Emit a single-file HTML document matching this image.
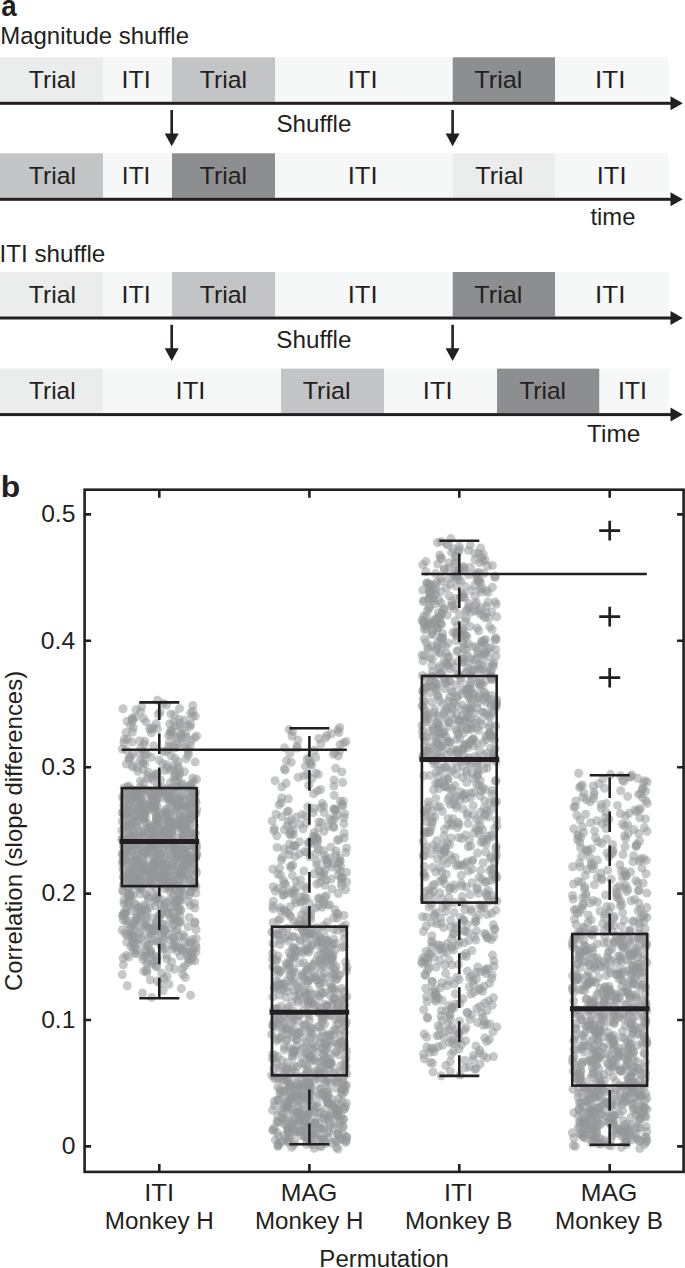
<!DOCTYPE html>
<html><head><meta charset="utf-8"><style>
html,body{margin:0;padding:0;background:#fff;width:685px;height:1268px;overflow:hidden}
svg{display:block}
text{font-family:"Liberation Sans",sans-serif;font-size:23.4px;fill:#231f20}
.d circle{fill:#949598;fill-opacity:0.52}
.b line,.b rect,.b path{stroke:#231f20;stroke-width:2.6;fill:none}
.b text{stroke:none}
</style></head><body>
<svg width="685" height="1268" viewBox="0 0 685 1268">
<rect width="685" height="1268" fill="#fff"/>
<rect x="0" y="57.3" width="103.0" height="44.6" fill="#ebecec"/>
<rect x="103" y="57.3" width="69.0" height="44.6" fill="#f6f7f7"/>
<rect x="172" y="57.3" width="103.0" height="44.6" fill="#c3c4c6"/>
<rect x="275" y="57.3" width="177.7" height="44.6" fill="#f6f7f7"/>
<rect x="452.7" y="57.3" width="102.3" height="44.6" fill="#8d8e90"/>
<rect x="555" y="57.3" width="113.5" height="44.6" fill="#f6f7f7"/>
<text transform="translate(28.77 87.75) scale(1.0588 1.0450)">Trial</text>
<text transform="translate(121.59 87.75) scale(1.0696 1.0450)">ITI</text>
<text transform="translate(199.67 87.75) scale(1.0588 1.0450)">Trial</text>
<text transform="translate(347.63 87.75) scale(1.0957 1.0450)">ITI</text>
<text transform="translate(474.36 87.75) scale(1.0776 1.0450)">Trial</text>
<text transform="translate(595.10 87.75) scale(1.1130 1.0450)">ITI</text>
<rect x="0" y="101.8" width="671" height="3" fill="#231f20"/>
<path d="M670.5 96.3L682.8 103.3L670.5 110.3Z" fill="#231f20"/>
<rect x="0" y="153.3" width="103.0" height="44.6" fill="#c3c4c6"/>
<rect x="103" y="153.3" width="69.0" height="44.6" fill="#f6f7f7"/>
<rect x="172" y="153.3" width="103.0" height="44.6" fill="#8d8e90"/>
<rect x="275" y="153.3" width="177.7" height="44.6" fill="#f6f7f7"/>
<rect x="452.7" y="153.3" width="102.3" height="44.6" fill="#ebecec"/>
<rect x="555" y="153.3" width="113.5" height="44.6" fill="#f6f7f7"/>
<text transform="translate(28.87 184.30) scale(1.0588 1.0450)">Trial</text>
<text transform="translate(121.84 184.30) scale(1.0478 1.0450)">ITI</text>
<text transform="translate(199.77 184.30) scale(1.0588 1.0450)">Trial</text>
<text transform="translate(347.63 184.30) scale(1.0957 1.0450)">ITI</text>
<text transform="translate(475.26 184.30) scale(1.0776 1.0450)">Trial</text>
<text transform="translate(596.74 184.30) scale(1.0913 1.0450)">ITI</text>
<rect x="0" y="197.8" width="671" height="3" fill="#231f20"/>
<path d="M670.5 192.3L682.8 199.3L670.5 206.3Z" fill="#231f20"/>
<rect x="0" y="272.0" width="103.0" height="44.6" fill="#ebecec"/>
<rect x="103" y="272.0" width="69.0" height="44.6" fill="#f6f7f7"/>
<rect x="172" y="272.0" width="103.0" height="44.6" fill="#c3c4c6"/>
<rect x="275" y="272.0" width="177.7" height="44.6" fill="#f6f7f7"/>
<rect x="452.7" y="272.0" width="102.3" height="44.6" fill="#8d8e90"/>
<rect x="555" y="272.0" width="113.5" height="44.6" fill="#f6f7f7"/>
<text transform="translate(28.77 302.70) scale(1.0588 1.0450)">Trial</text>
<text transform="translate(121.59 302.70) scale(1.0696 1.0450)">ITI</text>
<text transform="translate(199.67 302.70) scale(1.0588 1.0450)">Trial</text>
<text transform="translate(347.63 302.70) scale(1.0957 1.0450)">ITI</text>
<text transform="translate(474.36 302.70) scale(1.0776 1.0450)">Trial</text>
<text transform="translate(595.10 302.70) scale(1.1130 1.0450)">ITI</text>
<rect x="0" y="316.5" width="671" height="3" fill="#231f20"/>
<path d="M670.5 311.0L682.8 318.0L670.5 325.0Z" fill="#231f20"/>
<rect x="0" y="368.6" width="103.0" height="44.6" fill="#ebecec"/>
<rect x="103" y="368.6" width="178.0" height="44.6" fill="#f6f7f7"/>
<rect x="281" y="368.6" width="103.0" height="44.6" fill="#c3c4c6"/>
<rect x="384" y="368.6" width="113.0" height="44.6" fill="#f6f7f7"/>
<rect x="497" y="368.6" width="102.5" height="44.6" fill="#8d8e90"/>
<rect x="599.5" y="368.6" width="69.0" height="44.6" fill="#f6f7f7"/>
<text transform="translate(28.98 399.40) scale(1.0447 1.0450)">Trial</text>
<text transform="translate(175.53 399.40) scale(1.0957 1.0450)">ITI</text>
<text transform="translate(302.66 399.40) scale(1.0729 1.0450)">Trial</text>
<text transform="translate(422.85 399.40) scale(1.0870 1.0450)">ITI</text>
<text transform="translate(519.38 399.40) scale(1.0424 1.0450)">Trial</text>
<text transform="translate(617.90 399.40) scale(1.0652 1.0450)">ITI</text>
<rect x="0" y="413.1" width="671" height="3" fill="#231f20"/>
<path d="M670.5 407.6L682.8 414.6L670.5 421.6Z" fill="#231f20"/>
<rect x="170.4" y="110.0" width="2.6" height="25" fill="#231f20"/>
<path d="M164.7 133.5L178.7 133.5L171.7 146.2Z" fill="#231f20"/>
<rect x="451.3" y="110.0" width="2.6" height="25" fill="#231f20"/>
<path d="M445.6 133.5L459.6 133.5L452.6 146.2Z" fill="#231f20"/>
<rect x="170.4" y="324.8" width="2.6" height="25" fill="#231f20"/>
<path d="M164.7 348.3L178.7 348.3L171.7 361.0Z" fill="#231f20"/>
<rect x="451.3" y="324.8" width="2.6" height="25" fill="#231f20"/>
<path d="M445.6 348.3L459.6 348.3L452.6 361.0Z" fill="#231f20"/>
<text transform="translate(276.47 132.40) scale(1.0349 1.0400)">Shuffle</text>
<text transform="translate(276.36 347.60) scale(1.0377 1.0400)">Shuffle</text>
<text transform="translate(590.45 224.90) scale(1.0186 1.0400)">time</text>
<text transform="translate(587.08 442.00) scale(1.0424 1.0400)">Time</text>
<text transform="translate(0.25 43.50) scale(1.0246 1.0400)">Magnitude shuffle</text>
<text transform="translate(-0.58 262.40) scale(1.0348 1.0400)">ITI shuffle</text>
<text transform="translate(1.28 16.4) scale(0.955 1.02)" style="font-weight:bold;font-size:29px">a</text>
<text transform="translate(0.79 497.35) scale(1.097 1.03)" style="font-weight:bold;font-size:29px">b</text>
<g class="d"><circle cx="189.9" cy="942.5" r="4.5"/><circle cx="152.9" cy="847.7" r="4.5"/><circle cx="137.9" cy="855.5" r="4.5"/><circle cx="135.3" cy="717.2" r="4.5"/><circle cx="170.9" cy="823.0" r="4.5"/><circle cx="155.6" cy="823.2" r="4.5"/><circle cx="189.9" cy="726.8" r="4.5"/><circle cx="181.5" cy="804.5" r="4.5"/><circle cx="125.7" cy="814.6" r="4.5"/><circle cx="175.3" cy="726.2" r="4.5"/><circle cx="169.5" cy="884.9" r="4.5"/><circle cx="170.9" cy="907.8" r="4.5"/><circle cx="161.5" cy="863.5" r="4.5"/><circle cx="179.6" cy="908.5" r="4.5"/><circle cx="180.5" cy="948.4" r="4.5"/><circle cx="156.4" cy="941.2" r="4.5"/><circle cx="127.8" cy="887.6" r="4.5"/><circle cx="153.1" cy="727.6" r="4.5"/><circle cx="174.0" cy="826.4" r="4.5"/><circle cx="155.4" cy="774.1" r="4.5"/><circle cx="167.6" cy="835.2" r="4.5"/><circle cx="182.5" cy="885.5" r="4.5"/><circle cx="143.6" cy="783.3" r="4.5"/><circle cx="154.9" cy="883.7" r="4.5"/><circle cx="136.6" cy="826.8" r="4.5"/><circle cx="161.9" cy="881.7" r="4.5"/><circle cx="177.9" cy="899.7" r="4.5"/><circle cx="149.6" cy="793.1" r="4.5"/><circle cx="147.4" cy="789.9" r="4.5"/><circle cx="174.7" cy="969.3" r="4.5"/><circle cx="150.8" cy="828.9" r="4.5"/><circle cx="131.9" cy="936.4" r="4.5"/><circle cx="139.6" cy="740.8" r="4.5"/><circle cx="124.0" cy="903.7" r="4.5"/><circle cx="177.1" cy="805.0" r="4.5"/><circle cx="196.1" cy="848.9" r="4.5"/><circle cx="157.4" cy="805.9" r="4.5"/><circle cx="167.0" cy="911.2" r="4.5"/><circle cx="190.1" cy="845.0" r="4.5"/><circle cx="183.2" cy="837.6" r="4.5"/><circle cx="190.5" cy="905.4" r="4.5"/><circle cx="171.4" cy="822.6" r="4.5"/><circle cx="174.8" cy="842.3" r="4.5"/><circle cx="134.4" cy="882.2" r="4.5"/><circle cx="178.0" cy="788.6" r="4.5"/><circle cx="164.5" cy="888.8" r="4.5"/><circle cx="170.5" cy="782.6" r="4.5"/><circle cx="138.5" cy="799.0" r="4.5"/><circle cx="164.1" cy="831.1" r="4.5"/><circle cx="161.5" cy="909.7" r="4.5"/><circle cx="150.5" cy="827.3" r="4.5"/><circle cx="149.0" cy="944.6" r="4.5"/><circle cx="182.7" cy="826.7" r="4.5"/><circle cx="132.6" cy="719.3" r="4.5"/><circle cx="185.2" cy="977.5" r="4.5"/><circle cx="130.4" cy="819.4" r="4.5"/><circle cx="139.0" cy="860.4" r="4.5"/><circle cx="175.2" cy="883.5" r="4.5"/><circle cx="168.3" cy="797.0" r="4.5"/><circle cx="168.0" cy="879.9" r="4.5"/><circle cx="182.2" cy="836.5" r="4.5"/><circle cx="183.6" cy="850.5" r="4.5"/><circle cx="151.3" cy="839.8" r="4.5"/><circle cx="195.6" cy="792.0" r="4.5"/><circle cx="185.9" cy="879.8" r="4.5"/><circle cx="152.4" cy="851.7" r="4.5"/><circle cx="162.0" cy="841.4" r="4.5"/><circle cx="162.9" cy="863.6" r="4.5"/><circle cx="134.6" cy="848.2" r="4.5"/><circle cx="164.0" cy="876.0" r="4.5"/><circle cx="148.2" cy="832.6" r="4.5"/><circle cx="188.0" cy="858.6" r="4.5"/><circle cx="155.8" cy="861.5" r="4.5"/><circle cx="154.5" cy="857.4" r="4.5"/><circle cx="133.1" cy="832.0" r="4.5"/><circle cx="174.0" cy="937.8" r="4.5"/><circle cx="188.3" cy="862.5" r="4.5"/><circle cx="172.9" cy="899.4" r="4.5"/><circle cx="126.6" cy="909.1" r="4.5"/><circle cx="145.9" cy="905.7" r="4.5"/><circle cx="172.8" cy="845.4" r="4.5"/><circle cx="132.7" cy="791.8" r="4.5"/><circle cx="130.8" cy="837.0" r="4.5"/><circle cx="161.5" cy="874.4" r="4.5"/><circle cx="179.4" cy="885.7" r="4.5"/><circle cx="152.0" cy="797.3" r="4.5"/><circle cx="136.9" cy="859.6" r="4.5"/><circle cx="147.1" cy="754.6" r="4.5"/><circle cx="134.9" cy="817.2" r="4.5"/><circle cx="131.0" cy="822.0" r="4.5"/><circle cx="170.8" cy="801.1" r="4.5"/><circle cx="163.9" cy="830.4" r="4.5"/><circle cx="142.7" cy="850.9" r="4.5"/><circle cx="144.1" cy="870.8" r="4.5"/><circle cx="160.5" cy="780.0" r="4.5"/><circle cx="133.9" cy="925.4" r="4.5"/><circle cx="156.9" cy="819.9" r="4.5"/><circle cx="161.7" cy="882.6" r="4.5"/><circle cx="157.3" cy="957.5" r="4.5"/><circle cx="190.6" cy="848.5" r="4.5"/><circle cx="173.4" cy="722.3" r="4.5"/><circle cx="154.6" cy="932.6" r="4.5"/><circle cx="157.5" cy="700.2" r="4.5"/><circle cx="160.1" cy="712.3" r="4.5"/><circle cx="164.3" cy="866.9" r="4.5"/><circle cx="152.8" cy="863.0" r="4.5"/><circle cx="186.0" cy="758.9" r="4.5"/><circle cx="196.1" cy="947.8" r="4.5"/><circle cx="156.3" cy="723.6" r="4.5"/><circle cx="190.6" cy="713.2" r="4.5"/><circle cx="181.7" cy="827.7" r="4.5"/><circle cx="138.1" cy="943.6" r="4.5"/><circle cx="194.9" cy="908.1" r="4.5"/><circle cx="142.3" cy="865.0" r="4.5"/><circle cx="130.9" cy="896.5" r="4.5"/><circle cx="139.7" cy="753.1" r="4.5"/><circle cx="181.8" cy="743.5" r="4.5"/><circle cx="136.7" cy="877.6" r="4.5"/><circle cx="176.3" cy="810.7" r="4.5"/><circle cx="134.2" cy="815.2" r="4.5"/><circle cx="186.8" cy="820.6" r="4.5"/><circle cx="194.2" cy="876.4" r="4.5"/><circle cx="143.2" cy="852.3" r="4.5"/><circle cx="189.1" cy="818.0" r="4.5"/><circle cx="160.7" cy="877.4" r="4.5"/><circle cx="195.6" cy="944.9" r="4.5"/><circle cx="177.4" cy="776.5" r="4.5"/><circle cx="163.6" cy="832.2" r="4.5"/><circle cx="172.8" cy="937.5" r="4.5"/><circle cx="154.8" cy="801.9" r="4.5"/><circle cx="190.0" cy="952.7" r="4.5"/><circle cx="141.2" cy="912.2" r="4.5"/><circle cx="156.1" cy="966.0" r="4.5"/><circle cx="196.6" cy="809.8" r="4.5"/><circle cx="132.2" cy="718.0" r="4.5"/><circle cx="169.0" cy="839.2" r="4.5"/><circle cx="184.9" cy="965.9" r="4.5"/><circle cx="172.6" cy="945.7" r="4.5"/><circle cx="130.1" cy="906.2" r="4.5"/><circle cx="123.0" cy="862.2" r="4.5"/><circle cx="188.9" cy="856.1" r="4.5"/><circle cx="184.1" cy="821.6" r="4.5"/><circle cx="139.9" cy="787.6" r="4.5"/><circle cx="131.1" cy="862.0" r="4.5"/><circle cx="168.3" cy="934.5" r="4.5"/><circle cx="182.1" cy="729.8" r="4.5"/><circle cx="147.7" cy="879.4" r="4.5"/><circle cx="135.7" cy="926.3" r="4.5"/><circle cx="168.3" cy="819.9" r="4.5"/><circle cx="128.9" cy="902.0" r="4.5"/><circle cx="183.2" cy="865.9" r="4.5"/><circle cx="146.5" cy="945.5" r="4.5"/><circle cx="135.1" cy="808.3" r="4.5"/><circle cx="132.2" cy="944.0" r="4.5"/><circle cx="152.8" cy="837.4" r="4.5"/><circle cx="140.0" cy="843.3" r="4.5"/><circle cx="137.1" cy="882.6" r="4.5"/><circle cx="164.8" cy="948.1" r="4.5"/><circle cx="133.1" cy="941.6" r="4.5"/><circle cx="170.2" cy="870.2" r="4.5"/><circle cx="177.4" cy="786.2" r="4.5"/><circle cx="156.0" cy="853.4" r="4.5"/><circle cx="183.3" cy="836.8" r="4.5"/><circle cx="172.8" cy="731.0" r="4.5"/><circle cx="150.2" cy="792.8" r="4.5"/><circle cx="168.5" cy="858.7" r="4.5"/><circle cx="132.5" cy="798.0" r="4.5"/><circle cx="184.7" cy="858.4" r="4.5"/><circle cx="135.1" cy="904.6" r="4.5"/><circle cx="190.0" cy="814.4" r="4.5"/><circle cx="140.4" cy="877.1" r="4.5"/><circle cx="130.5" cy="812.0" r="4.5"/><circle cx="127.3" cy="985.7" r="4.5"/><circle cx="130.3" cy="880.3" r="4.5"/><circle cx="173.4" cy="766.3" r="4.5"/><circle cx="182.0" cy="873.9" r="4.5"/><circle cx="144.3" cy="837.1" r="4.5"/><circle cx="127.2" cy="721.2" r="4.5"/><circle cx="171.1" cy="755.8" r="4.5"/><circle cx="190.9" cy="813.5" r="4.5"/><circle cx="160.1" cy="835.5" r="4.5"/><circle cx="125.5" cy="913.2" r="4.5"/><circle cx="192.1" cy="788.1" r="4.5"/><circle cx="127.8" cy="846.9" r="4.5"/><circle cx="126.3" cy="920.5" r="4.5"/><circle cx="196.8" cy="854.1" r="4.5"/><circle cx="145.6" cy="817.7" r="4.5"/><circle cx="122.7" cy="863.2" r="4.5"/><circle cx="180.9" cy="875.8" r="4.5"/><circle cx="145.0" cy="763.9" r="4.5"/><circle cx="178.8" cy="873.2" r="4.5"/><circle cx="174.8" cy="758.3" r="4.5"/><circle cx="152.8" cy="940.4" r="4.5"/><circle cx="168.2" cy="868.9" r="4.5"/><circle cx="148.3" cy="938.8" r="4.5"/><circle cx="173.1" cy="885.9" r="4.5"/><circle cx="170.8" cy="816.4" r="4.5"/><circle cx="175.0" cy="816.1" r="4.5"/><circle cx="164.8" cy="904.3" r="4.5"/><circle cx="132.7" cy="935.6" r="4.5"/><circle cx="154.8" cy="807.0" r="4.5"/><circle cx="184.2" cy="865.4" r="4.5"/><circle cx="155.8" cy="865.0" r="4.5"/><circle cx="179.9" cy="915.9" r="4.5"/><circle cx="129.1" cy="897.8" r="4.5"/><circle cx="162.2" cy="814.3" r="4.5"/><circle cx="156.5" cy="817.4" r="4.5"/><circle cx="154.4" cy="863.3" r="4.5"/><circle cx="195.2" cy="762.1" r="4.5"/><circle cx="122.9" cy="869.5" r="4.5"/><circle cx="161.6" cy="913.8" r="4.5"/><circle cx="162.2" cy="791.7" r="4.5"/><circle cx="136.6" cy="793.7" r="4.5"/><circle cx="141.6" cy="867.3" r="4.5"/><circle cx="180.1" cy="726.4" r="4.5"/><circle cx="192.9" cy="791.6" r="4.5"/><circle cx="139.9" cy="931.5" r="4.5"/><circle cx="166.0" cy="751.8" r="4.5"/><circle cx="181.4" cy="829.1" r="4.5"/><circle cx="147.1" cy="805.8" r="4.5"/><circle cx="156.4" cy="821.0" r="4.5"/><circle cx="130.3" cy="875.3" r="4.5"/><circle cx="182.8" cy="738.5" r="4.5"/><circle cx="188.4" cy="857.2" r="4.5"/><circle cx="169.4" cy="742.2" r="4.5"/><circle cx="130.6" cy="725.3" r="4.5"/><circle cx="187.9" cy="724.9" r="4.5"/><circle cx="138.1" cy="771.4" r="4.5"/><circle cx="124.9" cy="933.1" r="4.5"/><circle cx="139.7" cy="798.7" r="4.5"/><circle cx="169.3" cy="849.7" r="4.5"/><circle cx="140.9" cy="803.2" r="4.5"/><circle cx="177.4" cy="902.1" r="4.5"/><circle cx="134.2" cy="795.6" r="4.5"/><circle cx="148.0" cy="962.9" r="4.5"/><circle cx="134.8" cy="817.5" r="4.5"/><circle cx="145.6" cy="853.2" r="4.5"/><circle cx="169.2" cy="939.9" r="4.5"/><circle cx="143.4" cy="871.0" r="4.5"/><circle cx="129.7" cy="825.5" r="4.5"/><circle cx="174.0" cy="825.8" r="4.5"/><circle cx="183.6" cy="833.5" r="4.5"/><circle cx="125.9" cy="819.6" r="4.5"/><circle cx="168.5" cy="820.9" r="4.5"/><circle cx="196.0" cy="886.2" r="4.5"/><circle cx="183.5" cy="839.7" r="4.5"/><circle cx="174.4" cy="944.2" r="4.5"/><circle cx="141.1" cy="810.0" r="4.5"/><circle cx="193.3" cy="862.9" r="4.5"/><circle cx="160.4" cy="983.5" r="4.5"/><circle cx="188.4" cy="846.5" r="4.5"/><circle cx="129.7" cy="896.7" r="4.5"/><circle cx="182.5" cy="949.2" r="4.5"/><circle cx="147.9" cy="852.6" r="4.5"/><circle cx="155.7" cy="835.3" r="4.5"/><circle cx="190.1" cy="886.6" r="4.5"/><circle cx="179.4" cy="820.0" r="4.5"/><circle cx="123.2" cy="837.9" r="4.5"/><circle cx="129.4" cy="920.9" r="4.5"/><circle cx="147.5" cy="828.5" r="4.5"/><circle cx="162.4" cy="790.7" r="4.5"/><circle cx="128.7" cy="934.3" r="4.5"/><circle cx="151.4" cy="732.8" r="4.5"/><circle cx="156.8" cy="966.9" r="4.5"/><circle cx="179.2" cy="719.4" r="4.5"/><circle cx="179.5" cy="708.6" r="4.5"/><circle cx="155.8" cy="897.6" r="4.5"/><circle cx="188.3" cy="752.6" r="4.5"/><circle cx="190.6" cy="818.8" r="4.5"/><circle cx="161.7" cy="933.8" r="4.5"/><circle cx="127.0" cy="849.7" r="4.5"/><circle cx="162.5" cy="787.4" r="4.5"/><circle cx="168.5" cy="735.2" r="4.5"/><circle cx="141.7" cy="706.8" r="4.5"/><circle cx="123.9" cy="800.0" r="4.5"/><circle cx="146.7" cy="851.8" r="4.5"/><circle cx="191.1" cy="740.5" r="4.5"/><circle cx="190.0" cy="862.4" r="4.5"/><circle cx="163.7" cy="874.6" r="4.5"/><circle cx="138.9" cy="811.4" r="4.5"/><circle cx="194.4" cy="796.6" r="4.5"/><circle cx="137.7" cy="889.1" r="4.5"/><circle cx="156.8" cy="861.1" r="4.5"/><circle cx="168.6" cy="749.8" r="4.5"/><circle cx="130.8" cy="789.0" r="4.5"/><circle cx="141.0" cy="851.1" r="4.5"/><circle cx="164.9" cy="878.7" r="4.5"/><circle cx="133.4" cy="727.8" r="4.5"/><circle cx="177.4" cy="907.1" r="4.5"/><circle cx="134.3" cy="936.7" r="4.5"/><circle cx="181.4" cy="841.7" r="4.5"/><circle cx="141.0" cy="910.4" r="4.5"/><circle cx="172.4" cy="836.0" r="4.5"/><circle cx="143.7" cy="956.6" r="4.5"/><circle cx="141.4" cy="800.5" r="4.5"/><circle cx="159.2" cy="918.2" r="4.5"/><circle cx="135.6" cy="868.3" r="4.5"/><circle cx="157.3" cy="981.0" r="4.5"/><circle cx="147.3" cy="775.2" r="4.5"/><circle cx="138.2" cy="838.1" r="4.5"/><circle cx="190.8" cy="807.9" r="4.5"/><circle cx="168.9" cy="913.7" r="4.5"/><circle cx="147.3" cy="925.7" r="4.5"/><circle cx="172.2" cy="788.7" r="4.5"/><circle cx="136.2" cy="844.1" r="4.5"/><circle cx="186.1" cy="824.3" r="4.5"/><circle cx="177.4" cy="738.1" r="4.5"/><circle cx="135.5" cy="885.1" r="4.5"/><circle cx="196.2" cy="938.4" r="4.5"/><circle cx="188.5" cy="962.4" r="4.5"/><circle cx="172.4" cy="948.9" r="4.5"/><circle cx="179.1" cy="936.0" r="4.5"/><circle cx="173.7" cy="894.0" r="4.5"/><circle cx="192.3" cy="818.6" r="4.5"/><circle cx="135.0" cy="860.7" r="4.5"/><circle cx="179.4" cy="849.5" r="4.5"/><circle cx="158.1" cy="811.6" r="4.5"/><circle cx="159.0" cy="820.7" r="4.5"/><circle cx="169.5" cy="835.1" r="4.5"/><circle cx="136.2" cy="953.8" r="4.5"/><circle cx="160.4" cy="914.8" r="4.5"/><circle cx="156.4" cy="889.6" r="4.5"/><circle cx="144.7" cy="805.1" r="4.5"/><circle cx="127.5" cy="840.2" r="4.5"/><circle cx="123.3" cy="964.7" r="4.5"/><circle cx="185.8" cy="828.3" r="4.5"/><circle cx="183.0" cy="859.8" r="4.5"/><circle cx="167.2" cy="976.4" r="4.5"/><circle cx="178.2" cy="893.7" r="4.5"/><circle cx="150.5" cy="952.0" r="4.5"/><circle cx="138.4" cy="850.3" r="4.5"/><circle cx="157.6" cy="895.6" r="4.5"/><circle cx="190.0" cy="797.4" r="4.5"/><circle cx="150.5" cy="868.1" r="4.5"/><circle cx="161.1" cy="943.0" r="4.5"/><circle cx="173.6" cy="745.4" r="4.5"/><circle cx="183.6" cy="829.5" r="4.5"/><circle cx="194.6" cy="887.4" r="4.5"/><circle cx="127.2" cy="878.0" r="4.5"/><circle cx="157.4" cy="773.5" r="4.5"/><circle cx="196.5" cy="872.5" r="4.5"/><circle cx="174.4" cy="780.9" r="4.5"/><circle cx="140.0" cy="878.2" r="4.5"/><circle cx="158.1" cy="898.6" r="4.5"/><circle cx="158.6" cy="915.2" r="4.5"/><circle cx="126.2" cy="955.5" r="4.5"/><circle cx="153.2" cy="805.7" r="4.5"/><circle cx="172.6" cy="880.4" r="4.5"/><circle cx="150.4" cy="979.9" r="4.5"/><circle cx="189.9" cy="799.3" r="4.5"/><circle cx="162.7" cy="834.8" r="4.5"/><circle cx="132.3" cy="720.7" r="4.5"/><circle cx="140.7" cy="880.1" r="4.5"/><circle cx="196.0" cy="843.8" r="4.5"/><circle cx="189.3" cy="959.5" r="4.5"/><circle cx="124.2" cy="787.8" r="4.5"/><circle cx="143.4" cy="830.2" r="4.5"/><circle cx="194.6" cy="842.5" r="4.5"/><circle cx="182.7" cy="974.2" r="4.5"/><circle cx="143.0" cy="832.8" r="4.5"/><circle cx="150.9" cy="802.7" r="4.5"/><circle cx="145.0" cy="950.2" r="4.5"/><circle cx="157.3" cy="818.2" r="4.5"/><circle cx="192.1" cy="886.9" r="4.5"/><circle cx="195.7" cy="857.0" r="4.5"/><circle cx="144.3" cy="821.3" r="4.5"/><circle cx="168.9" cy="984.2" r="4.5"/><circle cx="122.6" cy="890.2" r="4.5"/><circle cx="169.4" cy="802.8" r="4.5"/><circle cx="179.6" cy="772.8" r="4.5"/><circle cx="159.9" cy="844.8" r="4.5"/><circle cx="187.3" cy="808.2" r="4.5"/><circle cx="175.2" cy="808.5" r="4.5"/><circle cx="130.5" cy="867.0" r="4.5"/><circle cx="161.0" cy="864.2" r="4.5"/><circle cx="143.3" cy="871.4" r="4.5"/><circle cx="141.1" cy="875.0" r="4.5"/><circle cx="173.4" cy="848.5" r="4.5"/><circle cx="143.4" cy="856.7" r="4.5"/><circle cx="146.8" cy="970.4" r="4.5"/><circle cx="140.8" cy="938.5" r="4.5"/><circle cx="163.5" cy="798.0" r="4.5"/><circle cx="140.5" cy="781.0" r="4.5"/><circle cx="157.8" cy="870.4" r="4.5"/><circle cx="131.0" cy="910.8" r="4.5"/><circle cx="159.8" cy="853.8" r="4.5"/><circle cx="134.6" cy="870.9" r="4.5"/><circle cx="168.0" cy="830.8" r="4.5"/><circle cx="170.4" cy="770.3" r="4.5"/><circle cx="145.8" cy="851.5" r="4.5"/><circle cx="138.4" cy="919.4" r="4.5"/><circle cx="184.4" cy="937.2" r="4.5"/><circle cx="148.5" cy="897.0" r="4.5"/><circle cx="145.7" cy="956.4" r="4.5"/><circle cx="190.3" cy="785.5" r="4.5"/><circle cx="135.7" cy="920.5" r="4.5"/><circle cx="168.7" cy="746.4" r="4.5"/><circle cx="180.6" cy="900.8" r="4.5"/><circle cx="148.2" cy="842.0" r="4.5"/><circle cx="127.6" cy="739.1" r="4.5"/><circle cx="156.7" cy="834.1" r="4.5"/><circle cx="142.2" cy="815.0" r="4.5"/><circle cx="131.1" cy="927.3" r="4.5"/><circle cx="150.5" cy="891.3" r="4.5"/><circle cx="192.9" cy="800.4" r="4.5"/><circle cx="145.9" cy="838.3" r="4.5"/><circle cx="172.7" cy="876.1" r="4.5"/><circle cx="134.5" cy="947.1" r="4.5"/><circle cx="126.4" cy="764.1" r="4.5"/><circle cx="146.5" cy="852.9" r="4.5"/><circle cx="155.9" cy="881.4" r="4.5"/><circle cx="184.7" cy="866.8" r="4.5"/><circle cx="139.2" cy="907.3" r="4.5"/><circle cx="125.1" cy="794.0" r="4.5"/><circle cx="168.7" cy="822.4" r="4.5"/><circle cx="156.5" cy="960.8" r="4.5"/><circle cx="142.5" cy="836.3" r="4.5"/><circle cx="142.8" cy="959.3" r="4.5"/><circle cx="163.2" cy="990.6" r="4.5"/><circle cx="168.1" cy="813.7" r="4.5"/><circle cx="144.0" cy="864.6" r="4.5"/><circle cx="194.9" cy="737.6" r="4.5"/><circle cx="169.7" cy="799.8" r="4.5"/><circle cx="192.0" cy="861.9" r="4.5"/><circle cx="126.5" cy="750.3" r="4.5"/><circle cx="180.0" cy="798.3" r="4.5"/><circle cx="184.3" cy="788.2" r="4.5"/><circle cx="152.2" cy="840.9" r="4.5"/><circle cx="152.7" cy="874.0" r="4.5"/><circle cx="126.9" cy="794.3" r="4.5"/><circle cx="172.1" cy="885.3" r="4.5"/><circle cx="161.3" cy="841.3" r="4.5"/><circle cx="135.7" cy="790.2" r="4.5"/><circle cx="184.3" cy="800.6" r="4.5"/><circle cx="130.2" cy="803.2" r="4.5"/><circle cx="178.5" cy="856.5" r="4.5"/><circle cx="189.3" cy="855.8" r="4.5"/><circle cx="192.8" cy="705.5" r="4.5"/><circle cx="123.9" cy="912.5" r="4.5"/><circle cx="129.5" cy="833.1" r="4.5"/><circle cx="148.4" cy="928.0" r="4.5"/><circle cx="163.3" cy="791.2" r="4.5"/><circle cx="165.8" cy="812.7" r="4.5"/><circle cx="153.5" cy="796.4" r="4.5"/><circle cx="134.4" cy="792.1" r="4.5"/><circle cx="127.3" cy="807.0" r="4.5"/><circle cx="183.4" cy="816.0" r="4.5"/><circle cx="196.6" cy="735.9" r="4.5"/><circle cx="136.6" cy="916.9" r="4.5"/><circle cx="130.6" cy="894.7" r="4.5"/><circle cx="146.5" cy="823.4" r="4.5"/><circle cx="184.4" cy="794.2" r="4.5"/><circle cx="166.6" cy="955.0" r="4.5"/><circle cx="181.7" cy="858.2" r="4.5"/><circle cx="155.0" cy="835.8" r="4.5"/><circle cx="172.2" cy="854.7" r="4.5"/><circle cx="123.0" cy="708.7" r="4.5"/><circle cx="142.8" cy="803.4" r="4.5"/><circle cx="165.2" cy="842.8" r="4.5"/><circle cx="171.0" cy="828.1" r="4.5"/><circle cx="181.9" cy="827.1" r="4.5"/><circle cx="146.7" cy="934.9" r="4.5"/><circle cx="171.6" cy="834.6" r="4.5"/><circle cx="159.8" cy="852.8" r="4.5"/><circle cx="123.1" cy="958.0" r="4.5"/><circle cx="154.0" cy="868.1" r="4.5"/><circle cx="156.4" cy="924.0" r="4.5"/><circle cx="154.3" cy="845.0" r="4.5"/><circle cx="170.9" cy="831.4" r="4.5"/><circle cx="152.7" cy="874.8" r="4.5"/><circle cx="193.1" cy="950.9" r="4.5"/><circle cx="128.7" cy="759.5" r="4.5"/><circle cx="123.3" cy="885.0" r="4.5"/><circle cx="144.4" cy="789.7" r="4.5"/><circle cx="190.4" cy="804.7" r="4.5"/><circle cx="167.6" cy="809.0" r="4.5"/><circle cx="153.0" cy="868.6" r="4.5"/><circle cx="144.4" cy="924.9" r="4.5"/><circle cx="170.2" cy="854.5" r="4.5"/><circle cx="175.9" cy="852.5" r="4.5"/><circle cx="140.1" cy="760.2" r="4.5"/><circle cx="192.7" cy="871.2" r="4.5"/><circle cx="163.9" cy="978.3" r="4.5"/><circle cx="124.0" cy="900.1" r="4.5"/><circle cx="134.0" cy="943.3" r="4.5"/><circle cx="161.3" cy="946.3" r="4.5"/><circle cx="174.4" cy="902.9" r="4.5"/><circle cx="144.0" cy="884.1" r="4.5"/><circle cx="166.1" cy="831.7" r="4.5"/><circle cx="143.5" cy="816.5" r="4.5"/><circle cx="166.5" cy="767.5" r="4.5"/><circle cx="179.2" cy="837.7" r="4.5"/><circle cx="181.5" cy="872.9" r="4.5"/><circle cx="187.7" cy="946.2" r="4.5"/><circle cx="194.5" cy="882.3" r="4.5"/><circle cx="144.7" cy="741.2" r="4.5"/><circle cx="132.4" cy="732.1" r="4.5"/><circle cx="155.3" cy="811.8" r="4.5"/><circle cx="196.3" cy="854.9" r="4.5"/><circle cx="146.9" cy="864.8" r="4.5"/><circle cx="137.4" cy="859.4" r="4.5"/><circle cx="164.6" cy="872.5" r="4.5"/><circle cx="167.0" cy="764.8" r="4.5"/><circle cx="183.7" cy="951.3" r="4.5"/><circle cx="164.8" cy="833.6" r="4.5"/><circle cx="174.2" cy="777.1" r="4.5"/><circle cx="122.9" cy="915.4" r="4.5"/><circle cx="130.5" cy="799.7" r="4.5"/><circle cx="175.3" cy="875.1" r="4.5"/><circle cx="137.4" cy="767.9" r="4.5"/><circle cx="177.5" cy="807.2" r="4.5"/><circle cx="189.5" cy="804.4" r="4.5"/><circle cx="146.4" cy="909.2" r="4.5"/><circle cx="181.2" cy="784.9" r="4.5"/><circle cx="158.9" cy="827.0" r="4.5"/><circle cx="192.1" cy="868.7" r="4.5"/><circle cx="150.1" cy="828.1" r="4.5"/><circle cx="192.8" cy="777.9" r="4.5"/><circle cx="132.3" cy="938.0" r="4.5"/><circle cx="184.6" cy="894.5" r="4.5"/><circle cx="143.3" cy="819.3" r="4.5"/><circle cx="154.8" cy="801.4" r="4.5"/><circle cx="126.8" cy="843.2" r="4.5"/><circle cx="166.5" cy="902.6" r="4.5"/><circle cx="189.0" cy="895.4" r="4.5"/><circle cx="127.2" cy="840.0" r="4.5"/><circle cx="151.3" cy="790.6" r="4.5"/><circle cx="133.2" cy="950.1" r="4.5"/><circle cx="164.3" cy="932.5" r="4.5"/><circle cx="189.8" cy="824.2" r="4.5"/><circle cx="175.3" cy="736.8" r="4.5"/><circle cx="190.5" cy="995.2" r="4.5"/><circle cx="196.1" cy="802.5" r="4.5"/><circle cx="149.5" cy="728.8" r="4.5"/><circle cx="153.0" cy="793.4" r="4.5"/><circle cx="192.4" cy="833.8" r="4.5"/><circle cx="183.3" cy="867.8" r="4.5"/><circle cx="137.6" cy="877.3" r="4.5"/><circle cx="175.5" cy="947.2" r="4.5"/><circle cx="142.8" cy="817.9" r="4.5"/><circle cx="163.5" cy="703.5" r="4.5"/><circle cx="181.6" cy="825.3" r="4.5"/><circle cx="183.1" cy="853.9" r="4.5"/><circle cx="125.3" cy="851.2" r="4.5"/><circle cx="183.6" cy="942.0" r="4.5"/><circle cx="131.9" cy="742.0" r="4.5"/><circle cx="127.4" cy="880.7" r="4.5"/><circle cx="175.6" cy="821.9" r="4.5"/><circle cx="155.5" cy="845.8" r="4.5"/><circle cx="134.2" cy="874.3" r="4.5"/><circle cx="171.9" cy="824.6" r="4.5"/><circle cx="160.4" cy="928.2" r="4.5"/><circle cx="123.3" cy="920.0" r="4.5"/><circle cx="195.9" cy="893.0" r="4.5"/><circle cx="173.4" cy="793.7" r="4.5"/><circle cx="156.6" cy="921.6" r="4.5"/><circle cx="166.5" cy="822.8" r="4.5"/><circle cx="148.4" cy="772.2" r="4.5"/><circle cx="127.5" cy="826.1" r="4.5"/><circle cx="149.3" cy="846.6" r="4.5"/><circle cx="184.4" cy="771.8" r="4.5"/><circle cx="137.8" cy="883.0" r="4.5"/><circle cx="160.6" cy="841.8" r="4.5"/><circle cx="134.2" cy="856.4" r="4.5"/><circle cx="182.3" cy="806.5" r="4.5"/><circle cx="151.3" cy="729.2" r="4.5"/><circle cx="188.7" cy="951.9" r="4.5"/><circle cx="181.1" cy="910.1" r="4.5"/><circle cx="132.7" cy="801.6" r="4.5"/><circle cx="158.6" cy="869.3" r="4.5"/><circle cx="189.2" cy="917.5" r="4.5"/><circle cx="149.6" cy="844.2" r="4.5"/><circle cx="145.7" cy="812.8" r="4.5"/><circle cx="124.4" cy="739.5" r="4.5"/><circle cx="129.3" cy="835.8" r="4.5"/><circle cx="169.1" cy="830.9" r="4.5"/><circle cx="186.3" cy="869.2" r="4.5"/><circle cx="130.3" cy="928.8" r="4.5"/><circle cx="186.8" cy="828.5" r="4.5"/><circle cx="164.2" cy="812.2" r="4.5"/><circle cx="133.4" cy="765.3" r="4.5"/><circle cx="138.5" cy="836.1" r="4.5"/><circle cx="150.1" cy="879.6" r="4.5"/><circle cx="186.9" cy="859.1" r="4.5"/><circle cx="192.7" cy="711.2" r="4.5"/><circle cx="190.9" cy="818.3" r="4.5"/><circle cx="165.1" cy="930.2" r="4.5"/><circle cx="146.8" cy="912.0" r="4.5"/><circle cx="174.9" cy="830.1" r="4.5"/><circle cx="154.5" cy="793.5" r="4.5"/><circle cx="143.3" cy="905.0" r="4.5"/><circle cx="179.5" cy="922.8" r="4.5"/><circle cx="134.6" cy="795.3" r="4.5"/><circle cx="127.5" cy="923.7" r="4.5"/><circle cx="126.2" cy="849.8" r="4.5"/><circle cx="177.9" cy="822.5" r="4.5"/><circle cx="175.6" cy="848.2" r="4.5"/><circle cx="151.7" cy="878.9" r="4.5"/><circle cx="132.5" cy="753.9" r="4.5"/><circle cx="169.6" cy="887.9" r="4.5"/><circle cx="162.5" cy="924.1" r="4.5"/><circle cx="164.6" cy="924.9" r="4.5"/><circle cx="174.4" cy="906.7" r="4.5"/><circle cx="158.4" cy="714.4" r="4.5"/><circle cx="184.4" cy="720.2" r="4.5"/><circle cx="188.2" cy="833.1" r="4.5"/><circle cx="134.0" cy="842.5" r="4.5"/><circle cx="152.4" cy="778.0" r="4.5"/><circle cx="122.1" cy="930.1" r="4.5"/><circle cx="188.5" cy="795.1" r="4.5"/><circle cx="190.2" cy="745.2" r="4.5"/><circle cx="177.5" cy="851.4" r="4.5"/><circle cx="167.9" cy="872.0" r="4.5"/><circle cx="157.0" cy="849.2" r="4.5"/><circle cx="150.1" cy="953.2" r="4.5"/><circle cx="191.5" cy="834.6" r="4.5"/><circle cx="152.4" cy="918.1" r="4.5"/><circle cx="195.0" cy="794.8" r="4.5"/><circle cx="170.9" cy="714.0" r="4.5"/><circle cx="167.1" cy="819.5" r="4.5"/><circle cx="181.6" cy="849.1" r="4.5"/><circle cx="137.1" cy="911.7" r="4.5"/><circle cx="157.5" cy="786.8" r="4.5"/><circle cx="144.2" cy="926.5" r="4.5"/><circle cx="173.0" cy="912.7" r="4.5"/><circle cx="160.5" cy="904.2" r="4.5"/><circle cx="176.8" cy="864.3" r="4.5"/><circle cx="181.2" cy="734.6" r="4.5"/><circle cx="164.8" cy="883.2" r="4.5"/><circle cx="154.4" cy="930.8" r="4.5"/><circle cx="189.5" cy="812.4" r="4.5"/><circle cx="157.9" cy="792.9" r="4.5"/><circle cx="178.4" cy="782.4" r="4.5"/><circle cx="171.7" cy="961.7" r="4.5"/><circle cx="163.3" cy="871.4" r="4.5"/><circle cx="138.9" cy="803.7" r="4.5"/><circle cx="151.4" cy="933.6" r="4.5"/><circle cx="136.8" cy="799.2" r="4.5"/><circle cx="129.3" cy="824.8" r="4.5"/><circle cx="131.6" cy="840.1" r="4.5"/><circle cx="146.5" cy="833.9" r="4.5"/><circle cx="133.4" cy="861.0" r="4.5"/><circle cx="195.4" cy="857.8" r="4.5"/><circle cx="183.2" cy="934.8" r="4.5"/><circle cx="172.5" cy="876.3" r="4.5"/><circle cx="194.5" cy="815.3" r="4.5"/><circle cx="159.1" cy="878.3" r="4.5"/><circle cx="192.2" cy="954.3" r="4.5"/><circle cx="145.7" cy="850.5" r="4.5"/><circle cx="147.4" cy="945.3" r="4.5"/><circle cx="147.9" cy="867.9" r="4.5"/><circle cx="186.0" cy="747.1" r="4.5"/><circle cx="143.4" cy="789.2" r="4.5"/><circle cx="149.5" cy="907.6" r="4.5"/><circle cx="180.4" cy="956.0" r="4.5"/><circle cx="181.8" cy="848.7" r="4.5"/><circle cx="153.4" cy="859.1" r="4.5"/><circle cx="161.1" cy="854.4" r="4.5"/><circle cx="181.0" cy="874.7" r="4.5"/><circle cx="133.1" cy="807.6" r="4.5"/><circle cx="179.1" cy="775.5" r="4.5"/><circle cx="192.6" cy="939.5" r="4.5"/><circle cx="122.8" cy="853.6" r="4.5"/><circle cx="135.6" cy="952.9" r="4.5"/><circle cx="124.9" cy="882.8" r="4.5"/><circle cx="126.8" cy="871.8" r="4.5"/><circle cx="157.0" cy="926.0" r="4.5"/><circle cx="173.7" cy="890.4" r="4.5"/><circle cx="180.0" cy="815.5" r="4.5"/><circle cx="155.4" cy="898.8" r="4.5"/><circle cx="151.6" cy="830.7" r="4.5"/><circle cx="188.4" cy="901.5" r="4.5"/><circle cx="163.0" cy="949.0" r="4.5"/><circle cx="133.9" cy="845.9" r="4.5"/><circle cx="155.4" cy="866.5" r="4.5"/><circle cx="156.5" cy="788.9" r="4.5"/><circle cx="151.2" cy="928.6" r="4.5"/><circle cx="128.6" cy="785.9" r="4.5"/><circle cx="170.9" cy="795.5" r="4.5"/><circle cx="124.5" cy="914.4" r="4.5"/><circle cx="192.1" cy="803.9" r="4.5"/><circle cx="196.0" cy="813.2" r="4.5"/><circle cx="156.9" cy="940.9" r="4.5"/><circle cx="141.0" cy="888.4" r="4.5"/><circle cx="157.2" cy="798.5" r="4.5"/><circle cx="123.7" cy="805.4" r="4.5"/><circle cx="185.8" cy="807.8" r="4.5"/><circle cx="146.7" cy="963.8" r="4.5"/><circle cx="188.2" cy="926.8" r="4.5"/><circle cx="133.0" cy="882.0" r="4.5"/><circle cx="173.4" cy="924.5" r="4.5"/><circle cx="132.8" cy="823.1" r="4.5"/><circle cx="126.1" cy="732.4" r="4.5"/><circle cx="137.0" cy="949.6" r="4.5"/><circle cx="185.1" cy="825.2" r="4.5"/><circle cx="162.0" cy="834.9" r="4.5"/><circle cx="170.3" cy="839.1" r="4.5"/><circle cx="143.5" cy="808.1" r="4.5"/><circle cx="166.7" cy="865.2" r="4.5"/><circle cx="180.1" cy="873.5" r="4.5"/><circle cx="173.3" cy="881.0" r="4.5"/><circle cx="143.4" cy="718.5" r="4.5"/><circle cx="154.2" cy="844.4" r="4.5"/><circle cx="125.6" cy="797.8" r="4.5"/><circle cx="137.7" cy="869.7" r="4.5"/><circle cx="123.7" cy="810.6" r="4.5"/><circle cx="163.3" cy="884.0" r="4.5"/><circle cx="157.3" cy="728.7" r="4.5"/><circle cx="123.9" cy="742.7" r="4.5"/><circle cx="192.6" cy="957.7" r="4.5"/><circle cx="171.5" cy="829.3" r="4.5"/><circle cx="192.0" cy="838.7" r="4.5"/><circle cx="166.2" cy="882.1" r="4.5"/><circle cx="122.3" cy="821.4" r="4.5"/><circle cx="127.7" cy="787.1" r="4.5"/><circle cx="168.0" cy="826.6" r="4.5"/><circle cx="143.8" cy="752.0" r="4.5"/><circle cx="151.1" cy="880.9" r="4.5"/><circle cx="194.0" cy="805.3" r="4.5"/><circle cx="194.2" cy="846.9" r="4.5"/><circle cx="126.7" cy="935.4" r="4.5"/><circle cx="178.6" cy="879.3" r="4.5"/><circle cx="131.5" cy="795.2" r="4.5"/><circle cx="149.8" cy="824.7" r="4.5"/><circle cx="139.0" cy="933.2" r="4.5"/><circle cx="127.4" cy="814.2" r="4.5"/><circle cx="131.3" cy="789.8" r="4.5"/><circle cx="173.5" cy="845.2" r="4.5"/><circle cx="126.6" cy="851.9" r="4.5"/><circle cx="174.0" cy="823.9" r="4.5"/><circle cx="150.7" cy="950.5" r="4.5"/><circle cx="154.5" cy="811.7" r="4.5"/><circle cx="164.7" cy="876.7" r="4.5"/><circle cx="152.4" cy="963.9" r="4.5"/><circle cx="166.5" cy="705.0" r="4.5"/><circle cx="172.5" cy="796.0" r="4.5"/><circle cx="179.6" cy="804.6" r="4.5"/><circle cx="188.0" cy="873.4" r="4.5"/><circle cx="176.1" cy="860.3" r="4.5"/><circle cx="138.0" cy="861.6" r="4.5"/><circle cx="185.9" cy="864.1" r="4.5"/><circle cx="195.3" cy="716.1" r="4.5"/><circle cx="176.0" cy="931.1" r="4.5"/><circle cx="128.9" cy="855.6" r="4.5"/><circle cx="190.6" cy="942.7" r="4.5"/><circle cx="131.7" cy="932.0" r="4.5"/><circle cx="167.2" cy="881.8" r="4.5"/><circle cx="156.9" cy="844.7" r="4.5"/><circle cx="162.5" cy="763.5" r="4.5"/><circle cx="160.6" cy="823.7" r="4.5"/><circle cx="154.3" cy="955.8" r="4.5"/><circle cx="154.9" cy="802.0" r="4.5"/><circle cx="190.6" cy="832.5" r="4.5"/><circle cx="169.1" cy="883.8" r="4.5"/><circle cx="170.5" cy="919.2" r="4.5"/><circle cx="181.1" cy="796.3" r="4.5"/><circle cx="196.6" cy="846.2" r="4.5"/><circle cx="138.3" cy="790.4" r="4.5"/><circle cx="153.8" cy="867.1" r="4.5"/><circle cx="129.4" cy="757.7" r="4.5"/><circle cx="180.8" cy="819.0" r="4.5"/><circle cx="143.7" cy="816.2" r="4.5"/><circle cx="142.0" cy="889.8" r="4.5"/><circle cx="170.5" cy="734.3" r="4.5"/><circle cx="158.9" cy="791.1" r="4.5"/><circle cx="160.4" cy="860.6" r="4.5"/><circle cx="136.4" cy="836.7" r="4.5"/><circle cx="151.1" cy="954.6" r="4.5"/><circle cx="185.2" cy="852.1" r="4.5"/><circle cx="123.5" cy="846.1" r="4.5"/><circle cx="162.0" cy="899.9" r="4.5"/><circle cx="172.9" cy="919.8" r="4.5"/><circle cx="130.9" cy="946.5" r="4.5"/><circle cx="190.7" cy="724.4" r="4.5"/><circle cx="136.0" cy="709.7" r="4.5"/><circle cx="122.6" cy="796.7" r="4.5"/><circle cx="147.6" cy="843.6" r="4.5"/><circle cx="156.9" cy="875.6" r="4.5"/><circle cx="129.4" cy="892.7" r="4.5"/><circle cx="186.4" cy="806.3" r="4.5"/><circle cx="131.8" cy="852.1" r="4.5"/><circle cx="196.5" cy="779.3" r="4.5"/><circle cx="153.9" cy="803.9" r="4.5"/><circle cx="169.2" cy="794.5" r="4.5"/><circle cx="128.4" cy="873.0" r="4.5"/><circle cx="177.7" cy="951.5" r="4.5"/><circle cx="177.2" cy="848.0" r="4.5"/><circle cx="192.5" cy="716.7" r="4.5"/><circle cx="142.1" cy="856.8" r="4.5"/><circle cx="189.7" cy="878.9" r="4.5"/><circle cx="194.9" cy="960.7" r="4.5"/><circle cx="143.9" cy="811.3" r="4.5"/><circle cx="124.0" cy="813.8" r="4.5"/><circle cx="141.7" cy="917.1" r="4.5"/><circle cx="170.7" cy="730.4" r="4.5"/><circle cx="139.6" cy="887.2" r="4.5"/><circle cx="152.8" cy="864.4" r="4.5"/><circle cx="184.8" cy="829.1" r="4.5"/><circle cx="161.7" cy="936.3" r="4.5"/><circle cx="182.5" cy="968.3" r="4.5"/><circle cx="179.3" cy="947.4" r="4.5"/><circle cx="124.9" cy="807.3" r="4.5"/><circle cx="149.4" cy="875.5" r="4.5"/><circle cx="175.6" cy="940.8" r="4.5"/><circle cx="151.3" cy="757.2" r="4.5"/><circle cx="150.1" cy="831.9" r="4.5"/><circle cx="135.0" cy="904.0" r="4.5"/><circle cx="150.5" cy="804.2" r="4.5"/><circle cx="153.6" cy="834.4" r="4.5"/><circle cx="128.7" cy="957.1" r="4.5"/><circle cx="142.5" cy="993.1" r="4.5"/><circle cx="180.6" cy="921.9" r="4.5"/><circle cx="140.6" cy="711.7" r="4.5"/><circle cx="127.4" cy="810.2" r="4.5"/><circle cx="180.8" cy="889.4" r="4.5"/><circle cx="175.2" cy="918.6" r="4.5"/><circle cx="178.3" cy="881.2" r="4.5"/><circle cx="139.6" cy="843.1" r="4.5"/><circle cx="131.9" cy="836.6" r="4.5"/><circle cx="173.2" cy="802.3" r="4.5"/><circle cx="137.0" cy="820.3" r="4.5"/><circle cx="156.6" cy="816.7" r="4.5"/><circle cx="151.5" cy="807.6" r="4.5"/><circle cx="177.1" cy="823.6" r="4.5"/><circle cx="130.7" cy="869.8" r="4.5"/><circle cx="129.1" cy="873.6" r="4.5"/><circle cx="179.2" cy="857.3" r="4.5"/><circle cx="142.2" cy="850.1" r="4.5"/><circle cx="145.0" cy="754.0" r="4.5"/><circle cx="153.5" cy="927.1" r="4.5"/><circle cx="143.5" cy="861.7" r="4.5"/><circle cx="128.0" cy="844.5" r="4.5"/><circle cx="164.6" cy="857.6" r="4.5"/><circle cx="151.7" cy="997.4" r="4.5"/><circle cx="152.1" cy="838.4" r="4.5"/><circle cx="178.8" cy="802.1" r="4.5"/><circle cx="194.8" cy="839.0" r="4.5"/><circle cx="136.5" cy="859.2" r="4.5"/><circle cx="155.3" cy="855.2" r="4.5"/><circle cx="148.2" cy="898.2" r="4.5"/><circle cx="125.6" cy="824.5" r="4.5"/><circle cx="193.7" cy="781.9" r="4.5"/><circle cx="143.2" cy="769.3" r="4.5"/><circle cx="185.7" cy="817.3" r="4.5"/><circle cx="129.9" cy="838.8" r="4.5"/><circle cx="176.7" cy="801.2" r="4.5"/><circle cx="127.6" cy="796.8" r="4.5"/><circle cx="131.4" cy="850.7" r="4.5"/><circle cx="173.6" cy="769.6" r="4.5"/><circle cx="128.2" cy="896.1" r="4.5"/><circle cx="164.6" cy="879.2" r="4.5"/><circle cx="128.4" cy="826.3" r="4.5"/><circle cx="123.9" cy="814.9" r="4.5"/><circle cx="133.2" cy="895.8" r="4.5"/><circle cx="127.8" cy="812.7" r="4.5"/><circle cx="192.3" cy="815.6" r="4.5"/><circle cx="143.4" cy="843.5" r="4.5"/><circle cx="164.7" cy="868.4" r="4.5"/><circle cx="176.6" cy="901.1" r="4.5"/><circle cx="175.3" cy="774.5" r="4.5"/><circle cx="123.5" cy="891.9" r="4.5"/><circle cx="154.6" cy="901.4" r="4.5"/><circle cx="179.6" cy="900.3" r="4.5"/><circle cx="164.5" cy="929.5" r="4.5"/><circle cx="175.7" cy="847.9" r="4.5"/><circle cx="144.1" cy="744.2" r="4.5"/><circle cx="191.7" cy="790.2" r="4.5"/><circle cx="143.1" cy="761.1" r="4.5"/><circle cx="176.6" cy="854.8" r="4.5"/><circle cx="186.8" cy="786.7" r="4.5"/><circle cx="163.1" cy="751.3" r="4.5"/><circle cx="145.6" cy="883.1" r="4.5"/><circle cx="142.7" cy="762.8" r="4.5"/><circle cx="132.4" cy="766.9" r="4.5"/><circle cx="124.2" cy="827.6" r="4.5"/><circle cx="146.1" cy="916.2" r="4.5"/><circle cx="132.7" cy="871.7" r="4.5"/><circle cx="179.1" cy="768.9" r="4.5"/><circle cx="125.2" cy="858.2" r="4.5"/><circle cx="169.9" cy="899.1" r="4.5"/><circle cx="161.7" cy="865.8" r="4.5"/><circle cx="144.0" cy="867.6" r="4.5"/><circle cx="151.8" cy="931.7" r="4.5"/><circle cx="134.9" cy="845.6" r="4.5"/><circle cx="195.8" cy="857.5" r="4.5"/><circle cx="145.9" cy="809.9" r="4.5"/><circle cx="170.3" cy="811.1" r="4.5"/><circle cx="136.0" cy="794.8" r="4.5"/><circle cx="132.1" cy="870.1" r="4.5"/><circle cx="152.9" cy="961.3" r="4.5"/><circle cx="185.6" cy="733.4" r="4.5"/><circle cx="180.3" cy="855.3" r="4.5"/><circle cx="152.9" cy="840.3" r="4.5"/><circle cx="164.0" cy="849.3" r="4.5"/><circle cx="187.1" cy="954.7" r="4.5"/><circle cx="188.2" cy="755.3" r="4.5"/><circle cx="130.3" cy="811.0" r="4.5"/><circle cx="144.9" cy="813.3" r="4.5"/><circle cx="122.4" cy="853.4" r="4.5"/><circle cx="147.9" cy="778.5" r="4.5"/><circle cx="172.4" cy="866.4" r="4.5"/><circle cx="122.9" cy="856.0" r="4.5"/><circle cx="171.7" cy="927.7" r="4.5"/><circle cx="182.3" cy="866.6" r="4.5"/><circle cx="186.5" cy="737.2" r="4.5"/><circle cx="141.7" cy="814.0" r="4.5"/><circle cx="177.9" cy="766.3" r="4.5"/><circle cx="169.3" cy="967.8" r="4.5"/><circle cx="148.1" cy="809.2" r="4.5"/><circle cx="178.9" cy="911.4" r="4.5"/><circle cx="166.3" cy="843.9" r="4.5"/><circle cx="164.4" cy="818.9" r="4.5"/><circle cx="190.5" cy="880.1" r="4.5"/><circle cx="178.0" cy="921.2" r="4.5"/><circle cx="140.6" cy="813.1" r="4.5"/><circle cx="164.6" cy="829.8" r="4.5"/><circle cx="165.0" cy="770.6" r="4.5"/><circle cx="147.6" cy="797.6" r="4.5"/><circle cx="131.1" cy="880.6" r="4.5"/><circle cx="169.4" cy="788.4" r="4.5"/><circle cx="160.0" cy="829.7" r="4.5"/><circle cx="139.2" cy="806.7" r="4.5"/><circle cx="155.5" cy="865.6" r="4.5"/><circle cx="126.8" cy="902.9" r="4.5"/><circle cx="139.3" cy="939.2" r="4.5"/><circle cx="179.2" cy="892.3" r="4.5"/><circle cx="125.6" cy="832.3" r="4.5"/><circle cx="141.0" cy="797.2" r="4.5"/><circle cx="156.5" cy="876.5" r="4.5"/><circle cx="140.7" cy="790.8" r="4.5"/><circle cx="182.2" cy="801.8" r="4.5"/><circle cx="161.7" cy="973.2" r="4.5"/><circle cx="175.6" cy="916.5" r="4.5"/><circle cx="182.3" cy="891.1" r="4.5"/><circle cx="166.9" cy="886.5" r="4.5"/><circle cx="169.8" cy="723.8" r="4.5"/><circle cx="190.2" cy="837.3" r="4.5"/><circle cx="195.4" cy="800.2" r="4.5"/><circle cx="137.1" cy="810.3" r="4.5"/><circle cx="169.1" cy="839.5" r="4.5"/><circle cx="124.9" cy="914.2" r="4.5"/><circle cx="151.7" cy="884.4" r="4.5"/><circle cx="196.1" cy="929.6" r="4.5"/><circle cx="128.8" cy="888.4" r="4.5"/><circle cx="143.9" cy="971.3" r="4.5"/><circle cx="165.5" cy="789.5" r="4.5"/><circle cx="171.5" cy="821.7" r="4.5"/><circle cx="146.8" cy="972.2" r="4.5"/><circle cx="134.8" cy="865.4" r="4.5"/><circle cx="172.4" cy="801.0" r="4.5"/><circle cx="167.5" cy="861.4" r="4.5"/><circle cx="122.3" cy="974.6" r="4.5"/><circle cx="155.9" cy="800.8" r="4.5"/><circle cx="136.9" cy="825.6" r="4.5"/><circle cx="194.8" cy="923.0" r="4.5"/><circle cx="163.8" cy="853.0" r="4.5"/><circle cx="152.4" cy="799.4" r="4.5"/><circle cx="145.8" cy="918.8" r="4.5"/><circle cx="175.1" cy="866.1" r="4.5"/><circle cx="147.6" cy="872.7" r="4.5"/><circle cx="164.4" cy="845.7" r="4.5"/><circle cx="174.5" cy="715.0" r="4.5"/><circle cx="125.2" cy="878.4" r="4.5"/><circle cx="165.8" cy="795.8" r="4.5"/><circle cx="138.2" cy="884.2" r="4.5"/><circle cx="190.8" cy="784.4" r="4.5"/><circle cx="194.5" cy="903.3" r="4.5"/><circle cx="187.9" cy="749.2" r="4.5"/><circle cx="155.2" cy="775.9" r="4.5"/><circle cx="190.8" cy="860.0" r="4.5"/><circle cx="183.1" cy="840.5" r="4.5"/><circle cx="178.6" cy="870.7" r="4.5"/><circle cx="136.1" cy="877.1" r="4.5"/><circle cx="141.1" cy="792.5" r="4.5"/><circle cx="178.7" cy="798.4" r="4.5"/><circle cx="184.7" cy="847.5" r="4.5"/><circle cx="165.3" cy="815.8" r="4.5"/><circle cx="157.7" cy="825.1" r="4.5"/><circle cx="128.0" cy="803.0" r="4.5"/><circle cx="155.2" cy="808.9" r="4.5"/><circle cx="195.2" cy="869.1" r="4.5"/><circle cx="147.3" cy="842.9" r="4.5"/><circle cx="122.5" cy="915.8" r="4.5"/><circle cx="138.3" cy="817.0" r="4.5"/><circle cx="140.3" cy="793.2" r="4.5"/><circle cx="185.2" cy="874.2" r="4.5"/><circle cx="181.4" cy="809.7" r="4.5"/><circle cx="140.8" cy="886.1" r="4.5"/><circle cx="188.5" cy="863.7" r="4.5"/><circle cx="158.0" cy="792.4" r="4.5"/><circle cx="163.0" cy="794.6" r="4.5"/><circle cx="155.2" cy="905.9" r="4.5"/><circle cx="122.3" cy="749.0" r="4.5"/><circle cx="152.1" cy="847.2" r="4.5"/><circle cx="155.3" cy="803.5" r="4.5"/><circle cx="131.8" cy="884.7" r="4.5"/><circle cx="131.1" cy="796.0" r="4.5"/><circle cx="177.2" cy="869.9" r="4.5"/><circle cx="140.6" cy="808.7" r="4.5"/><circle cx="142.2" cy="909.8" r="4.5"/><circle cx="175.8" cy="823.8" r="4.5"/><circle cx="168.6" cy="866.2" r="4.5"/><circle cx="180.1" cy="897.4" r="4.5"/><circle cx="146.0" cy="721.9" r="4.5"/><circle cx="140.1" cy="893.9" r="4.5"/><circle cx="128.5" cy="893.4" r="4.5"/><circle cx="180.7" cy="735.4" r="4.5"/><circle cx="170.8" cy="731.7" r="4.5"/><circle cx="128.5" cy="846.4" r="4.5"/><circle cx="190.3" cy="838.1" r="4.5"/><circle cx="133.9" cy="829.9" r="4.5"/><circle cx="173.6" cy="884.6" r="4.5"/><circle cx="171.4" cy="847.1" r="4.5"/><circle cx="140.7" cy="748.3" r="4.5"/><circle cx="151.6" cy="841.2" r="4.5"/><circle cx="144.9" cy="953.5" r="4.5"/><circle cx="159.3" cy="760.1" r="4.5"/><circle cx="151.7" cy="827.3" r="4.5"/><circle cx="165.4" cy="873.8" r="4.5"/><circle cx="130.9" cy="756.7" r="4.5"/><circle cx="153.6" cy="875.8" r="4.5"/><circle cx="194.5" cy="825.9" r="4.5"/><circle cx="175.2" cy="747.9" r="4.5"/><circle cx="182.6" cy="783.6" r="4.5"/><circle cx="183.6" cy="816.9" r="4.5"/><circle cx="136.1" cy="867.5" r="4.5"/><circle cx="194.2" cy="842.2" r="4.5"/><circle cx="156.1" cy="872.1" r="4.5"/><circle cx="171.6" cy="883.5" r="4.5"/><circle cx="190.5" cy="856.2" r="4.5"/><circle cx="185.5" cy="821.1" r="4.5"/><circle cx="189.2" cy="805.6" r="4.5"/><circle cx="134.6" cy="834.3" r="4.5"/><circle cx="127.2" cy="859.9" r="4.5"/><circle cx="146.8" cy="871.9" r="4.5"/><circle cx="177.6" cy="744.3" r="4.5"/><circle cx="151.8" cy="841.0" r="4.5"/><circle cx="136.6" cy="809.4" r="4.5"/><circle cx="164.5" cy="906.6" r="4.5"/><circle cx="164.6" cy="877.7" r="4.5"/><circle cx="163.3" cy="940.0" r="4.5"/><circle cx="177.8" cy="806.6" r="4.5"/><circle cx="174.9" cy="847.5" r="4.5"/><circle cx="138.2" cy="908.6" r="4.5"/><circle cx="140.5" cy="810.6" r="4.5"/><circle cx="156.1" cy="799.9" r="4.5"/><circle cx="190.8" cy="892.3" r="4.5"/><circle cx="167.4" cy="828.8" r="4.5"/><circle cx="173.2" cy="862.7" r="4.5"/><circle cx="155.6" cy="832.9" r="4.5"/><circle cx="171.4" cy="831.6" r="4.5"/><circle cx="175.9" cy="858.0" r="4.5"/><circle cx="166.8" cy="958.9" r="4.5"/><circle cx="183.2" cy="850.2" r="4.5"/><circle cx="148.8" cy="881.1" r="4.5"/><circle cx="126.7" cy="942.1" r="4.5"/><circle cx="123.0" cy="860.2" r="4.5"/><circle cx="121.8" cy="839.4" r="4.5"/><circle cx="177.9" cy="761.4" r="4.5"/><circle cx="165.9" cy="809.5" r="4.5"/><circle cx="190.5" cy="891.6" r="4.5"/><circle cx="123.2" cy="876.9" r="4.5"/><circle cx="151.8" cy="806.2" r="4.5"/><circle cx="153.7" cy="930.5" r="4.5"/><circle cx="157.2" cy="862.7" r="4.5"/><circle cx="145.0" cy="923.2" r="4.5"/><circle cx="121.9" cy="830.6" r="4.5"/><circle cx="153.2" cy="780.5" r="4.5"/><circle cx="177.1" cy="929.2" r="4.5"/><circle cx="124.5" cy="858.9" r="4.5"/><circle cx="122.4" cy="812.5" r="4.5"/><circle cx="169.6" cy="890.9" r="4.5"/><circle cx="179.6" cy="723.1" r="4.5"/><circle cx="146.0" cy="870.3" r="4.5"/><circle cx="195.0" cy="922.0" r="4.5"/><circle cx="140.7" cy="831.3" r="4.5"/><circle cx="181.3" cy="988.6" r="4.5"/><circle cx="146.1" cy="894.9" r="4.5"/><circle cx="195.4" cy="833.3" r="4.5"/><circle cx="182.1" cy="854.2" r="4.5"/><circle cx="155.3" cy="827.9" r="4.5"/><circle cx="191.4" cy="960.1" r="4.5"/><circle cx="126.1" cy="840.8" r="4.5"/><circle cx="125.4" cy="791.4" r="4.5"/><circle cx="188.4" cy="958.3" r="4.5"/><circle cx="157.1" cy="818.5" r="4.5"/><circle cx="189.4" cy="860.9" r="4.5"/><circle cx="123.8" cy="814.6" r="4.5"/><circle cx="183.8" cy="877.8" r="4.5"/><circle cx="136.6" cy="917.8" r="4.5"/><circle cx="153.6" cy="745.9" r="4.5"/><circle cx="137.0" cy="841.6" r="4.5"/><circle cx="135.7" cy="922.3" r="4.5"/><circle cx="189.1" cy="820.2" r="4.5"/><circle cx="195.8" cy="952.3" r="4.5"/><circle cx="131.4" cy="798.8" r="4.5"/><circle cx="176.4" cy="792.3" r="4.5"/><circle cx="126.8" cy="863.9" r="4.5"/><circle cx="137.2" cy="822.2" r="4.5"/><circle cx="167.7" cy="913.4" r="4.5"/><circle cx="132.5" cy="878.6" r="4.5"/><circle cx="147.5" cy="855.1" r="4.5"/><circle cx="159.8" cy="789.3" r="4.5"/><circle cx="143.1" cy="881.5" r="4.5"/><circle cx="182.8" cy="872.4" r="4.5"/><circle cx="343.4" cy="1087.9" r="4.5"/><circle cx="336.5" cy="1141.4" r="4.5"/><circle cx="305.8" cy="1042.0" r="4.5"/><circle cx="294.9" cy="846.4" r="4.5"/><circle cx="333.7" cy="967.9" r="4.5"/><circle cx="312.9" cy="1036.9" r="4.5"/><circle cx="279.6" cy="929.8" r="4.5"/><circle cx="314.1" cy="832.5" r="4.5"/><circle cx="290.8" cy="867.6" r="4.5"/><circle cx="277.0" cy="1011.6" r="4.5"/><circle cx="341.4" cy="877.3" r="4.5"/><circle cx="320.5" cy="1042.8" r="4.5"/><circle cx="323.3" cy="1129.3" r="4.5"/><circle cx="293.1" cy="1097.7" r="4.5"/><circle cx="276.7" cy="1014.3" r="4.5"/><circle cx="295.4" cy="1096.2" r="4.5"/><circle cx="314.7" cy="1136.8" r="4.5"/><circle cx="278.3" cy="888.2" r="4.5"/><circle cx="277.9" cy="1146.0" r="4.5"/><circle cx="304.7" cy="926.7" r="4.5"/><circle cx="336.6" cy="809.8" r="4.5"/><circle cx="284.4" cy="829.7" r="4.5"/><circle cx="334.8" cy="1072.2" r="4.5"/><circle cx="300.5" cy="902.0" r="4.5"/><circle cx="279.9" cy="1019.4" r="4.5"/><circle cx="282.9" cy="1107.6" r="4.5"/><circle cx="278.0" cy="1023.5" r="4.5"/><circle cx="323.4" cy="925.8" r="4.5"/><circle cx="311.7" cy="843.3" r="4.5"/><circle cx="277.8" cy="969.5" r="4.5"/><circle cx="276.8" cy="835.7" r="4.5"/><circle cx="277.2" cy="969.7" r="4.5"/><circle cx="322.0" cy="1047.7" r="4.5"/><circle cx="341.2" cy="1000.0" r="4.5"/><circle cx="340.5" cy="871.2" r="4.5"/><circle cx="314.2" cy="1111.4" r="4.5"/><circle cx="341.7" cy="1089.6" r="4.5"/><circle cx="318.3" cy="849.2" r="4.5"/><circle cx="295.0" cy="955.5" r="4.5"/><circle cx="306.0" cy="1054.0" r="4.5"/><circle cx="291.4" cy="819.8" r="4.5"/><circle cx="299.2" cy="995.5" r="4.5"/><circle cx="335.7" cy="1052.5" r="4.5"/><circle cx="281.7" cy="1141.7" r="4.5"/><circle cx="303.1" cy="1048.0" r="4.5"/><circle cx="316.2" cy="980.0" r="4.5"/><circle cx="306.3" cy="1084.9" r="4.5"/><circle cx="346.5" cy="1085.4" r="4.5"/><circle cx="325.7" cy="1058.3" r="4.5"/><circle cx="329.6" cy="1082.7" r="4.5"/><circle cx="320.9" cy="743.8" r="4.5"/><circle cx="286.5" cy="1030.1" r="4.5"/><circle cx="322.6" cy="900.4" r="4.5"/><circle cx="284.4" cy="909.7" r="4.5"/><circle cx="324.9" cy="1050.7" r="4.5"/><circle cx="321.9" cy="1017.3" r="4.5"/><circle cx="273.0" cy="905.9" r="4.5"/><circle cx="293.8" cy="990.6" r="4.5"/><circle cx="324.9" cy="1012.1" r="4.5"/><circle cx="343.7" cy="742.9" r="4.5"/><circle cx="277.6" cy="1087.2" r="4.5"/><circle cx="277.0" cy="1016.6" r="4.5"/><circle cx="296.2" cy="881.6" r="4.5"/><circle cx="285.4" cy="1090.3" r="4.5"/><circle cx="341.7" cy="1048.5" r="4.5"/><circle cx="346.0" cy="741.5" r="4.5"/><circle cx="321.6" cy="963.3" r="4.5"/><circle cx="277.5" cy="934.1" r="4.5"/><circle cx="346.7" cy="996.7" r="4.5"/><circle cx="322.2" cy="803.4" r="4.5"/><circle cx="315.7" cy="757.4" r="4.5"/><circle cx="337.7" cy="1003.5" r="4.5"/><circle cx="308.0" cy="1012.9" r="4.5"/><circle cx="334.9" cy="752.3" r="4.5"/><circle cx="320.6" cy="876.6" r="4.5"/><circle cx="345.4" cy="925.0" r="4.5"/><circle cx="324.4" cy="855.4" r="4.5"/><circle cx="337.5" cy="840.3" r="4.5"/><circle cx="277.6" cy="1099.8" r="4.5"/><circle cx="301.7" cy="976.3" r="4.5"/><circle cx="299.3" cy="853.9" r="4.5"/><circle cx="272.5" cy="1058.7" r="4.5"/><circle cx="304.6" cy="886.4" r="4.5"/><circle cx="320.3" cy="1089.1" r="4.5"/><circle cx="329.7" cy="946.7" r="4.5"/><circle cx="346.5" cy="971.3" r="4.5"/><circle cx="284.4" cy="1016.8" r="4.5"/><circle cx="325.3" cy="950.1" r="4.5"/><circle cx="282.5" cy="931.2" r="4.5"/><circle cx="300.5" cy="879.7" r="4.5"/><circle cx="281.8" cy="786.9" r="4.5"/><circle cx="337.9" cy="1103.7" r="4.5"/><circle cx="278.1" cy="1145.8" r="4.5"/><circle cx="286.6" cy="1039.7" r="4.5"/><circle cx="330.9" cy="955.9" r="4.5"/><circle cx="288.2" cy="1078.0" r="4.5"/><circle cx="276.0" cy="814.3" r="4.5"/><circle cx="337.8" cy="729.9" r="4.5"/><circle cx="293.3" cy="834.3" r="4.5"/><circle cx="283.3" cy="1028.9" r="4.5"/><circle cx="309.8" cy="1032.1" r="4.5"/><circle cx="285.2" cy="770.1" r="4.5"/><circle cx="330.1" cy="1015.7" r="4.5"/><circle cx="342.4" cy="1094.6" r="4.5"/><circle cx="306.5" cy="1144.2" r="4.5"/><circle cx="281.5" cy="1060.2" r="4.5"/><circle cx="311.1" cy="1131.0" r="4.5"/><circle cx="293.4" cy="1014.2" r="4.5"/><circle cx="325.0" cy="992.4" r="4.5"/><circle cx="273.1" cy="886.8" r="4.5"/><circle cx="309.3" cy="1139.1" r="4.5"/><circle cx="307.1" cy="759.5" r="4.5"/><circle cx="294.1" cy="1129.6" r="4.5"/><circle cx="337.3" cy="918.1" r="4.5"/><circle cx="295.0" cy="899.7" r="4.5"/><circle cx="330.0" cy="1040.1" r="4.5"/><circle cx="321.2" cy="1095.6" r="4.5"/><circle cx="334.1" cy="1080.1" r="4.5"/><circle cx="304.8" cy="920.8" r="4.5"/><circle cx="333.7" cy="1124.6" r="4.5"/><circle cx="287.1" cy="825.7" r="4.5"/><circle cx="335.8" cy="966.2" r="4.5"/><circle cx="319.4" cy="1061.8" r="4.5"/><circle cx="308.9" cy="1081.5" r="4.5"/><circle cx="297.2" cy="926.5" r="4.5"/><circle cx="289.5" cy="1096.8" r="4.5"/><circle cx="292.2" cy="1069.3" r="4.5"/><circle cx="343.2" cy="801.3" r="4.5"/><circle cx="346.3" cy="1103.3" r="4.5"/><circle cx="330.3" cy="1114.5" r="4.5"/><circle cx="273.8" cy="1068.5" r="4.5"/><circle cx="342.5" cy="1126.2" r="4.5"/><circle cx="325.0" cy="1004.4" r="4.5"/><circle cx="280.7" cy="971.1" r="4.5"/><circle cx="328.3" cy="1034.6" r="4.5"/><circle cx="286.3" cy="1069.6" r="4.5"/><circle cx="317.0" cy="1102.9" r="4.5"/><circle cx="330.8" cy="847.1" r="4.5"/><circle cx="298.2" cy="777.2" r="4.5"/><circle cx="278.0" cy="1023.1" r="4.5"/><circle cx="336.8" cy="1044.4" r="4.5"/><circle cx="346.3" cy="1021.9" r="4.5"/><circle cx="298.4" cy="1112.1" r="4.5"/><circle cx="300.0" cy="1120.1" r="4.5"/><circle cx="327.3" cy="1102.1" r="4.5"/><circle cx="311.4" cy="1001.4" r="4.5"/><circle cx="307.8" cy="1097.9" r="4.5"/><circle cx="331.6" cy="973.8" r="4.5"/><circle cx="273.0" cy="922.4" r="4.5"/><circle cx="313.1" cy="977.0" r="4.5"/><circle cx="298.1" cy="1002.3" r="4.5"/><circle cx="324.3" cy="1140.1" r="4.5"/><circle cx="333.2" cy="826.7" r="4.5"/><circle cx="300.6" cy="1032.0" r="4.5"/><circle cx="322.5" cy="993.0" r="4.5"/><circle cx="317.3" cy="941.7" r="4.5"/><circle cx="337.0" cy="979.2" r="4.5"/><circle cx="325.4" cy="1082.8" r="4.5"/><circle cx="344.2" cy="1069.8" r="4.5"/><circle cx="313.4" cy="1133.3" r="4.5"/><circle cx="309.9" cy="999.5" r="4.5"/><circle cx="327.3" cy="922.1" r="4.5"/><circle cx="310.3" cy="764.1" r="4.5"/><circle cx="287.3" cy="928.2" r="4.5"/><circle cx="330.2" cy="1124.2" r="4.5"/><circle cx="329.9" cy="995.2" r="4.5"/><circle cx="301.6" cy="985.3" r="4.5"/><circle cx="297.0" cy="950.3" r="4.5"/><circle cx="300.2" cy="1119.2" r="4.5"/><circle cx="306.8" cy="970.6" r="4.5"/><circle cx="291.7" cy="1124.1" r="4.5"/><circle cx="319.4" cy="985.0" r="4.5"/><circle cx="340.3" cy="860.8" r="4.5"/><circle cx="332.6" cy="863.5" r="4.5"/><circle cx="314.9" cy="1076.1" r="4.5"/><circle cx="284.2" cy="849.0" r="4.5"/><circle cx="293.5" cy="968.9" r="4.5"/><circle cx="293.7" cy="1020.0" r="4.5"/><circle cx="286.8" cy="1109.2" r="4.5"/><circle cx="342.3" cy="1008.2" r="4.5"/><circle cx="330.2" cy="858.0" r="4.5"/><circle cx="287.7" cy="1081.1" r="4.5"/><circle cx="336.1" cy="978.9" r="4.5"/><circle cx="323.8" cy="1138.4" r="4.5"/><circle cx="316.8" cy="837.4" r="4.5"/><circle cx="338.3" cy="1116.3" r="4.5"/><circle cx="279.0" cy="936.1" r="4.5"/><circle cx="293.0" cy="1120.8" r="4.5"/><circle cx="306.9" cy="1115.0" r="4.5"/><circle cx="337.4" cy="1007.5" r="4.5"/><circle cx="308.2" cy="1003.7" r="4.5"/><circle cx="322.2" cy="1093.1" r="4.5"/><circle cx="338.6" cy="1109.8" r="4.5"/><circle cx="272.8" cy="869.1" r="4.5"/><circle cx="300.2" cy="1086.0" r="4.5"/><circle cx="318.5" cy="1113.1" r="4.5"/><circle cx="293.7" cy="1144.8" r="4.5"/><circle cx="274.4" cy="1076.0" r="4.5"/><circle cx="327.7" cy="1069.1" r="4.5"/><circle cx="314.4" cy="1059.7" r="4.5"/><circle cx="317.8" cy="979.5" r="4.5"/><circle cx="295.0" cy="1126.9" r="4.5"/><circle cx="328.6" cy="1132.7" r="4.5"/><circle cx="320.7" cy="1145.4" r="4.5"/><circle cx="284.3" cy="1015.3" r="4.5"/><circle cx="305.7" cy="1108.7" r="4.5"/><circle cx="309.9" cy="856.8" r="4.5"/><circle cx="317.4" cy="841.3" r="4.5"/><circle cx="274.4" cy="1101.2" r="4.5"/><circle cx="292.2" cy="1055.8" r="4.5"/><circle cx="287.8" cy="1127.4" r="4.5"/><circle cx="343.8" cy="1020.9" r="4.5"/><circle cx="308.6" cy="785.3" r="4.5"/><circle cx="335.5" cy="1107.9" r="4.5"/><circle cx="332.0" cy="1106.2" r="4.5"/><circle cx="331.4" cy="987.0" r="4.5"/><circle cx="326.1" cy="940.4" r="4.5"/><circle cx="322.0" cy="907.2" r="4.5"/><circle cx="323.6" cy="904.0" r="4.5"/><circle cx="326.7" cy="1065.5" r="4.5"/><circle cx="281.9" cy="1080.4" r="4.5"/><circle cx="277.8" cy="1056.6" r="4.5"/><circle cx="309.3" cy="1094.1" r="4.5"/><circle cx="292.8" cy="865.1" r="4.5"/><circle cx="290.6" cy="832.1" r="4.5"/><circle cx="343.4" cy="1019.1" r="4.5"/><circle cx="345.2" cy="1060.5" r="4.5"/><circle cx="306.4" cy="934.7" r="4.5"/><circle cx="300.3" cy="1100.5" r="4.5"/><circle cx="292.3" cy="824.6" r="4.5"/><circle cx="331.6" cy="1104.2" r="4.5"/><circle cx="314.6" cy="1125.1" r="4.5"/><circle cx="305.4" cy="996.4" r="4.5"/><circle cx="288.5" cy="1046.9" r="4.5"/><circle cx="311.2" cy="1143.4" r="4.5"/><circle cx="293.7" cy="1066.0" r="4.5"/><circle cx="344.1" cy="817.5" r="4.5"/><circle cx="284.4" cy="1075.0" r="4.5"/><circle cx="304.0" cy="1002.9" r="4.5"/><circle cx="334.5" cy="809.3" r="4.5"/><circle cx="341.4" cy="1092.8" r="4.5"/><circle cx="311.0" cy="1087.5" r="4.5"/><circle cx="345.0" cy="1085.2" r="4.5"/><circle cx="306.2" cy="1129.4" r="4.5"/><circle cx="278.7" cy="1136.4" r="4.5"/><circle cx="319.2" cy="1071.3" r="4.5"/><circle cx="280.6" cy="907.6" r="4.5"/><circle cx="339.7" cy="974.7" r="4.5"/><circle cx="304.5" cy="1136.4" r="4.5"/><circle cx="331.8" cy="867.1" r="4.5"/><circle cx="328.6" cy="1103.1" r="4.5"/><circle cx="335.6" cy="854.9" r="4.5"/><circle cx="293.3" cy="982.1" r="4.5"/><circle cx="279.5" cy="995.0" r="4.5"/><circle cx="311.8" cy="1109.7" r="4.5"/><circle cx="304.3" cy="900.0" r="4.5"/><circle cx="289.7" cy="975.4" r="4.5"/><circle cx="302.0" cy="1084.3" r="4.5"/><circle cx="306.6" cy="1065.2" r="4.5"/><circle cx="287.4" cy="893.0" r="4.5"/><circle cx="343.9" cy="915.4" r="4.5"/><circle cx="313.1" cy="1095.0" r="4.5"/><circle cx="303.1" cy="1086.9" r="4.5"/><circle cx="289.2" cy="1100.9" r="4.5"/><circle cx="274.2" cy="1058.9" r="4.5"/><circle cx="283.4" cy="1118.9" r="4.5"/><circle cx="321.2" cy="954.2" r="4.5"/><circle cx="288.7" cy="1013.6" r="4.5"/><circle cx="330.9" cy="959.3" r="4.5"/><circle cx="272.2" cy="821.0" r="4.5"/><circle cx="302.1" cy="1096.6" r="4.5"/><circle cx="325.6" cy="1098.8" r="4.5"/><circle cx="344.2" cy="837.9" r="4.5"/><circle cx="278.0" cy="974.2" r="4.5"/><circle cx="321.3" cy="822.5" r="4.5"/><circle cx="319.8" cy="1068.0" r="4.5"/><circle cx="303.5" cy="932.3" r="4.5"/><circle cx="291.8" cy="1134.9" r="4.5"/><circle cx="319.6" cy="1038.0" r="4.5"/><circle cx="344.0" cy="1010.0" r="4.5"/><circle cx="298.7" cy="1016.0" r="4.5"/><circle cx="279.4" cy="1122.5" r="4.5"/><circle cx="320.0" cy="983.2" r="4.5"/><circle cx="309.3" cy="1135.2" r="4.5"/><circle cx="300.7" cy="926.1" r="4.5"/><circle cx="327.9" cy="1091.8" r="4.5"/><circle cx="328.4" cy="1015.0" r="4.5"/><circle cx="275.7" cy="986.5" r="4.5"/><circle cx="292.5" cy="875.6" r="4.5"/><circle cx="286.6" cy="1039.5" r="4.5"/><circle cx="303.8" cy="962.7" r="4.5"/><circle cx="333.9" cy="929.5" r="4.5"/><circle cx="320.8" cy="807.8" r="4.5"/><circle cx="334.0" cy="786.1" r="4.5"/><circle cx="300.0" cy="993.4" r="4.5"/><circle cx="344.2" cy="991.5" r="4.5"/><circle cx="321.5" cy="992.0" r="4.5"/><circle cx="300.0" cy="920.1" r="4.5"/><circle cx="327.2" cy="1047.4" r="4.5"/><circle cx="336.7" cy="913.2" r="4.5"/><circle cx="312.4" cy="1028.5" r="4.5"/><circle cx="315.8" cy="1070.6" r="4.5"/><circle cx="310.6" cy="1027.7" r="4.5"/><circle cx="327.6" cy="952.6" r="4.5"/><circle cx="286.6" cy="760.8" r="4.5"/><circle cx="292.9" cy="1053.2" r="4.5"/><circle cx="311.8" cy="994.4" r="4.5"/><circle cx="309.1" cy="990.0" r="4.5"/><circle cx="324.4" cy="951.7" r="4.5"/><circle cx="327.3" cy="1089.9" r="4.5"/><circle cx="329.8" cy="1053.7" r="4.5"/><circle cx="329.9" cy="953.6" r="4.5"/><circle cx="335.6" cy="970.4" r="4.5"/><circle cx="310.6" cy="919.4" r="4.5"/><circle cx="330.1" cy="983.8" r="4.5"/><circle cx="338.8" cy="839.4" r="4.5"/><circle cx="341.6" cy="882.9" r="4.5"/><circle cx="273.0" cy="908.8" r="4.5"/><circle cx="323.6" cy="1118.0" r="4.5"/><circle cx="324.8" cy="897.2" r="4.5"/><circle cx="289.1" cy="1135.8" r="4.5"/><circle cx="333.4" cy="1030.7" r="4.5"/><circle cx="346.8" cy="1137.1" r="4.5"/><circle cx="319.9" cy="882.6" r="4.5"/><circle cx="321.8" cy="958.6" r="4.5"/><circle cx="288.6" cy="1132.3" r="4.5"/><circle cx="310.4" cy="978.4" r="4.5"/><circle cx="295.2" cy="856.4" r="4.5"/><circle cx="297.3" cy="1112.6" r="4.5"/><circle cx="282.0" cy="1031.5" r="4.5"/><circle cx="330.3" cy="1036.2" r="4.5"/><circle cx="310.2" cy="968.6" r="4.5"/><circle cx="347.0" cy="967.2" r="4.5"/><circle cx="321.8" cy="1030.9" r="4.5"/><circle cx="282.2" cy="1096.9" r="4.5"/><circle cx="332.1" cy="889.1" r="4.5"/><circle cx="309.1" cy="1009.1" r="4.5"/><circle cx="332.9" cy="977.4" r="4.5"/><circle cx="319.0" cy="1094.3" r="4.5"/><circle cx="318.4" cy="898.8" r="4.5"/><circle cx="299.0" cy="1113.1" r="4.5"/><circle cx="330.1" cy="1064.3" r="4.5"/><circle cx="343.9" cy="823.9" r="4.5"/><circle cx="329.8" cy="957.2" r="4.5"/><circle cx="337.5" cy="1116.7" r="4.5"/><circle cx="281.6" cy="798.0" r="4.5"/><circle cx="296.5" cy="1039.4" r="4.5"/><circle cx="336.5" cy="1051.4" r="4.5"/><circle cx="288.4" cy="798.7" r="4.5"/><circle cx="306.1" cy="949.7" r="4.5"/><circle cx="305.5" cy="1120.8" r="4.5"/><circle cx="346.7" cy="881.9" r="4.5"/><circle cx="338.5" cy="1023.7" r="4.5"/><circle cx="291.1" cy="954.8" r="4.5"/><circle cx="307.5" cy="1116.9" r="4.5"/><circle cx="313.7" cy="873.7" r="4.5"/><circle cx="290.2" cy="958.3" r="4.5"/><circle cx="316.1" cy="853.4" r="4.5"/><circle cx="335.1" cy="1108.1" r="4.5"/><circle cx="335.3" cy="1029.9" r="4.5"/><circle cx="314.3" cy="972.3" r="4.5"/><circle cx="282.1" cy="857.2" r="4.5"/><circle cx="274.6" cy="1105.6" r="4.5"/><circle cx="286.2" cy="1138.5" r="4.5"/><circle cx="324.0" cy="1114.9" r="4.5"/><circle cx="315.4" cy="1046.2" r="4.5"/><circle cx="311.5" cy="1058.5" r="4.5"/><circle cx="307.2" cy="1134.8" r="4.5"/><circle cx="277.4" cy="1115.3" r="4.5"/><circle cx="329.4" cy="1116.1" r="4.5"/><circle cx="334.2" cy="795.4" r="4.5"/><circle cx="291.2" cy="892.4" r="4.5"/><circle cx="291.3" cy="1097.5" r="4.5"/><circle cx="283.7" cy="894.8" r="4.5"/><circle cx="340.5" cy="1035.1" r="4.5"/><circle cx="276.0" cy="1077.3" r="4.5"/><circle cx="294.9" cy="891.6" r="4.5"/><circle cx="309.9" cy="1092.5" r="4.5"/><circle cx="343.2" cy="1077.1" r="4.5"/><circle cx="293.3" cy="1010.8" r="4.5"/><circle cx="325.8" cy="959.9" r="4.5"/><circle cx="292.1" cy="972.7" r="4.5"/><circle cx="336.2" cy="1110.4" r="4.5"/><circle cx="327.4" cy="904.7" r="4.5"/><circle cx="307.5" cy="932.7" r="4.5"/><circle cx="301.1" cy="1063.8" r="4.5"/><circle cx="334.8" cy="999.1" r="4.5"/><circle cx="306.8" cy="1045.2" r="4.5"/><circle cx="318.4" cy="1012.0" r="4.5"/><circle cx="279.4" cy="984.7" r="4.5"/><circle cx="301.5" cy="1090.9" r="4.5"/><circle cx="309.7" cy="1057.7" r="4.5"/><circle cx="313.0" cy="965.1" r="4.5"/><circle cx="296.2" cy="951.0" r="4.5"/><circle cx="294.8" cy="1142.1" r="4.5"/><circle cx="299.4" cy="962.8" r="4.5"/><circle cx="299.6" cy="824.1" r="4.5"/><circle cx="295.7" cy="1131.9" r="4.5"/><circle cx="343.5" cy="1041.5" r="4.5"/><circle cx="344.1" cy="1064.8" r="4.5"/><circle cx="311.7" cy="944.9" r="4.5"/><circle cx="284.6" cy="747.8" r="4.5"/><circle cx="294.0" cy="1119.8" r="4.5"/><circle cx="321.9" cy="1036.5" r="4.5"/><circle cx="305.6" cy="1025.0" r="4.5"/><circle cx="331.6" cy="1064.6" r="4.5"/><circle cx="280.0" cy="944.5" r="4.5"/><circle cx="283.5" cy="880.8" r="4.5"/><circle cx="313.9" cy="808.3" r="4.5"/><circle cx="342.3" cy="1101.7" r="4.5"/><circle cx="280.3" cy="940.1" r="4.5"/><circle cx="322.1" cy="1019.7" r="4.5"/><circle cx="311.7" cy="765.0" r="4.5"/><circle cx="290.9" cy="1029.4" r="4.5"/><circle cx="315.6" cy="961.0" r="4.5"/><circle cx="291.2" cy="762.3" r="4.5"/><circle cx="306.0" cy="1133.1" r="4.5"/><circle cx="298.8" cy="1122.0" r="4.5"/><circle cx="279.2" cy="983.0" r="4.5"/><circle cx="320.8" cy="1146.7" r="4.5"/><circle cx="307.9" cy="806.7" r="4.5"/><circle cx="342.8" cy="805.6" r="4.5"/><circle cx="344.9" cy="1005.0" r="4.5"/><circle cx="323.0" cy="1048.7" r="4.5"/><circle cx="332.4" cy="957.5" r="4.5"/><circle cx="315.3" cy="1134.0" r="4.5"/><circle cx="300.7" cy="1098.0" r="4.5"/><circle cx="326.5" cy="859.1" r="4.5"/><circle cx="345.8" cy="852.6" r="4.5"/><circle cx="292.9" cy="1049.4" r="4.5"/><circle cx="296.4" cy="817.0" r="4.5"/><circle cx="321.3" cy="942.1" r="4.5"/><circle cx="344.0" cy="1109.0" r="4.5"/><circle cx="342.9" cy="878.0" r="4.5"/><circle cx="333.8" cy="827.2" r="4.5"/><circle cx="310.3" cy="1125.8" r="4.5"/><circle cx="337.9" cy="1113.8" r="4.5"/><circle cx="291.9" cy="1017.8" r="4.5"/><circle cx="312.1" cy="1106.8" r="4.5"/><circle cx="283.7" cy="1104.5" r="4.5"/><circle cx="280.3" cy="1088.9" r="4.5"/><circle cx="300.1" cy="1130.6" r="4.5"/><circle cx="338.0" cy="1044.2" r="4.5"/><circle cx="285.7" cy="1120.3" r="4.5"/><circle cx="308.1" cy="1071.8" r="4.5"/><circle cx="327.1" cy="1096.1" r="4.5"/><circle cx="323.1" cy="1061.3" r="4.5"/><circle cx="306.2" cy="888.5" r="4.5"/><circle cx="303.8" cy="1037.4" r="4.5"/><circle cx="283.8" cy="1080.0" r="4.5"/><circle cx="285.6" cy="884.5" r="4.5"/><circle cx="301.3" cy="951.3" r="4.5"/><circle cx="314.6" cy="1123.1" r="4.5"/><circle cx="340.7" cy="1139.3" r="4.5"/><circle cx="338.3" cy="755.9" r="4.5"/><circle cx="343.4" cy="1119.5" r="4.5"/><circle cx="275.6" cy="1008.4" r="4.5"/><circle cx="346.6" cy="1140.9" r="4.5"/><circle cx="281.3" cy="990.4" r="4.5"/><circle cx="285.2" cy="938.0" r="4.5"/><circle cx="313.9" cy="963.9" r="4.5"/><circle cx="337.7" cy="868.7" r="4.5"/><circle cx="273.4" cy="1022.9" r="4.5"/><circle cx="306.7" cy="1070.7" r="4.5"/><circle cx="310.5" cy="1038.4" r="4.5"/><circle cx="277.8" cy="874.1" r="4.5"/><circle cx="307.8" cy="1053.3" r="4.5"/><circle cx="318.9" cy="738.4" r="4.5"/><circle cx="288.4" cy="811.1" r="4.5"/><circle cx="305.4" cy="766.4" r="4.5"/><circle cx="272.9" cy="996.9" r="4.5"/><circle cx="325.3" cy="859.7" r="4.5"/><circle cx="319.9" cy="997.3" r="4.5"/><circle cx="317.7" cy="839.0" r="4.5"/><circle cx="338.1" cy="975.8" r="4.5"/><circle cx="325.5" cy="945.1" r="4.5"/><circle cx="301.3" cy="1117.0" r="4.5"/><circle cx="320.4" cy="871.8" r="4.5"/><circle cx="300.0" cy="939.5" r="4.5"/><circle cx="319.3" cy="1011.1" r="4.5"/><circle cx="326.1" cy="1043.5" r="4.5"/><circle cx="294.7" cy="1050.3" r="4.5"/><circle cx="333.3" cy="754.2" r="4.5"/><circle cx="318.9" cy="822.0" r="4.5"/><circle cx="326.0" cy="928.9" r="4.5"/><circle cx="320.9" cy="1129.1" r="4.5"/><circle cx="327.3" cy="1013.2" r="4.5"/><circle cx="307.1" cy="852.2" r="4.5"/><circle cx="281.9" cy="816.8" r="4.5"/><circle cx="311.0" cy="912.3" r="4.5"/><circle cx="274.2" cy="1127.9" r="4.5"/><circle cx="283.0" cy="891.0" r="4.5"/><circle cx="305.6" cy="815.7" r="4.5"/><circle cx="338.3" cy="893.6" r="4.5"/><circle cx="276.5" cy="960.6" r="4.5"/><circle cx="326.4" cy="1035.9" r="4.5"/><circle cx="323.8" cy="1095.9" r="4.5"/><circle cx="274.6" cy="1078.8" r="4.5"/><circle cx="337.0" cy="815.1" r="4.5"/><circle cx="288.5" cy="1141.2" r="4.5"/><circle cx="309.4" cy="1082.2" r="4.5"/><circle cx="341.5" cy="886.0" r="4.5"/><circle cx="308.3" cy="981.0" r="4.5"/><circle cx="280.8" cy="1111.8" r="4.5"/><circle cx="289.1" cy="729.6" r="4.5"/><circle cx="334.4" cy="998.6" r="4.5"/><circle cx="296.3" cy="1076.5" r="4.5"/><circle cx="325.7" cy="737.9" r="4.5"/><circle cx="337.7" cy="1077.9" r="4.5"/><circle cx="309.1" cy="1056.4" r="4.5"/><circle cx="317.7" cy="1107.5" r="4.5"/><circle cx="313.8" cy="1004.0" r="4.5"/><circle cx="344.2" cy="932.9" r="4.5"/><circle cx="290.3" cy="1083.9" r="4.5"/><circle cx="297.7" cy="1090.2" r="4.5"/><circle cx="311.4" cy="933.9" r="4.5"/><circle cx="315.0" cy="1061.1" r="4.5"/><circle cx="293.1" cy="1037.0" r="4.5"/><circle cx="273.5" cy="1009.6" r="4.5"/><circle cx="304.4" cy="851.6" r="4.5"/><circle cx="288.0" cy="1131.4" r="4.5"/><circle cx="309.4" cy="1099.2" r="4.5"/><circle cx="311.0" cy="936.9" r="4.5"/><circle cx="345.2" cy="1106.5" r="4.5"/><circle cx="317.4" cy="790.9" r="4.5"/><circle cx="272.8" cy="1130.2" r="4.5"/><circle cx="336.7" cy="1110.7" r="4.5"/><circle cx="286.7" cy="1009.2" r="4.5"/><circle cx="345.6" cy="889.8" r="4.5"/><circle cx="297.2" cy="1066.7" r="4.5"/><circle cx="341.0" cy="1041.2" r="4.5"/><circle cx="308.6" cy="952.3" r="4.5"/><circle cx="272.5" cy="1110.1" r="4.5"/><circle cx="304.4" cy="1024.5" r="4.5"/><circle cx="309.5" cy="931.8" r="4.5"/><circle cx="311.9" cy="778.7" r="4.5"/><circle cx="321.9" cy="1139.4" r="4.5"/><circle cx="343.5" cy="928.1" r="4.5"/><circle cx="327.4" cy="1006.7" r="4.5"/><circle cx="306.0" cy="1137.6" r="4.5"/><circle cx="289.9" cy="753.2" r="4.5"/><circle cx="298.8" cy="1120.5" r="4.5"/><circle cx="324.9" cy="885.3" r="4.5"/><circle cx="311.9" cy="1003.2" r="4.5"/><circle cx="300.4" cy="1131.1" r="4.5"/><circle cx="341.1" cy="878.6" r="4.5"/><circle cx="324.2" cy="1126.0" r="4.5"/><circle cx="303.8" cy="871.0" r="4.5"/><circle cx="280.9" cy="910.7" r="4.5"/><circle cx="290.9" cy="1072.1" r="4.5"/><circle cx="343.3" cy="1119.3" r="4.5"/><circle cx="294.6" cy="980.0" r="4.5"/><circle cx="329.8" cy="818.4" r="4.5"/><circle cx="306.6" cy="1079.7" r="4.5"/><circle cx="320.0" cy="1128.7" r="4.5"/><circle cx="284.3" cy="1047.0" r="4.5"/><circle cx="327.6" cy="1079.2" r="4.5"/><circle cx="341.7" cy="988.4" r="4.5"/><circle cx="284.3" cy="883.4" r="4.5"/><circle cx="344.8" cy="1108.6" r="4.5"/><circle cx="334.0" cy="780.1" r="4.5"/><circle cx="329.2" cy="1122.2" r="4.5"/><circle cx="296.1" cy="902.7" r="4.5"/><circle cx="301.0" cy="1113.7" r="4.5"/><circle cx="282.3" cy="984.2" r="4.5"/><circle cx="287.1" cy="1070.3" r="4.5"/><circle cx="282.0" cy="1075.7" r="4.5"/><circle cx="323.3" cy="850.5" r="4.5"/><circle cx="286.3" cy="1107.0" r="4.5"/><circle cx="280.1" cy="1038.8" r="4.5"/><circle cx="319.7" cy="1027.3" r="4.5"/><circle cx="338.5" cy="1111.1" r="4.5"/><circle cx="277.1" cy="847.4" r="4.5"/><circle cx="299.1" cy="986.4" r="4.5"/><circle cx="307.4" cy="1087.7" r="4.5"/><circle cx="302.2" cy="814.6" r="4.5"/><circle cx="344.3" cy="1042.1" r="4.5"/><circle cx="307.4" cy="982.5" r="4.5"/><circle cx="332.1" cy="958.1" r="4.5"/><circle cx="339.2" cy="861.6" r="4.5"/><circle cx="320.7" cy="1112.4" r="4.5"/><circle cx="316.8" cy="1052.2" r="4.5"/><circle cx="287.6" cy="1062.2" r="4.5"/><circle cx="341.9" cy="771.9" r="4.5"/><circle cx="306.1" cy="1117.3" r="4.5"/><circle cx="304.5" cy="910.3" r="4.5"/><circle cx="346.4" cy="872.3" r="4.5"/><circle cx="273.4" cy="901.2" r="4.5"/><circle cx="308.5" cy="1001.3" r="4.5"/><circle cx="287.0" cy="1079.5" r="4.5"/><circle cx="281.1" cy="802.7" r="4.5"/><circle cx="286.2" cy="1117.8" r="4.5"/><circle cx="308.1" cy="1068.8" r="4.5"/><circle cx="286.2" cy="1101.9" r="4.5"/><circle cx="297.2" cy="988.3" r="4.5"/><circle cx="305.2" cy="991.0" r="4.5"/><circle cx="308.3" cy="1086.7" r="4.5"/><circle cx="307.3" cy="1128.2" r="4.5"/><circle cx="290.9" cy="916.8" r="4.5"/><circle cx="315.3" cy="1118.6" r="4.5"/><circle cx="290.4" cy="906.5" r="4.5"/><circle cx="319.4" cy="960.4" r="4.5"/><circle cx="322.3" cy="1022.2" r="4.5"/><circle cx="309.7" cy="1083.6" r="4.5"/><circle cx="292.0" cy="736.0" r="4.5"/><circle cx="302.5" cy="901.6" r="4.5"/><circle cx="326.0" cy="1143.5" r="4.5"/><circle cx="295.2" cy="996.2" r="4.5"/><circle cx="314.5" cy="835.9" r="4.5"/><circle cx="310.7" cy="1048.2" r="4.5"/><circle cx="323.8" cy="873.1" r="4.5"/><circle cx="293.3" cy="894.0" r="4.5"/><circle cx="344.3" cy="946.5" r="4.5"/><circle cx="313.4" cy="1073.5" r="4.5"/><circle cx="319.2" cy="935.1" r="4.5"/><circle cx="324.6" cy="1024.0" r="4.5"/><circle cx="310.1" cy="949.1" r="4.5"/><circle cx="317.0" cy="844.9" r="4.5"/><circle cx="345.6" cy="962.1" r="4.5"/><circle cx="314.8" cy="1106.0" r="4.5"/><circle cx="296.5" cy="1040.4" r="4.5"/><circle cx="333.0" cy="1000.8" r="4.5"/><circle cx="303.3" cy="973.3" r="4.5"/><circle cx="338.1" cy="875.0" r="4.5"/><circle cx="307.0" cy="1140.7" r="4.5"/><circle cx="297.8" cy="1105.7" r="4.5"/><circle cx="299.4" cy="841.7" r="4.5"/><circle cx="318.0" cy="955.2" r="4.5"/><circle cx="304.0" cy="775.8" r="4.5"/><circle cx="338.2" cy="1133.6" r="4.5"/><circle cx="332.5" cy="945.3" r="4.5"/><circle cx="278.1" cy="920.4" r="4.5"/><circle cx="343.0" cy="1134.1" r="4.5"/><circle cx="284.4" cy="768.7" r="4.5"/><circle cx="344.1" cy="938.9" r="4.5"/><circle cx="344.5" cy="1045.8" r="4.5"/><circle cx="273.2" cy="1129.9" r="4.5"/><circle cx="310.9" cy="1001.8" r="4.5"/><circle cx="305.8" cy="1136.2" r="4.5"/><circle cx="300.4" cy="941.3" r="4.5"/><circle cx="297.8" cy="1021.1" r="4.5"/><circle cx="296.7" cy="1035.2" r="4.5"/><circle cx="328.4" cy="1044.8" r="4.5"/><circle cx="304.2" cy="896.4" r="4.5"/><circle cx="324.0" cy="831.3" r="4.5"/><circle cx="326.9" cy="735.2" r="4.5"/><circle cx="318.7" cy="869.8" r="4.5"/><circle cx="308.1" cy="1100.8" r="4.5"/><circle cx="324.7" cy="1092.0" r="4.5"/><circle cx="321.8" cy="1067.1" r="4.5"/><circle cx="338.1" cy="914.2" r="4.5"/><circle cx="335.8" cy="943.3" r="4.5"/><circle cx="326.2" cy="880.1" r="4.5"/><circle cx="336.7" cy="1025.2" r="4.5"/><circle cx="289.2" cy="952.2" r="4.5"/><circle cx="323.1" cy="982.9" r="4.5"/><circle cx="310.5" cy="916.3" r="4.5"/><circle cx="346.7" cy="1073.7" r="4.5"/><circle cx="291.5" cy="1099.9" r="4.5"/><circle cx="288.2" cy="1142.3" r="4.5"/><circle cx="275.1" cy="780.7" r="4.5"/><circle cx="271.8" cy="1034.4" r="4.5"/><circle cx="288.5" cy="1086.5" r="4.5"/><circle cx="328.5" cy="965.0" r="4.5"/><circle cx="316.6" cy="861.3" r="4.5"/><circle cx="326.9" cy="1098.3" r="4.5"/><circle cx="323.8" cy="806.3" r="4.5"/><circle cx="314.3" cy="1148.3" r="4.5"/><circle cx="297.2" cy="1045.5" r="4.5"/><circle cx="304.2" cy="978.4" r="4.5"/><circle cx="306.5" cy="898.2" r="4.5"/><circle cx="308.8" cy="1016.3" r="4.5"/><circle cx="281.0" cy="1006.3" r="4.5"/><circle cx="303.9" cy="1126.6" r="4.5"/><circle cx="322.8" cy="947.9" r="4.5"/><circle cx="331.7" cy="989.9" r="4.5"/><circle cx="287.9" cy="991.7" r="4.5"/><circle cx="338.6" cy="862.8" r="4.5"/><circle cx="324.9" cy="961.2" r="4.5"/><circle cx="323.2" cy="876.8" r="4.5"/><circle cx="339.5" cy="858.3" r="4.5"/><circle cx="274.6" cy="934.5" r="4.5"/><circle cx="327.9" cy="862.7" r="4.5"/><circle cx="307.2" cy="911.9" r="4.5"/><circle cx="287.4" cy="964.6" r="4.5"/><circle cx="309.0" cy="757.6" r="4.5"/><circle cx="294.7" cy="1052.7" r="4.5"/><circle cx="291.1" cy="835.0" r="4.5"/><circle cx="342.0" cy="927.3" r="4.5"/><circle cx="318.6" cy="828.0" r="4.5"/><circle cx="304.1" cy="1105.0" r="4.5"/><circle cx="330.0" cy="1059.2" r="4.5"/><circle cx="304.6" cy="1125.6" r="4.5"/><circle cx="315.8" cy="976.6" r="4.5"/><circle cx="325.0" cy="870.3" r="4.5"/><circle cx="289.8" cy="962.4" r="4.5"/><circle cx="309.6" cy="1123.4" r="4.5"/><circle cx="343.6" cy="998.1" r="4.5"/><circle cx="314.1" cy="1080.6" r="4.5"/><circle cx="289.7" cy="964.1" r="4.5"/><circle cx="308.8" cy="1092.6" r="4.5"/><circle cx="305.1" cy="993.4" r="4.5"/><circle cx="277.6" cy="1121.3" r="4.5"/><circle cx="280.6" cy="875.3" r="4.5"/><circle cx="318.2" cy="1012.4" r="4.5"/><circle cx="344.4" cy="1089.4" r="4.5"/><circle cx="322.5" cy="1013.8" r="4.5"/><circle cx="328.5" cy="1063.6" r="4.5"/><circle cx="295.0" cy="1085.9" r="4.5"/><circle cx="287.4" cy="1105.0" r="4.5"/><circle cx="328.1" cy="940.9" r="4.5"/><circle cx="276.7" cy="1040.9" r="4.5"/><circle cx="345.8" cy="1057.8" r="4.5"/><circle cx="283.3" cy="1113.5" r="4.5"/><circle cx="309.5" cy="903.5" r="4.5"/><circle cx="309.4" cy="1084.5" r="4.5"/><circle cx="293.2" cy="1057.1" r="4.5"/><circle cx="311.2" cy="1056.2" r="4.5"/><circle cx="326.3" cy="1108.4" r="4.5"/><circle cx="338.7" cy="1098.9" r="4.5"/><circle cx="342.0" cy="1089.3" r="4.5"/><circle cx="326.6" cy="1081.3" r="4.5"/><circle cx="272.8" cy="966.8" r="4.5"/><circle cx="276.5" cy="959.8" r="4.5"/><circle cx="279.8" cy="971.8" r="4.5"/><circle cx="331.4" cy="733.7" r="4.5"/><circle cx="283.2" cy="895.4" r="4.5"/><circle cx="285.8" cy="1027.9" r="4.5"/><circle cx="308.4" cy="1114.3" r="4.5"/><circle cx="311.2" cy="840.6" r="4.5"/><circle cx="329.7" cy="904.9" r="4.5"/><circle cx="280.5" cy="1091.2" r="4.5"/><circle cx="340.6" cy="866.1" r="4.5"/><circle cx="328.0" cy="1064.0" r="4.5"/><circle cx="289.2" cy="1086.3" r="4.5"/><circle cx="296.9" cy="746.5" r="4.5"/><circle cx="332.1" cy="820.2" r="4.5"/><circle cx="335.9" cy="1088.1" r="4.5"/><circle cx="324.4" cy="973.1" r="4.5"/><circle cx="284.8" cy="1076.8" r="4.5"/><circle cx="337.4" cy="1133.4" r="4.5"/><circle cx="288.3" cy="1006.9" r="4.5"/><circle cx="333.5" cy="998.3" r="4.5"/><circle cx="332.5" cy="961.7" r="4.5"/><circle cx="340.1" cy="744.4" r="4.5"/><circle cx="305.2" cy="937.4" r="4.5"/><circle cx="289.6" cy="914.8" r="4.5"/><circle cx="304.8" cy="1121.6" r="4.5"/><circle cx="340.1" cy="1042.6" r="4.5"/><circle cx="301.8" cy="1076.9" r="4.5"/><circle cx="337.3" cy="992.5" r="4.5"/><circle cx="275.4" cy="891.2" r="4.5"/><circle cx="278.1" cy="955.9" r="4.5"/><circle cx="286.4" cy="987.4" r="4.5"/><circle cx="328.9" cy="1101.6" r="4.5"/><circle cx="334.3" cy="1034.1" r="4.5"/><circle cx="303.4" cy="931.3" r="4.5"/><circle cx="318.2" cy="1079.0" r="4.5"/><circle cx="331.0" cy="1062.0" r="4.5"/><circle cx="311.7" cy="945.6" r="4.5"/><circle cx="318.3" cy="1123.5" r="4.5"/><circle cx="315.8" cy="773.0" r="4.5"/><circle cx="274.7" cy="985.6" r="4.5"/><circle cx="345.0" cy="1025.4" r="4.5"/><circle cx="288.2" cy="1140.3" r="4.5"/><circle cx="346.6" cy="847.9" r="4.5"/><circle cx="324.9" cy="1074.5" r="4.5"/><circle cx="321.1" cy="938.3" r="4.5"/><circle cx="345.4" cy="1142.4" r="4.5"/><circle cx="322.2" cy="977.5" r="4.5"/><circle cx="294.5" cy="1093.3" r="4.5"/><circle cx="307.2" cy="1000.2" r="4.5"/><circle cx="316.8" cy="1074.4" r="4.5"/><circle cx="317.9" cy="930.5" r="4.5"/><circle cx="271.9" cy="932.0" r="4.5"/><circle cx="344.6" cy="813.8" r="4.5"/><circle cx="276.8" cy="1038.6" r="4.5"/><circle cx="318.3" cy="774.4" r="4.5"/><circle cx="338.6" cy="1054.9" r="4.5"/><circle cx="303.0" cy="1027.0" r="4.5"/><circle cx="308.7" cy="1112.7" r="4.5"/><circle cx="337.4" cy="930.3" r="4.5"/><circle cx="344.9" cy="1091.6" r="4.5"/><circle cx="329.3" cy="1035.6" r="4.5"/><circle cx="288.3" cy="821.4" r="4.5"/><circle cx="285.1" cy="911.5" r="4.5"/><circle cx="318.8" cy="995.8" r="4.5"/><circle cx="291.2" cy="981.7" r="4.5"/><circle cx="338.1" cy="1149.1" r="4.5"/><circle cx="299.9" cy="1110.5" r="4.5"/><circle cx="305.9" cy="917.1" r="4.5"/><circle cx="277.1" cy="1121.7" r="4.5"/><circle cx="272.8" cy="1054.3" r="4.5"/><circle cx="340.4" cy="801.3" r="4.5"/><circle cx="295.1" cy="1097.3" r="4.5"/><circle cx="309.9" cy="762.4" r="4.5"/><circle cx="317.9" cy="1128.2" r="4.5"/><circle cx="303.4" cy="924.0" r="4.5"/><circle cx="287.9" cy="1130.5" r="4.5"/><circle cx="314.8" cy="1122.9" r="4.5"/><circle cx="290.8" cy="1127.6" r="4.5"/><circle cx="297.0" cy="748.0" r="4.5"/><circle cx="278.7" cy="1067.9" r="4.5"/><circle cx="305.1" cy="948.8" r="4.5"/><circle cx="302.3" cy="1057.4" r="4.5"/><circle cx="313.0" cy="1043.7" r="4.5"/><circle cx="342.1" cy="947.4" r="4.5"/><circle cx="291.1" cy="1085.5" r="4.5"/><circle cx="283.6" cy="1022.4" r="4.5"/><circle cx="293.6" cy="957.7" r="4.5"/><circle cx="342.7" cy="782.5" r="4.5"/><circle cx="324.3" cy="1073.1" r="4.5"/><circle cx="346.4" cy="1051.0" r="4.5"/><circle cx="333.6" cy="974.2" r="4.5"/><circle cx="336.4" cy="1147.4" r="4.5"/><circle cx="316.9" cy="864.8" r="4.5"/><circle cx="340.0" cy="1071.2" r="4.5"/><circle cx="319.8" cy="939.7" r="4.5"/><circle cx="281.6" cy="860.0" r="4.5"/><circle cx="344.4" cy="1032.6" r="4.5"/><circle cx="331.2" cy="879.1" r="4.5"/><circle cx="297.9" cy="740.1" r="4.5"/><circle cx="298.9" cy="1033.1" r="4.5"/><circle cx="271.8" cy="1075.4" r="4.5"/><circle cx="341.0" cy="1115.7" r="4.5"/><circle cx="307.1" cy="950.7" r="4.5"/><circle cx="296.6" cy="1083.2" r="4.5"/><circle cx="302.3" cy="930.1" r="4.5"/><circle cx="334.9" cy="909.5" r="4.5"/><circle cx="293.2" cy="947.1" r="4.5"/><circle cx="293.4" cy="1028.2" r="4.5"/><circle cx="310.8" cy="933.3" r="4.5"/><circle cx="320.1" cy="1088.3" r="4.5"/><circle cx="288.4" cy="941.0" r="4.5"/><circle cx="332.8" cy="1072.9" r="4.5"/><circle cx="325.7" cy="1005.9" r="4.5"/><circle cx="313.3" cy="836.6" r="4.5"/><circle cx="286.8" cy="968.2" r="4.5"/><circle cx="339.3" cy="1124.9" r="4.5"/><circle cx="274.5" cy="989.1" r="4.5"/><circle cx="298.1" cy="1033.0" r="4.5"/><circle cx="289.1" cy="967.5" r="4.5"/><circle cx="328.2" cy="1137.9" r="4.5"/><circle cx="325.0" cy="1044.9" r="4.5"/><circle cx="321.9" cy="1078.4" r="4.5"/><circle cx="279.2" cy="804.8" r="4.5"/><circle cx="323.9" cy="1118.4" r="4.5"/><circle cx="286.0" cy="997.6" r="4.5"/><circle cx="272.4" cy="1025.7" r="4.5"/><circle cx="301.6" cy="1130.2" r="4.5"/><circle cx="280.2" cy="1077.7" r="4.5"/><circle cx="309.2" cy="842.3" r="4.5"/><circle cx="286.1" cy="963.5" r="4.5"/><circle cx="336.3" cy="1110.9" r="4.5"/><circle cx="307.5" cy="993.8" r="4.5"/><circle cx="312.2" cy="1033.4" r="4.5"/><circle cx="314.5" cy="750.2" r="4.5"/><circle cx="317.6" cy="1138.8" r="4.5"/><circle cx="298.4" cy="1132.0" r="4.5"/><circle cx="307.9" cy="980.4" r="4.5"/><circle cx="341.7" cy="1029.1" r="4.5"/><circle cx="323.4" cy="1054.5" r="4.5"/><circle cx="319.4" cy="946.1" r="4.5"/><circle cx="279.8" cy="1142.7" r="4.5"/><circle cx="324.2" cy="812.6" r="4.5"/><circle cx="287.3" cy="1103.9" r="4.5"/><circle cx="332.5" cy="1105.4" r="4.5"/><circle cx="295.1" cy="972.1" r="4.5"/><circle cx="284.3" cy="984.1" r="4.5"/><circle cx="279.9" cy="1093.9" r="4.5"/><circle cx="286.1" cy="1067.5" r="4.5"/><circle cx="289.3" cy="850.2" r="4.5"/><circle cx="278.4" cy="1078.5" r="4.5"/><circle cx="280.6" cy="985.9" r="4.5"/><circle cx="339.6" cy="751.1" r="4.5"/><circle cx="340.5" cy="1017.4" r="4.5"/><circle cx="304.8" cy="1075.1" r="4.5"/><circle cx="321.4" cy="1137.5" r="4.5"/><circle cx="335.4" cy="1018.9" r="4.5"/><circle cx="291.5" cy="1021.6" r="4.5"/><circle cx="272.6" cy="953.1" r="4.5"/><circle cx="291.2" cy="1098.6" r="4.5"/><circle cx="306.5" cy="970.1" r="4.5"/><circle cx="283.2" cy="988.8" r="4.5"/><circle cx="315.2" cy="838.5" r="4.5"/><circle cx="327.6" cy="1102.6" r="4.5"/><circle cx="294.3" cy="956.5" r="4.5"/><circle cx="316.1" cy="994.1" r="4.5"/><circle cx="307.6" cy="966.5" r="4.5"/><circle cx="291.1" cy="1109.4" r="4.5"/><circle cx="294.5" cy="1111.9" r="4.5"/><circle cx="321.6" cy="966.0" r="4.5"/><circle cx="283.7" cy="1092.2" r="4.5"/><circle cx="332.4" cy="944.1" r="4.5"/><circle cx="313.5" cy="1144.7" r="4.5"/><circle cx="342.5" cy="1046.5" r="4.5"/><circle cx="326.9" cy="956.8" r="4.5"/><circle cx="328.4" cy="1094.9" r="4.5"/><circle cx="301.4" cy="914.9" r="4.5"/><circle cx="326.8" cy="864.3" r="4.5"/><circle cx="294.9" cy="936.9" r="4.5"/><circle cx="333.8" cy="939.1" r="4.5"/><circle cx="276.5" cy="1062.5" r="4.5"/><circle cx="341.2" cy="1138.2" r="4.5"/><circle cx="339.7" cy="727.5" r="4.5"/><circle cx="290.7" cy="865.9" r="4.5"/><circle cx="278.3" cy="1144.0" r="4.5"/><circle cx="318.4" cy="942.4" r="4.5"/><circle cx="278.3" cy="1100.2" r="4.5"/><circle cx="304.4" cy="924.6" r="4.5"/><circle cx="293.1" cy="830.1" r="4.5"/><circle cx="311.0" cy="928.5" r="4.5"/><circle cx="297.7" cy="999.4" r="4.5"/><circle cx="272.9" cy="943.7" r="4.5"/><circle cx="334.0" cy="1041.7" r="4.5"/><circle cx="286.6" cy="980.9" r="4.5"/><circle cx="282.2" cy="1067.4" r="4.5"/><circle cx="306.1" cy="823.1" r="4.5"/><circle cx="330.4" cy="1063.3" r="4.5"/><circle cx="313.3" cy="812.8" r="4.5"/><circle cx="293.3" cy="1114.2" r="4.5"/><circle cx="300.3" cy="1050.1" r="4.5"/><circle cx="293.1" cy="845.6" r="4.5"/><circle cx="285.5" cy="1024.2" r="4.5"/><circle cx="284.5" cy="1049.9" r="4.5"/><circle cx="276.3" cy="981.4" r="4.5"/><circle cx="275.9" cy="1026.8" r="4.5"/><circle cx="342.9" cy="1080.9" r="4.5"/><circle cx="342.5" cy="1000.5" r="4.5"/><circle cx="324.2" cy="1043.1" r="4.5"/><circle cx="320.7" cy="789.6" r="4.5"/><circle cx="305.8" cy="922.9" r="4.5"/><circle cx="333.8" cy="808.8" r="4.5"/><circle cx="316.7" cy="927.6" r="4.5"/><circle cx="324.9" cy="977.7" r="4.5"/><circle cx="318.4" cy="905.7" r="4.5"/><circle cx="294.4" cy="1051.8" r="4.5"/><circle cx="301.8" cy="1094.5" r="4.5"/><circle cx="319.0" cy="1007.8" r="4.5"/><circle cx="292.6" cy="731.8" r="4.5"/><circle cx="307.3" cy="774.6" r="4.5"/><circle cx="342.1" cy="804.8" r="4.5"/><circle cx="311.2" cy="1088.5" r="4.5"/><circle cx="274.3" cy="1055.5" r="4.5"/><circle cx="338.1" cy="1134.4" r="4.5"/><circle cx="334.8" cy="989.3" r="4.5"/><circle cx="332.4" cy="1099.5" r="4.5"/><circle cx="344.7" cy="1139.7" r="4.5"/><circle cx="301.6" cy="1095.4" r="4.5"/><circle cx="297.7" cy="923.6" r="4.5"/><circle cx="289.0" cy="1107.1" r="4.5"/><circle cx="315.4" cy="1122.7" r="4.5"/><circle cx="291.2" cy="1031.8" r="4.5"/><circle cx="328.0" cy="826.0" r="4.5"/><circle cx="336.5" cy="1081.7" r="4.5"/><circle cx="287.3" cy="811.8" r="4.5"/><circle cx="312.6" cy="1134.3" r="4.5"/><circle cx="343.2" cy="1127.1" r="4.5"/><circle cx="275.3" cy="1139.9" r="4.5"/><circle cx="335.7" cy="768.3" r="4.5"/><circle cx="346.2" cy="1136.9" r="4.5"/><circle cx="272.4" cy="958.9" r="4.5"/><circle cx="307.2" cy="1082.4" r="4.5"/><circle cx="293.0" cy="1051.5" r="4.5"/><circle cx="292.0" cy="1002.1" r="4.5"/><circle cx="333.1" cy="954.5" r="4.5"/><circle cx="338.9" cy="732.5" r="4.5"/><circle cx="277.1" cy="1132.6" r="4.5"/><circle cx="308.1" cy="843.0" r="4.5"/><circle cx="340.0" cy="1121.1" r="4.5"/><circle cx="330.3" cy="965.6" r="4.5"/><circle cx="292.6" cy="948.6" r="4.5"/><circle cx="332.1" cy="1143.0" r="4.5"/><circle cx="284.9" cy="1124.4" r="4.5"/><circle cx="295.2" cy="845.7" r="4.5"/><circle cx="333.7" cy="917.8" r="4.5"/><circle cx="316.8" cy="884.1" r="4.5"/><circle cx="327.3" cy="1118.2" r="4.5"/><circle cx="297.7" cy="1084.7" r="4.5"/><circle cx="292.4" cy="936.4" r="4.5"/><circle cx="291.7" cy="1123.7" r="4.5"/><circle cx="303.3" cy="1010.4" r="4.5"/><circle cx="323.6" cy="1018.1" r="4.5"/><circle cx="295.4" cy="1072.7" r="4.5"/><circle cx="310.5" cy="1060.8" r="4.5"/><circle cx="345.8" cy="1066.3" r="4.5"/><circle cx="288.5" cy="1090.5" r="4.5"/><circle cx="335.3" cy="1140.7" r="4.5"/><circle cx="316.8" cy="1005.6" r="4.5"/><circle cx="327.4" cy="1005.2" r="4.5"/><circle cx="296.8" cy="887.4" r="4.5"/><circle cx="283.9" cy="1135.4" r="4.5"/><circle cx="300.4" cy="1135.6" r="4.5"/><circle cx="287.2" cy="1126.8" r="4.5"/><circle cx="300.0" cy="1014.8" r="4.5"/><circle cx="292.9" cy="1125.4" r="4.5"/><circle cx="309.4" cy="1030.4" r="4.5"/><circle cx="280.5" cy="1037.6" r="4.5"/><circle cx="333.8" cy="1128.6" r="4.5"/><circle cx="314.9" cy="935.8" r="4.5"/><circle cx="294.0" cy="921.7" r="4.5"/><circle cx="289.5" cy="833.9" r="4.5"/><circle cx="290.9" cy="975.0" r="4.5"/><circle cx="279.6" cy="868.1" r="4.5"/><circle cx="274.4" cy="828.6" r="4.5"/><circle cx="289.5" cy="843.9" r="4.5"/><circle cx="274.5" cy="987.8" r="4.5"/><circle cx="291.7" cy="1147.2" r="4.5"/><circle cx="308.9" cy="1100.3" r="4.5"/><circle cx="326.3" cy="895.7" r="4.5"/><circle cx="287.4" cy="913.3" r="4.5"/><circle cx="275.0" cy="1020.2" r="4.5"/><circle cx="335.0" cy="1010.8" r="4.5"/><circle cx="328.1" cy="942.8" r="4.5"/><circle cx="303.6" cy="1063.0" r="4.5"/><circle cx="337.0" cy="1115.5" r="4.5"/><circle cx="292.7" cy="890.1" r="4.5"/><circle cx="344.1" cy="833.3" r="4.5"/><circle cx="325.4" cy="937.6" r="4.5"/><circle cx="342.8" cy="1083.3" r="4.5"/><circle cx="302.9" cy="976.0" r="4.5"/><circle cx="313.5" cy="793.8" r="4.5"/><circle cx="334.8" cy="810.4" r="4.5"/><circle cx="335.3" cy="949.6" r="4.5"/><circle cx="286.9" cy="1104.6" r="4.5"/><circle cx="289.0" cy="1033.9" r="4.5"/><circle cx="332.7" cy="987.6" r="4.5"/><circle cx="315.4" cy="908.0" r="4.5"/><circle cx="313.2" cy="1049.1" r="4.5"/><circle cx="309.3" cy="1020.5" r="4.5"/><circle cx="323.8" cy="1055.2" r="4.5"/><circle cx="301.0" cy="897.0" r="4.5"/><circle cx="293.0" cy="1103.5" r="4.5"/><circle cx="280.3" cy="918.8" r="4.5"/><circle cx="321.2" cy="969.2" r="4.5"/><circle cx="334.9" cy="818.8" r="4.5"/><circle cx="294.8" cy="1091.3" r="4.5"/><circle cx="338.0" cy="1018.4" r="4.5"/><circle cx="336.2" cy="851.1" r="4.5"/><circle cx="277.5" cy="1008.7" r="4.5"/><circle cx="273.8" cy="1026.1" r="4.5"/><circle cx="340.6" cy="1065.7" r="4.5"/><circle cx="307.1" cy="943.6" r="4.5"/><circle cx="294.5" cy="948.2" r="4.5"/><circle cx="298.2" cy="1102.4" r="4.5"/><circle cx="273.9" cy="830.8" r="4.5"/><circle cx="328.4" cy="1131.6" r="4.5"/><circle cx="289.1" cy="854.7" r="4.5"/><circle cx="338.0" cy="1007.3" r="4.5"/><circle cx="331.3" cy="1116.0" r="4.5"/><circle cx="281.8" cy="1117.6" r="4.5"/><circle cx="288.2" cy="935.5" r="4.5"/><circle cx="291.3" cy="1093.6" r="4.5"/><circle cx="286.1" cy="783.2" r="4.5"/><circle cx="322.6" cy="1059.9" r="4.5"/><circle cx="331.9" cy="1004.8" r="4.5"/><circle cx="317.9" cy="1026.5" r="4.5"/><circle cx="319.3" cy="897.7" r="4.5"/><circle cx="301.5" cy="1083.9" r="4.5"/><circle cx="320.3" cy="1073.9" r="4.5"/><circle cx="303.0" cy="828.8" r="4.5"/><circle cx="336.8" cy="1081.9" r="4.5"/><circle cx="302.5" cy="953.4" r="4.5"/><circle cx="449.1" cy="722.6" r="4.5"/><circle cx="427.3" cy="1017.2" r="4.5"/><circle cx="476.3" cy="979.3" r="4.5"/><circle cx="494.5" cy="862.3" r="4.5"/><circle cx="431.2" cy="1048.3" r="4.5"/><circle cx="475.1" cy="596.4" r="4.5"/><circle cx="441.4" cy="624.1" r="4.5"/><circle cx="456.0" cy="728.7" r="4.5"/><circle cx="434.0" cy="728.2" r="4.5"/><circle cx="423.1" cy="699.0" r="4.5"/><circle cx="476.6" cy="720.0" r="4.5"/><circle cx="478.3" cy="610.2" r="4.5"/><circle cx="422.8" cy="755.9" r="4.5"/><circle cx="451.8" cy="790.7" r="4.5"/><circle cx="437.3" cy="695.4" r="4.5"/><circle cx="470.5" cy="763.1" r="4.5"/><circle cx="457.0" cy="925.6" r="4.5"/><circle cx="477.2" cy="579.2" r="4.5"/><circle cx="449.1" cy="595.7" r="4.5"/><circle cx="480.5" cy="683.4" r="4.5"/><circle cx="465.1" cy="864.1" r="4.5"/><circle cx="483.7" cy="842.1" r="4.5"/><circle cx="479.6" cy="760.8" r="4.5"/><circle cx="448.0" cy="799.7" r="4.5"/><circle cx="462.9" cy="795.5" r="4.5"/><circle cx="491.3" cy="835.3" r="4.5"/><circle cx="439.3" cy="652.7" r="4.5"/><circle cx="430.2" cy="831.1" r="4.5"/><circle cx="447.3" cy="754.8" r="4.5"/><circle cx="494.6" cy="801.3" r="4.5"/><circle cx="463.8" cy="570.0" r="4.5"/><circle cx="441.3" cy="637.9" r="4.5"/><circle cx="439.7" cy="892.7" r="4.5"/><circle cx="426.9" cy="847.1" r="4.5"/><circle cx="421.8" cy="620.2" r="4.5"/><circle cx="487.3" cy="767.7" r="4.5"/><circle cx="483.2" cy="862.8" r="4.5"/><circle cx="474.9" cy="553.2" r="4.5"/><circle cx="446.5" cy="587.7" r="4.5"/><circle cx="450.4" cy="1018.9" r="4.5"/><circle cx="479.9" cy="562.8" r="4.5"/><circle cx="436.1" cy="772.2" r="4.5"/><circle cx="473.5" cy="1055.5" r="4.5"/><circle cx="436.4" cy="912.4" r="4.5"/><circle cx="481.6" cy="557.3" r="4.5"/><circle cx="426.6" cy="996.5" r="4.5"/><circle cx="479.2" cy="834.1" r="4.5"/><circle cx="457.0" cy="977.2" r="4.5"/><circle cx="438.2" cy="696.2" r="4.5"/><circle cx="447.9" cy="665.9" r="4.5"/><circle cx="466.5" cy="956.4" r="4.5"/><circle cx="425.7" cy="687.0" r="4.5"/><circle cx="456.9" cy="1043.2" r="4.5"/><circle cx="476.4" cy="602.8" r="4.5"/><circle cx="453.0" cy="548.8" r="4.5"/><circle cx="465.9" cy="650.1" r="4.5"/><circle cx="485.4" cy="892.8" r="4.5"/><circle cx="454.1" cy="933.5" r="4.5"/><circle cx="493.9" cy="960.9" r="4.5"/><circle cx="455.3" cy="1004.0" r="4.5"/><circle cx="454.9" cy="761.6" r="4.5"/><circle cx="423.1" cy="660.8" r="4.5"/><circle cx="465.9" cy="953.4" r="4.5"/><circle cx="423.6" cy="620.6" r="4.5"/><circle cx="445.0" cy="947.3" r="4.5"/><circle cx="481.4" cy="607.9" r="4.5"/><circle cx="433.5" cy="745.1" r="4.5"/><circle cx="429.1" cy="591.2" r="4.5"/><circle cx="487.1" cy="810.2" r="4.5"/><circle cx="458.4" cy="964.4" r="4.5"/><circle cx="468.8" cy="710.7" r="4.5"/><circle cx="491.9" cy="837.0" r="4.5"/><circle cx="440.0" cy="733.9" r="4.5"/><circle cx="469.6" cy="707.9" r="4.5"/><circle cx="473.5" cy="739.1" r="4.5"/><circle cx="480.7" cy="870.6" r="4.5"/><circle cx="463.4" cy="630.1" r="4.5"/><circle cx="461.8" cy="838.6" r="4.5"/><circle cx="445.8" cy="1065.5" r="4.5"/><circle cx="471.0" cy="994.0" r="4.5"/><circle cx="471.1" cy="590.7" r="4.5"/><circle cx="470.4" cy="797.5" r="4.5"/><circle cx="427.4" cy="970.2" r="4.5"/><circle cx="424.2" cy="856.0" r="4.5"/><circle cx="466.1" cy="771.1" r="4.5"/><circle cx="435.9" cy="1001.3" r="4.5"/><circle cx="496.6" cy="819.9" r="4.5"/><circle cx="456.6" cy="774.4" r="4.5"/><circle cx="430.4" cy="595.6" r="4.5"/><circle cx="470.2" cy="894.6" r="4.5"/><circle cx="485.6" cy="680.7" r="4.5"/><circle cx="448.9" cy="656.8" r="4.5"/><circle cx="471.8" cy="704.7" r="4.5"/><circle cx="441.0" cy="653.4" r="4.5"/><circle cx="441.7" cy="757.2" r="4.5"/><circle cx="476.1" cy="646.9" r="4.5"/><circle cx="429.6" cy="623.0" r="4.5"/><circle cx="472.0" cy="772.9" r="4.5"/><circle cx="430.7" cy="759.2" r="4.5"/><circle cx="454.8" cy="571.0" r="4.5"/><circle cx="424.1" cy="873.0" r="4.5"/><circle cx="425.8" cy="628.8" r="4.5"/><circle cx="459.0" cy="1049.1" r="4.5"/><circle cx="444.3" cy="569.9" r="4.5"/><circle cx="438.4" cy="949.4" r="4.5"/><circle cx="488.3" cy="968.5" r="4.5"/><circle cx="450.0" cy="681.6" r="4.5"/><circle cx="488.5" cy="817.1" r="4.5"/><circle cx="427.7" cy="686.1" r="4.5"/><circle cx="440.3" cy="945.6" r="4.5"/><circle cx="477.5" cy="1022.4" r="4.5"/><circle cx="460.0" cy="1003.4" r="4.5"/><circle cx="456.5" cy="634.0" r="4.5"/><circle cx="496.9" cy="825.7" r="4.5"/><circle cx="460.9" cy="580.9" r="4.5"/><circle cx="431.5" cy="904.5" r="4.5"/><circle cx="472.0" cy="1014.8" r="4.5"/><circle cx="424.2" cy="655.7" r="4.5"/><circle cx="471.0" cy="724.2" r="4.5"/><circle cx="492.0" cy="734.5" r="4.5"/><circle cx="429.3" cy="599.3" r="4.5"/><circle cx="477.9" cy="665.1" r="4.5"/><circle cx="496.4" cy="702.7" r="4.5"/><circle cx="491.9" cy="678.8" r="4.5"/><circle cx="463.6" cy="794.9" r="4.5"/><circle cx="491.3" cy="670.0" r="4.5"/><circle cx="422.9" cy="691.7" r="4.5"/><circle cx="462.3" cy="662.3" r="4.5"/><circle cx="456.5" cy="805.0" r="4.5"/><circle cx="467.2" cy="727.7" r="4.5"/><circle cx="435.7" cy="798.5" r="4.5"/><circle cx="485.8" cy="934.8" r="4.5"/><circle cx="496.2" cy="846.4" r="4.5"/><circle cx="459.3" cy="1039.1" r="4.5"/><circle cx="430.1" cy="775.4" r="4.5"/><circle cx="433.2" cy="736.3" r="4.5"/><circle cx="444.8" cy="851.2" r="4.5"/><circle cx="480.3" cy="972.0" r="4.5"/><circle cx="481.2" cy="592.1" r="4.5"/><circle cx="429.0" cy="748.3" r="4.5"/><circle cx="424.4" cy="639.0" r="4.5"/><circle cx="453.4" cy="950.0" r="4.5"/><circle cx="477.0" cy="1008.3" r="4.5"/><circle cx="486.7" cy="1024.6" r="4.5"/><circle cx="442.3" cy="637.2" r="4.5"/><circle cx="433.0" cy="1071.9" r="4.5"/><circle cx="481.9" cy="879.3" r="4.5"/><circle cx="432.3" cy="589.8" r="4.5"/><circle cx="467.3" cy="1012.2" r="4.5"/><circle cx="441.0" cy="591.6" r="4.5"/><circle cx="446.0" cy="736.8" r="4.5"/><circle cx="472.3" cy="671.1" r="4.5"/><circle cx="434.8" cy="716.5" r="4.5"/><circle cx="439.9" cy="881.2" r="4.5"/><circle cx="442.1" cy="612.8" r="4.5"/><circle cx="433.4" cy="898.6" r="4.5"/><circle cx="453.0" cy="632.2" r="4.5"/><circle cx="428.9" cy="953.6" r="4.5"/><circle cx="424.2" cy="625.1" r="4.5"/><circle cx="488.0" cy="836.2" r="4.5"/><circle cx="467.2" cy="729.2" r="4.5"/><circle cx="496.4" cy="853.7" r="4.5"/><circle cx="460.3" cy="791.8" r="4.5"/><circle cx="438.3" cy="945.0" r="4.5"/><circle cx="494.6" cy="803.1" r="4.5"/><circle cx="493.8" cy="663.0" r="4.5"/><circle cx="447.8" cy="741.1" r="4.5"/><circle cx="441.6" cy="746.0" r="4.5"/><circle cx="463.9" cy="747.4" r="4.5"/><circle cx="462.9" cy="659.6" r="4.5"/><circle cx="468.3" cy="759.8" r="4.5"/><circle cx="478.6" cy="553.4" r="4.5"/><circle cx="457.0" cy="697.7" r="4.5"/><circle cx="455.2" cy="857.6" r="4.5"/><circle cx="478.0" cy="651.3" r="4.5"/><circle cx="491.1" cy="880.5" r="4.5"/><circle cx="437.1" cy="764.1" r="4.5"/><circle cx="472.1" cy="882.8" r="4.5"/><circle cx="486.6" cy="1041.5" r="4.5"/><circle cx="482.6" cy="685.3" r="4.5"/><circle cx="493.5" cy="997.7" r="4.5"/><circle cx="424.8" cy="961.7" r="4.5"/><circle cx="439.5" cy="666.2" r="4.5"/><circle cx="441.1" cy="1016.1" r="4.5"/><circle cx="475.9" cy="828.2" r="4.5"/><circle cx="470.2" cy="765.1" r="4.5"/><circle cx="452.4" cy="825.6" r="4.5"/><circle cx="469.5" cy="977.8" r="4.5"/><circle cx="495.6" cy="637.6" r="4.5"/><circle cx="460.2" cy="597.4" r="4.5"/><circle cx="490.4" cy="676.1" r="4.5"/><circle cx="423.9" cy="708.7" r="4.5"/><circle cx="466.7" cy="782.5" r="4.5"/><circle cx="468.1" cy="643.8" r="4.5"/><circle cx="467.8" cy="695.0" r="4.5"/><circle cx="426.7" cy="583.1" r="4.5"/><circle cx="442.4" cy="1045.3" r="4.5"/><circle cx="428.8" cy="607.9" r="4.5"/><circle cx="483.9" cy="573.2" r="4.5"/><circle cx="424.1" cy="1034.1" r="4.5"/><circle cx="447.1" cy="985.5" r="4.5"/><circle cx="477.0" cy="708.0" r="4.5"/><circle cx="480.2" cy="1063.9" r="4.5"/><circle cx="460.6" cy="865.0" r="4.5"/><circle cx="438.2" cy="998.0" r="4.5"/><circle cx="437.9" cy="729.0" r="4.5"/><circle cx="451.8" cy="1026.5" r="4.5"/><circle cx="475.2" cy="922.2" r="4.5"/><circle cx="431.8" cy="821.1" r="4.5"/><circle cx="426.1" cy="951.5" r="4.5"/><circle cx="440.5" cy="987.8" r="4.5"/><circle cx="496.9" cy="877.1" r="4.5"/><circle cx="462.2" cy="896.6" r="4.5"/><circle cx="476.3" cy="972.3" r="4.5"/><circle cx="447.1" cy="843.1" r="4.5"/><circle cx="489.7" cy="1024.0" r="4.5"/><circle cx="483.0" cy="1017.4" r="4.5"/><circle cx="477.7" cy="653.8" r="4.5"/><circle cx="444.3" cy="678.2" r="4.5"/><circle cx="432.6" cy="760.3" r="4.5"/><circle cx="433.3" cy="845.3" r="4.5"/><circle cx="456.9" cy="731.0" r="4.5"/><circle cx="476.1" cy="1068.3" r="4.5"/><circle cx="421.8" cy="655.1" r="4.5"/><circle cx="483.7" cy="769.1" r="4.5"/><circle cx="430.4" cy="624.9" r="4.5"/><circle cx="480.6" cy="547.9" r="4.5"/><circle cx="496.2" cy="604.3" r="4.5"/><circle cx="431.7" cy="646.0" r="4.5"/><circle cx="467.2" cy="924.5" r="4.5"/><circle cx="495.0" cy="705.6" r="4.5"/><circle cx="448.6" cy="568.1" r="4.5"/><circle cx="441.6" cy="581.4" r="4.5"/><circle cx="496.5" cy="801.7" r="4.5"/><circle cx="493.3" cy="924.8" r="4.5"/><circle cx="495.7" cy="848.8" r="4.5"/><circle cx="472.4" cy="646.6" r="4.5"/><circle cx="463.6" cy="567.5" r="4.5"/><circle cx="482.8" cy="787.7" r="4.5"/><circle cx="442.6" cy="633.5" r="4.5"/><circle cx="427.0" cy="583.1" r="4.5"/><circle cx="495.9" cy="857.1" r="4.5"/><circle cx="446.1" cy="1011.4" r="4.5"/><circle cx="459.1" cy="979.8" r="4.5"/><circle cx="481.6" cy="654.6" r="4.5"/><circle cx="452.9" cy="818.7" r="4.5"/><circle cx="423.0" cy="736.7" r="4.5"/><circle cx="465.2" cy="711.0" r="4.5"/><circle cx="493.5" cy="755.4" r="4.5"/><circle cx="457.8" cy="706.6" r="4.5"/><circle cx="494.8" cy="640.0" r="4.5"/><circle cx="477.4" cy="682.1" r="4.5"/><circle cx="459.6" cy="738.1" r="4.5"/><circle cx="426.3" cy="687.5" r="4.5"/><circle cx="451.7" cy="947.9" r="4.5"/><circle cx="483.5" cy="712.4" r="4.5"/><circle cx="451.3" cy="823.1" r="4.5"/><circle cx="438.4" cy="742.8" r="4.5"/><circle cx="446.9" cy="943.8" r="4.5"/><circle cx="470.7" cy="846.0" r="4.5"/><circle cx="461.6" cy="761.4" r="4.5"/><circle cx="435.3" cy="995.0" r="4.5"/><circle cx="438.1" cy="723.4" r="4.5"/><circle cx="425.9" cy="561.6" r="4.5"/><circle cx="479.9" cy="820.7" r="4.5"/><circle cx="443.7" cy="860.3" r="4.5"/><circle cx="438.3" cy="1025.7" r="4.5"/><circle cx="471.5" cy="911.3" r="4.5"/><circle cx="432.4" cy="671.8" r="4.5"/><circle cx="460.1" cy="1075.0" r="4.5"/><circle cx="452.3" cy="709.3" r="4.5"/><circle cx="468.2" cy="823.6" r="4.5"/><circle cx="471.8" cy="950.6" r="4.5"/><circle cx="422.0" cy="705.8" r="4.5"/><circle cx="455.5" cy="575.9" r="4.5"/><circle cx="476.5" cy="930.9" r="4.5"/><circle cx="441.0" cy="623.9" r="4.5"/><circle cx="444.1" cy="732.0" r="4.5"/><circle cx="444.5" cy="688.6" r="4.5"/><circle cx="457.1" cy="751.2" r="4.5"/><circle cx="437.7" cy="859.2" r="4.5"/><circle cx="477.0" cy="777.0" r="4.5"/><circle cx="495.8" cy="910.3" r="4.5"/><circle cx="489.7" cy="626.9" r="4.5"/><circle cx="471.1" cy="909.3" r="4.5"/><circle cx="482.0" cy="724.6" r="4.5"/><circle cx="492.4" cy="587.3" r="4.5"/><circle cx="449.4" cy="980.7" r="4.5"/><circle cx="441.5" cy="614.2" r="4.5"/><circle cx="453.2" cy="1035.8" r="4.5"/><circle cx="428.0" cy="962.9" r="4.5"/><circle cx="453.0" cy="1043.6" r="4.5"/><circle cx="463.5" cy="930.3" r="4.5"/><circle cx="439.6" cy="746.2" r="4.5"/><circle cx="486.9" cy="673.0" r="4.5"/><circle cx="455.5" cy="598.6" r="4.5"/><circle cx="465.8" cy="611.1" r="4.5"/><circle cx="432.4" cy="823.0" r="4.5"/><circle cx="454.9" cy="785.4" r="4.5"/><circle cx="490.8" cy="747.9" r="4.5"/><circle cx="480.5" cy="582.6" r="4.5"/><circle cx="440.0" cy="806.7" r="4.5"/><circle cx="437.0" cy="752.5" r="4.5"/><circle cx="483.1" cy="615.5" r="4.5"/><circle cx="424.1" cy="1058.8" r="4.5"/><circle cx="425.8" cy="750.8" r="4.5"/><circle cx="483.9" cy="699.7" r="4.5"/><circle cx="450.2" cy="669.0" r="4.5"/><circle cx="445.5" cy="646.1" r="4.5"/><circle cx="484.9" cy="933.4" r="4.5"/><circle cx="456.1" cy="640.5" r="4.5"/><circle cx="424.0" cy="875.1" r="4.5"/><circle cx="429.1" cy="890.3" r="4.5"/><circle cx="429.5" cy="588.1" r="4.5"/><circle cx="449.8" cy="697.2" r="4.5"/><circle cx="457.1" cy="651.6" r="4.5"/><circle cx="492.4" cy="759.0" r="4.5"/><circle cx="495.1" cy="878.9" r="4.5"/><circle cx="493.4" cy="666.5" r="4.5"/><circle cx="468.6" cy="574.8" r="4.5"/><circle cx="433.2" cy="730.4" r="4.5"/><circle cx="424.8" cy="746.8" r="4.5"/><circle cx="445.0" cy="786.3" r="4.5"/><circle cx="474.9" cy="669.5" r="4.5"/><circle cx="440.8" cy="948.7" r="4.5"/><circle cx="463.0" cy="594.6" r="4.5"/><circle cx="423.3" cy="601.6" r="4.5"/><circle cx="489.6" cy="732.6" r="4.5"/><circle cx="480.9" cy="720.9" r="4.5"/><circle cx="433.5" cy="1048.5" r="4.5"/><circle cx="469.8" cy="685.6" r="4.5"/><circle cx="484.9" cy="1003.0" r="4.5"/><circle cx="456.4" cy="865.9" r="4.5"/><circle cx="465.0" cy="744.0" r="4.5"/><circle cx="465.7" cy="689.6" r="4.5"/><circle cx="437.1" cy="849.7" r="4.5"/><circle cx="491.5" cy="713.6" r="4.5"/><circle cx="430.1" cy="593.2" r="4.5"/><circle cx="425.2" cy="816.2" r="4.5"/><circle cx="444.4" cy="786.6" r="4.5"/><circle cx="457.8" cy="570.7" r="4.5"/><circle cx="491.4" cy="676.8" r="4.5"/><circle cx="436.6" cy="995.1" r="4.5"/><circle cx="463.0" cy="998.8" r="4.5"/><circle cx="474.5" cy="723.3" r="4.5"/><circle cx="440.0" cy="619.4" r="4.5"/><circle cx="460.2" cy="800.2" r="4.5"/><circle cx="486.0" cy="844.0" r="4.5"/><circle cx="454.1" cy="1007.7" r="4.5"/><circle cx="423.1" cy="855.6" r="4.5"/><circle cx="485.7" cy="969.2" r="4.5"/><circle cx="439.2" cy="737.5" r="4.5"/><circle cx="471.9" cy="678.6" r="4.5"/><circle cx="496.3" cy="704.1" r="4.5"/><circle cx="434.2" cy="764.0" r="4.5"/><circle cx="465.6" cy="1040.8" r="4.5"/><circle cx="443.7" cy="609.6" r="4.5"/><circle cx="448.1" cy="818.5" r="4.5"/><circle cx="431.3" cy="676.4" r="4.5"/><circle cx="459.2" cy="1032.6" r="4.5"/><circle cx="425.0" cy="958.8" r="4.5"/><circle cx="478.5" cy="893.4" r="4.5"/><circle cx="444.7" cy="965.1" r="4.5"/><circle cx="433.1" cy="600.8" r="4.5"/><circle cx="449.7" cy="844.6" r="4.5"/><circle cx="458.5" cy="753.8" r="4.5"/><circle cx="496.8" cy="700.0" r="4.5"/><circle cx="463.6" cy="566.7" r="4.5"/><circle cx="439.1" cy="1035.1" r="4.5"/><circle cx="424.9" cy="974.6" r="4.5"/><circle cx="492.3" cy="790.5" r="4.5"/><circle cx="442.3" cy="644.6" r="4.5"/><circle cx="453.7" cy="703.1" r="4.5"/><circle cx="494.1" cy="966.0" r="4.5"/><circle cx="479.8" cy="686.5" r="4.5"/><circle cx="486.5" cy="702.3" r="4.5"/><circle cx="480.8" cy="645.2" r="4.5"/><circle cx="457.5" cy="696.0" r="4.5"/><circle cx="477.3" cy="762.8" r="4.5"/><circle cx="491.7" cy="695.5" r="4.5"/><circle cx="439.9" cy="960.5" r="4.5"/><circle cx="477.0" cy="889.2" r="4.5"/><circle cx="451.9" cy="859.7" r="4.5"/><circle cx="475.0" cy="559.5" r="4.5"/><circle cx="435.2" cy="603.9" r="4.5"/><circle cx="442.3" cy="671.5" r="4.5"/><circle cx="461.7" cy="631.6" r="4.5"/><circle cx="447.4" cy="707.7" r="4.5"/><circle cx="488.0" cy="667.3" r="4.5"/><circle cx="487.5" cy="839.4" r="4.5"/><circle cx="428.0" cy="958.4" r="4.5"/><circle cx="442.5" cy="907.4" r="4.5"/><circle cx="426.7" cy="1037.0" r="4.5"/><circle cx="491.2" cy="706.3" r="4.5"/><circle cx="477.3" cy="697.6" r="4.5"/><circle cx="438.9" cy="788.7" r="4.5"/><circle cx="446.3" cy="874.2" r="4.5"/><circle cx="445.9" cy="848.5" r="4.5"/><circle cx="435.3" cy="992.9" r="4.5"/><circle cx="478.0" cy="830.4" r="4.5"/><circle cx="491.1" cy="677.3" r="4.5"/><circle cx="468.8" cy="606.8" r="4.5"/><circle cx="492.1" cy="974.8" r="4.5"/><circle cx="443.1" cy="878.6" r="4.5"/><circle cx="422.3" cy="963.5" r="4.5"/><circle cx="439.1" cy="668.6" r="4.5"/><circle cx="449.0" cy="562.7" r="4.5"/><circle cx="438.1" cy="716.0" r="4.5"/><circle cx="437.8" cy="641.8" r="4.5"/><circle cx="432.6" cy="598.3" r="4.5"/><circle cx="442.1" cy="1020.2" r="4.5"/><circle cx="466.2" cy="672.4" r="4.5"/><circle cx="445.6" cy="663.5" r="4.5"/><circle cx="437.3" cy="627.3" r="4.5"/><circle cx="469.2" cy="986.8" r="4.5"/><circle cx="483.6" cy="669.2" r="4.5"/><circle cx="491.2" cy="674.1" r="4.5"/><circle cx="462.7" cy="749.3" r="4.5"/><circle cx="477.1" cy="627.9" r="4.5"/><circle cx="432.1" cy="679.5" r="4.5"/><circle cx="479.8" cy="684.4" r="4.5"/><circle cx="441.0" cy="578.2" r="4.5"/><circle cx="435.1" cy="989.4" r="4.5"/><circle cx="473.2" cy="694.5" r="4.5"/><circle cx="429.3" cy="805.3" r="4.5"/><circle cx="440.7" cy="918.3" r="4.5"/><circle cx="440.1" cy="867.7" r="4.5"/><circle cx="466.3" cy="887.0" r="4.5"/><circle cx="446.9" cy="684.1" r="4.5"/><circle cx="429.7" cy="1052.3" r="4.5"/><circle cx="490.6" cy="858.6" r="4.5"/><circle cx="435.3" cy="584.8" r="4.5"/><circle cx="428.3" cy="802.0" r="4.5"/><circle cx="475.0" cy="1069.3" r="4.5"/><circle cx="428.5" cy="715.1" r="4.5"/><circle cx="490.0" cy="732.9" r="4.5"/><circle cx="480.0" cy="988.5" r="4.5"/><circle cx="482.3" cy="711.9" r="4.5"/><circle cx="454.3" cy="902.6" r="4.5"/><circle cx="487.0" cy="1010.6" r="4.5"/><circle cx="464.2" cy="644.2" r="4.5"/><circle cx="441.8" cy="898.9" r="4.5"/><circle cx="456.4" cy="796.5" r="4.5"/><circle cx="459.2" cy="758.4" r="4.5"/><circle cx="482.3" cy="588.3" r="4.5"/><circle cx="426.2" cy="737.3" r="4.5"/><circle cx="447.5" cy="905.7" r="4.5"/><circle cx="463.3" cy="648.9" r="4.5"/><circle cx="422.4" cy="731.1" r="4.5"/><circle cx="485.0" cy="882.3" r="4.5"/><circle cx="451.0" cy="838.0" r="4.5"/><circle cx="459.2" cy="546.5" r="4.5"/><circle cx="451.9" cy="964.9" r="4.5"/><circle cx="483.2" cy="838.9" r="4.5"/><circle cx="460.8" cy="917.6" r="4.5"/><circle cx="431.7" cy="946.7" r="4.5"/><circle cx="464.3" cy="1030.3" r="4.5"/><circle cx="478.3" cy="699.0" r="4.5"/><circle cx="459.6" cy="721.8" r="4.5"/><circle cx="450.3" cy="1071.2" r="4.5"/><circle cx="431.8" cy="586.0" r="4.5"/><circle cx="466.9" cy="744.7" r="4.5"/><circle cx="424.3" cy="811.6" r="4.5"/><circle cx="476.5" cy="573.0" r="4.5"/><circle cx="427.4" cy="610.7" r="4.5"/><circle cx="451.5" cy="714.4" r="4.5"/><circle cx="484.0" cy="907.9" r="4.5"/><circle cx="480.4" cy="812.3" r="4.5"/><circle cx="422.9" cy="957.9" r="4.5"/><circle cx="447.0" cy="741.5" r="4.5"/><circle cx="444.3" cy="661.5" r="4.5"/><circle cx="442.7" cy="879.9" r="4.5"/><circle cx="478.1" cy="703.2" r="4.5"/><circle cx="431.7" cy="634.6" r="4.5"/><circle cx="459.5" cy="614.5" r="4.5"/><circle cx="458.0" cy="822.3" r="4.5"/><circle cx="466.1" cy="1027.6" r="4.5"/><circle cx="462.5" cy="593.8" r="4.5"/><circle cx="479.0" cy="877.6" r="4.5"/><circle cx="457.5" cy="632.1" r="4.5"/><circle cx="465.2" cy="621.3" r="4.5"/><circle cx="449.1" cy="578.9" r="4.5"/><circle cx="434.4" cy="915.7" r="4.5"/><circle cx="459.0" cy="579.7" r="4.5"/><circle cx="433.3" cy="891.4" r="4.5"/><circle cx="423.8" cy="616.0" r="4.5"/><circle cx="422.7" cy="916.8" r="4.5"/><circle cx="479.4" cy="668.2" r="4.5"/><circle cx="495.1" cy="601.9" r="4.5"/><circle cx="455.6" cy="928.0" r="4.5"/><circle cx="441.5" cy="1010.4" r="4.5"/><circle cx="450.5" cy="887.8" r="4.5"/><circle cx="437.0" cy="722.8" r="4.5"/><circle cx="485.2" cy="815.3" r="4.5"/><circle cx="476.8" cy="784.6" r="4.5"/><circle cx="449.5" cy="889.7" r="4.5"/><circle cx="492.5" cy="664.0" r="4.5"/><circle cx="464.6" cy="635.1" r="4.5"/><circle cx="448.6" cy="701.0" r="4.5"/><circle cx="484.2" cy="808.2" r="4.5"/><circle cx="427.9" cy="623.4" r="4.5"/><circle cx="438.6" cy="784.0" r="4.5"/><circle cx="461.8" cy="886.1" r="4.5"/><circle cx="422.8" cy="691.1" r="4.5"/><circle cx="491.3" cy="939.5" r="4.5"/><circle cx="424.6" cy="756.1" r="4.5"/><circle cx="481.0" cy="842.4" r="4.5"/><circle cx="453.1" cy="692.0" r="4.5"/><circle cx="427.8" cy="647.4" r="4.5"/><circle cx="453.9" cy="885.0" r="4.5"/><circle cx="429.3" cy="751.9" r="4.5"/><circle cx="425.9" cy="571.6" r="4.5"/><circle cx="470.5" cy="658.4" r="4.5"/><circle cx="490.1" cy="802.5" r="4.5"/><circle cx="432.3" cy="634.1" r="4.5"/><circle cx="466.4" cy="618.3" r="4.5"/><circle cx="444.9" cy="766.9" r="4.5"/><circle cx="483.1" cy="560.9" r="4.5"/><circle cx="444.5" cy="1037.6" r="4.5"/><circle cx="453.8" cy="700.5" r="4.5"/><circle cx="461.3" cy="875.3" r="4.5"/><circle cx="461.4" cy="636.3" r="4.5"/><circle cx="484.7" cy="814.2" r="4.5"/><circle cx="425.8" cy="716.7" r="4.5"/><circle cx="493.4" cy="868.5" r="4.5"/><circle cx="437.7" cy="564.0" r="4.5"/><circle cx="483.9" cy="692.3" r="4.5"/><circle cx="488.3" cy="890.5" r="4.5"/><circle cx="439.7" cy="754.2" r="4.5"/><circle cx="463.7" cy="920.7" r="4.5"/><circle cx="446.3" cy="903.5" r="4.5"/><circle cx="448.7" cy="897.2" r="4.5"/><circle cx="431.0" cy="827.2" r="4.5"/><circle cx="431.6" cy="702.0" r="4.5"/><circle cx="432.7" cy="631.2" r="4.5"/><circle cx="491.0" cy="704.3" r="4.5"/><circle cx="444.4" cy="850.0" r="4.5"/><circle cx="467.4" cy="813.3" r="4.5"/><circle cx="432.7" cy="867.2" r="4.5"/><circle cx="450.4" cy="1061.7" r="4.5"/><circle cx="492.1" cy="873.6" r="4.5"/><circle cx="451.5" cy="939.0" r="4.5"/><circle cx="454.1" cy="608.8" r="4.5"/><circle cx="473.4" cy="980.0" r="4.5"/><circle cx="487.0" cy="896.7" r="4.5"/><circle cx="434.0" cy="712.6" r="4.5"/><circle cx="446.4" cy="543.8" r="4.5"/><circle cx="492.5" cy="955.1" r="4.5"/><circle cx="451.3" cy="1054.0" r="4.5"/><circle cx="491.6" cy="913.3" r="4.5"/><circle cx="426.6" cy="917.3" r="4.5"/><circle cx="479.8" cy="1050.2" r="4.5"/><circle cx="438.4" cy="612.7" r="4.5"/><circle cx="471.9" cy="740.1" r="4.5"/><circle cx="456.6" cy="574.1" r="4.5"/><circle cx="427.2" cy="832.3" r="4.5"/><circle cx="441.2" cy="854.6" r="4.5"/><circle cx="438.2" cy="627.6" r="4.5"/><circle cx="457.9" cy="650.4" r="4.5"/><circle cx="436.8" cy="840.6" r="4.5"/><circle cx="467.9" cy="667.8" r="4.5"/><circle cx="474.1" cy="992.4" r="4.5"/><circle cx="472.1" cy="670.7" r="4.5"/><circle cx="476.8" cy="819.5" r="4.5"/><circle cx="487.5" cy="698.4" r="4.5"/><circle cx="435.6" cy="588.7" r="4.5"/><circle cx="444.4" cy="568.8" r="4.5"/><circle cx="430.8" cy="954.4" r="4.5"/><circle cx="492.0" cy="679.8" r="4.5"/><circle cx="492.1" cy="895.6" r="4.5"/><circle cx="462.8" cy="661.9" r="4.5"/><circle cx="425.9" cy="718.4" r="4.5"/><circle cx="449.9" cy="855.3" r="4.5"/><circle cx="434.2" cy="884.6" r="4.5"/><circle cx="425.5" cy="876.9" r="4.5"/><circle cx="437.1" cy="1035.8" r="4.5"/><circle cx="458.2" cy="720.6" r="4.5"/><circle cx="496.1" cy="656.0" r="4.5"/><circle cx="446.8" cy="787.2" r="4.5"/><circle cx="444.0" cy="711.8" r="4.5"/><circle cx="455.8" cy="684.9" r="4.5"/><circle cx="462.9" cy="955.9" r="4.5"/><circle cx="494.4" cy="900.3" r="4.5"/><circle cx="423.3" cy="622.2" r="4.5"/><circle cx="470.5" cy="567.3" r="4.5"/><circle cx="437.0" cy="759.5" r="4.5"/><circle cx="481.5" cy="641.1" r="4.5"/><circle cx="495.5" cy="725.9" r="4.5"/><circle cx="463.1" cy="658.0" r="4.5"/><circle cx="450.2" cy="804.2" r="4.5"/><circle cx="450.3" cy="741.9" r="4.5"/><circle cx="441.3" cy="541.6" r="4.5"/><circle cx="425.9" cy="740.6" r="4.5"/><circle cx="427.2" cy="751.3" r="4.5"/><circle cx="441.9" cy="982.7" r="4.5"/><circle cx="437.2" cy="806.8" r="4.5"/><circle cx="468.7" cy="940.6" r="4.5"/><circle cx="460.7" cy="729.9" r="4.5"/><circle cx="486.2" cy="613.1" r="4.5"/><circle cx="467.8" cy="747.5" r="4.5"/><circle cx="469.1" cy="663.4" r="4.5"/><circle cx="454.1" cy="912.6" r="4.5"/><circle cx="461.4" cy="1044.6" r="4.5"/><circle cx="454.6" cy="719.4" r="4.5"/><circle cx="435.3" cy="996.2" r="4.5"/><circle cx="439.8" cy="555.1" r="4.5"/><circle cx="448.0" cy="779.1" r="4.5"/><circle cx="480.2" cy="613.9" r="4.5"/><circle cx="448.1" cy="643.1" r="4.5"/><circle cx="477.6" cy="853.0" r="4.5"/><circle cx="487.0" cy="937.4" r="4.5"/><circle cx="489.2" cy="727.2" r="4.5"/><circle cx="476.8" cy="743.3" r="4.5"/><circle cx="438.6" cy="725.2" r="4.5"/><circle cx="436.3" cy="690.7" r="4.5"/><circle cx="461.3" cy="596.8" r="4.5"/><circle cx="496.1" cy="781.1" r="4.5"/><circle cx="462.3" cy="642.1" r="4.5"/><circle cx="488.8" cy="618.2" r="4.5"/><circle cx="435.6" cy="675.7" r="4.5"/><circle cx="479.7" cy="904.9" r="4.5"/><circle cx="425.3" cy="850.6" r="4.5"/><circle cx="486.0" cy="713.2" r="4.5"/><circle cx="494.9" cy="577.2" r="4.5"/><circle cx="452.3" cy="1040.4" r="4.5"/><circle cx="445.7" cy="973.2" r="4.5"/><circle cx="463.4" cy="597.1" r="4.5"/><circle cx="447.8" cy="779.6" r="4.5"/><circle cx="450.1" cy="771.9" r="4.5"/><circle cx="454.5" cy="577.1" r="4.5"/><circle cx="491.3" cy="809.8" r="4.5"/><circle cx="426.3" cy="711.2" r="4.5"/><circle cx="426.5" cy="813.1" r="4.5"/><circle cx="473.1" cy="814.8" r="4.5"/><circle cx="427.1" cy="718.9" r="4.5"/><circle cx="470.8" cy="689.0" r="4.5"/><circle cx="464.4" cy="903.5" r="4.5"/><circle cx="458.6" cy="1033.7" r="4.5"/><circle cx="459.1" cy="824.2" r="4.5"/><circle cx="470.7" cy="718.1" r="4.5"/><circle cx="470.0" cy="626.5" r="4.5"/><circle cx="484.9" cy="617.8" r="4.5"/><circle cx="435.6" cy="573.6" r="4.5"/><circle cx="447.2" cy="615.0" r="4.5"/><circle cx="466.9" cy="690.0" r="4.5"/><circle cx="456.1" cy="605.7" r="4.5"/><circle cx="430.1" cy="624.3" r="4.5"/><circle cx="475.9" cy="940.0" r="4.5"/><circle cx="423.9" cy="775.8" r="4.5"/><circle cx="488.7" cy="735.3" r="4.5"/><circle cx="455.4" cy="753.0" r="4.5"/><circle cx="454.3" cy="888.6" r="4.5"/><circle cx="464.2" cy="745.3" r="4.5"/><circle cx="474.1" cy="712.9" r="4.5"/><circle cx="440.2" cy="673.7" r="4.5"/><circle cx="471.4" cy="612.1" r="4.5"/><circle cx="448.1" cy="545.1" r="4.5"/><circle cx="483.1" cy="1025.2" r="4.5"/><circle cx="457.2" cy="767.9" r="4.5"/><circle cx="435.5" cy="783.4" r="4.5"/><circle cx="440.1" cy="1028.6" r="4.5"/><circle cx="479.1" cy="694.8" r="4.5"/><circle cx="456.7" cy="635.3" r="4.5"/><circle cx="435.2" cy="999.3" r="4.5"/><circle cx="466.9" cy="636.5" r="4.5"/><circle cx="436.0" cy="650.7" r="4.5"/><circle cx="478.6" cy="915.3" r="4.5"/><circle cx="488.9" cy="901.3" r="4.5"/><circle cx="442.6" cy="638.5" r="4.5"/><circle cx="485.1" cy="560.0" r="4.5"/><circle cx="467.1" cy="717.7" r="4.5"/><circle cx="446.4" cy="653.1" r="4.5"/><circle cx="495.6" cy="649.4" r="4.5"/><circle cx="457.7" cy="749.6" r="4.5"/><circle cx="470.6" cy="701.6" r="4.5"/><circle cx="491.7" cy="738.3" r="4.5"/><circle cx="487.6" cy="566.1" r="4.5"/><circle cx="433.5" cy="687.2" r="4.5"/><circle cx="440.9" cy="923.2" r="4.5"/><circle cx="491.7" cy="978.4" r="4.5"/><circle cx="480.3" cy="1006.3" r="4.5"/><circle cx="496.3" cy="706.8" r="4.5"/><circle cx="474.4" cy="936.6" r="4.5"/><circle cx="455.9" cy="555.9" r="4.5"/><circle cx="431.8" cy="817.6" r="4.5"/><circle cx="473.1" cy="693.1" r="4.5"/><circle cx="440.7" cy="673.4" r="4.5"/><circle cx="425.7" cy="988.3" r="4.5"/><circle cx="467.5" cy="609.5" r="4.5"/><circle cx="449.3" cy="680.5" r="4.5"/><circle cx="475.8" cy="574.9" r="4.5"/><circle cx="451.6" cy="1008.9" r="4.5"/><circle cx="440.0" cy="770.5" r="4.5"/><circle cx="488.1" cy="648.5" r="4.5"/><circle cx="435.8" cy="872.1" r="4.5"/><circle cx="483.2" cy="660.2" r="4.5"/><circle cx="476.0" cy="1046.0" r="4.5"/><circle cx="466.8" cy="773.7" r="4.5"/><circle cx="494.4" cy="929.2" r="4.5"/><circle cx="427.1" cy="808.5" r="4.5"/><circle cx="474.5" cy="585.6" r="4.5"/><circle cx="479.0" cy="990.0" r="4.5"/><circle cx="423.6" cy="688.8" r="4.5"/><circle cx="447.7" cy="1023.1" r="4.5"/><circle cx="462.7" cy="689.8" r="4.5"/><circle cx="432.0" cy="665.4" r="4.5"/><circle cx="439.2" cy="617.1" r="4.5"/><circle cx="488.9" cy="656.5" r="4.5"/><circle cx="495.2" cy="780.8" r="4.5"/><circle cx="450.6" cy="751.9" r="4.5"/><circle cx="484.7" cy="800.8" r="4.5"/><circle cx="453.2" cy="934.2" r="4.5"/><circle cx="435.8" cy="622.3" r="4.5"/><circle cx="456.7" cy="739.4" r="4.5"/><circle cx="447.5" cy="664.3" r="4.5"/><circle cx="429.5" cy="681.5" r="4.5"/><circle cx="467.5" cy="693.4" r="4.5"/><circle cx="484.3" cy="654.1" r="4.5"/><circle cx="457.0" cy="578.0" r="4.5"/><circle cx="443.2" cy="843.7" r="4.5"/><circle cx="429.2" cy="731.8" r="4.5"/><circle cx="478.4" cy="730.2" r="4.5"/><circle cx="454.3" cy="667.0" r="4.5"/><circle cx="481.7" cy="1013.3" r="4.5"/><circle cx="487.2" cy="914.6" r="4.5"/><circle cx="445.3" cy="682.2" r="4.5"/><circle cx="486.6" cy="652.0" r="4.5"/><circle cx="429.0" cy="584.4" r="4.5"/><circle cx="478.1" cy="773.4" r="4.5"/><circle cx="423.5" cy="1054.3" r="4.5"/><circle cx="489.8" cy="717.3" r="4.5"/><circle cx="494.6" cy="828.6" r="4.5"/><circle cx="457.4" cy="625.7" r="4.5"/><circle cx="465.5" cy="798.9" r="4.5"/><circle cx="449.1" cy="722.1" r="4.5"/><circle cx="457.9" cy="674.3" r="4.5"/><circle cx="493.1" cy="753.6" r="4.5"/><circle cx="465.5" cy="708.6" r="4.5"/><circle cx="463.9" cy="942.7" r="4.5"/><circle cx="451.3" cy="691.4" r="4.5"/><circle cx="495.3" cy="758.7" r="4.5"/><circle cx="470.5" cy="675.0" r="4.5"/><circle cx="436.2" cy="687.7" r="4.5"/><circle cx="423.9" cy="600.4" r="4.5"/><circle cx="444.8" cy="778.1" r="4.5"/><circle cx="449.3" cy="1042.6" r="4.5"/><circle cx="427.0" cy="714.6" r="4.5"/><circle cx="454.8" cy="798.1" r="4.5"/><circle cx="469.0" cy="697.0" r="4.5"/><circle cx="448.1" cy="825.1" r="4.5"/><circle cx="440.5" cy="557.8" r="4.5"/><circle cx="477.8" cy="967.0" r="4.5"/><circle cx="437.7" cy="645.4" r="4.5"/><circle cx="478.0" cy="770.0" r="4.5"/><circle cx="450.2" cy="1014.2" r="4.5"/><circle cx="462.9" cy="754.5" r="4.5"/><circle cx="435.6" cy="594.1" r="4.5"/><circle cx="424.3" cy="701.4" r="4.5"/><circle cx="451.2" cy="707.1" r="4.5"/><circle cx="446.1" cy="748.6" r="4.5"/><circle cx="488.5" cy="1000.7" r="4.5"/><circle cx="455.3" cy="556.8" r="4.5"/><circle cx="481.2" cy="791.2" r="4.5"/><circle cx="432.4" cy="659.1" r="4.5"/><circle cx="487.9" cy="592.8" r="4.5"/><circle cx="477.2" cy="765.3" r="4.5"/><circle cx="461.5" cy="901.7" r="4.5"/><circle cx="439.1" cy="600.0" r="4.5"/><circle cx="446.3" cy="765.9" r="4.5"/><circle cx="461.2" cy="694.0" r="4.5"/><circle cx="459.4" cy="1021.3" r="4.5"/><circle cx="427.1" cy="1001.8" r="4.5"/><circle cx="443.6" cy="927.5" r="4.5"/><circle cx="443.0" cy="768.8" r="4.5"/><circle cx="431.5" cy="941.2" r="4.5"/><circle cx="470.6" cy="710.1" r="4.5"/><circle cx="490.2" cy="724.9" r="4.5"/><circle cx="458.2" cy="661.1" r="4.5"/><circle cx="477.4" cy="774.7" r="4.5"/><circle cx="458.2" cy="864.5" r="4.5"/><circle cx="451.7" cy="788.2" r="4.5"/><circle cx="432.9" cy="942.9" r="4.5"/><circle cx="495.5" cy="874.6" r="4.5"/><circle cx="457.9" cy="734.4" r="4.5"/><circle cx="449.7" cy="742.3" r="4.5"/><circle cx="489.5" cy="983.4" r="4.5"/><circle cx="436.1" cy="737.8" r="4.5"/><circle cx="468.8" cy="757.4" r="4.5"/><circle cx="492.2" cy="1005.0" r="4.5"/><circle cx="444.2" cy="852.3" r="4.5"/><circle cx="436.0" cy="967.1" r="4.5"/><circle cx="479.7" cy="750.6" r="4.5"/><circle cx="484.9" cy="970.8" r="4.5"/><circle cx="477.5" cy="580.6" r="4.5"/><circle cx="474.4" cy="659.8" r="4.5"/><circle cx="428.2" cy="649.6" r="4.5"/><circle cx="426.0" cy="891.6" r="4.5"/><circle cx="429.4" cy="686.3" r="4.5"/><circle cx="492.1" cy="629.3" r="4.5"/><circle cx="472.9" cy="778.7" r="4.5"/><circle cx="426.2" cy="642.5" r="4.5"/><circle cx="423.5" cy="931.6" r="4.5"/><circle cx="426.3" cy="677.6" r="4.5"/><circle cx="451.7" cy="552.4" r="4.5"/><circle cx="487.7" cy="938.1" r="4.5"/><circle cx="430.3" cy="894.1" r="4.5"/><circle cx="456.8" cy="632.6" r="4.5"/><circle cx="437.0" cy="847.8" r="4.5"/><circle cx="451.8" cy="946.4" r="4.5"/><circle cx="438.6" cy="782.9" r="4.5"/><circle cx="471.8" cy="861.3" r="4.5"/><circle cx="462.3" cy="750.3" r="4.5"/><circle cx="494.0" cy="710.5" r="4.5"/><circle cx="455.8" cy="562.0" r="4.5"/><circle cx="485.5" cy="639.5" r="4.5"/><circle cx="491.7" cy="735.6" r="4.5"/><circle cx="442.3" cy="811.4" r="4.5"/><circle cx="448.8" cy="1005.6" r="4.5"/><circle cx="477.6" cy="758.1" r="4.5"/><circle cx="474.2" cy="792.4" r="4.5"/><circle cx="455.3" cy="1029.5" r="4.5"/><circle cx="435.5" cy="619.9" r="4.5"/><circle cx="455.2" cy="633.0" r="4.5"/><circle cx="479.3" cy="572.4" r="4.5"/><circle cx="468.3" cy="688.2" r="4.5"/><circle cx="449.0" cy="959.9" r="4.5"/><circle cx="491.6" cy="611.7" r="4.5"/><circle cx="451.8" cy="601.3" r="4.5"/><circle cx="462.2" cy="715.5" r="4.5"/><circle cx="496.7" cy="616.7" r="4.5"/><circle cx="469.4" cy="1066.9" r="4.5"/><circle cx="463.3" cy="919.7" r="4.5"/><circle cx="470.4" cy="729.6" r="4.5"/><circle cx="456.6" cy="713.8" r="4.5"/><circle cx="445.5" cy="911.5" r="4.5"/><circle cx="441.7" cy="558.7" r="4.5"/><circle cx="436.8" cy="581.9" r="4.5"/><circle cx="462.6" cy="777.6" r="4.5"/><circle cx="431.9" cy="621.8" r="4.5"/><circle cx="465.5" cy="635.9" r="4.5"/><circle cx="470.4" cy="741.3" r="4.5"/><circle cx="485.0" cy="789.5" r="4.5"/><circle cx="478.8" cy="581.2" r="4.5"/><circle cx="466.2" cy="672.1" r="4.5"/><circle cx="435.5" cy="618.9" r="4.5"/><circle cx="485.4" cy="693.5" r="4.5"/><circle cx="436.5" cy="684.8" r="4.5"/><circle cx="433.6" cy="789.8" r="4.5"/><circle cx="436.0" cy="744.6" r="4.5"/><circle cx="442.9" cy="703.7" r="4.5"/><circle cx="437.1" cy="743.5" r="4.5"/><circle cx="453.3" cy="803.9" r="4.5"/><circle cx="496.2" cy="639.4" r="4.5"/><circle cx="484.7" cy="652.2" r="4.5"/><circle cx="482.6" cy="829.8" r="4.5"/><circle cx="426.8" cy="626.2" r="4.5"/><circle cx="423.0" cy="757.7" r="4.5"/><circle cx="423.7" cy="1009.7" r="4.5"/><circle cx="437.1" cy="683.6" r="4.5"/><circle cx="426.0" cy="721.6" r="4.5"/><circle cx="461.3" cy="883.2" r="4.5"/><circle cx="493.5" cy="1056.6" r="4.5"/><circle cx="451.9" cy="1007.0" r="4.5"/><circle cx="473.1" cy="805.8" r="4.5"/><circle cx="451.4" cy="662.7" r="4.5"/><circle cx="449.6" cy="796.8" r="4.5"/><circle cx="449.3" cy="1015.3" r="4.5"/><circle cx="449.3" cy="1029.9" r="4.5"/><circle cx="426.7" cy="615.6" r="4.5"/><circle cx="461.2" cy="681.1" r="4.5"/><circle cx="429.3" cy="907.0" r="4.5"/><circle cx="441.1" cy="746.5" r="4.5"/><circle cx="454.4" cy="984.1" r="4.5"/><circle cx="424.5" cy="831.5" r="4.5"/><circle cx="453.6" cy="1051.1" r="4.5"/><circle cx="471.2" cy="792.9" r="4.5"/><circle cx="486.1" cy="973.6" r="4.5"/><circle cx="468.9" cy="743.7" r="4.5"/><circle cx="469.9" cy="1019.4" r="4.5"/><circle cx="443.0" cy="952.8" r="4.5"/><circle cx="422.1" cy="725.4" r="4.5"/><circle cx="459.6" cy="719.8" r="4.5"/><circle cx="460.7" cy="677.7" r="4.5"/><circle cx="443.4" cy="733.1" r="4.5"/><circle cx="496.9" cy="901.0" r="4.5"/><circle cx="439.7" cy="700.8" r="4.5"/><circle cx="458.7" cy="837.5" r="4.5"/><circle cx="456.4" cy="807.8" r="4.5"/><circle cx="431.3" cy="723.7" r="4.5"/><circle cx="462.4" cy="865.5" r="4.5"/><circle cx="492.4" cy="565.5" r="4.5"/><circle cx="448.0" cy="657.1" r="4.5"/><circle cx="463.2" cy="721.2" r="4.5"/><circle cx="436.8" cy="648.2" r="4.5"/><circle cx="475.6" cy="918.8" r="4.5"/><circle cx="428.3" cy="599.1" r="4.5"/><circle cx="434.5" cy="914.2" r="4.5"/><circle cx="463.3" cy="733.2" r="4.5"/><circle cx="476.5" cy="658.9" r="4.5"/><circle cx="487.2" cy="895.0" r="4.5"/><circle cx="458.2" cy="674.8" r="4.5"/><circle cx="438.0" cy="776.6" r="4.5"/><circle cx="475.0" cy="756.5" r="4.5"/><circle cx="432.4" cy="981.3" r="4.5"/><circle cx="422.4" cy="675.5" r="4.5"/><circle cx="468.1" cy="932.3" r="4.5"/><circle cx="466.1" cy="720.2" r="4.5"/><circle cx="450.2" cy="584.1" r="4.5"/><circle cx="445.1" cy="883.9" r="4.5"/><circle cx="432.7" cy="810.9" r="4.5"/><circle cx="482.3" cy="642.6" r="4.5"/><circle cx="479.8" cy="680.1" r="4.5"/><circle cx="463.3" cy="809.1" r="4.5"/><circle cx="433.8" cy="752.4" r="4.5"/><circle cx="424.4" cy="629.5" r="4.5"/><circle cx="438.1" cy="1046.8" r="4.5"/><circle cx="448.1" cy="726.7" r="4.5"/><circle cx="482.0" cy="906.1" r="4.5"/><circle cx="467.2" cy="655.4" r="4.5"/><circle cx="450.9" cy="606.1" r="4.5"/><circle cx="490.9" cy="647.8" r="4.5"/><circle cx="480.6" cy="664.6" r="4.5"/><circle cx="429.6" cy="592.5" r="4.5"/><circle cx="465.4" cy="586.6" r="4.5"/><circle cx="486.3" cy="606.3" r="4.5"/><circle cx="477.2" cy="887.5" r="4.5"/><circle cx="486.9" cy="1057.9" r="4.5"/><circle cx="473.1" cy="1059.5" r="4.5"/><circle cx="484.3" cy="755.3" r="4.5"/><circle cx="484.1" cy="1021.6" r="4.5"/><circle cx="468.4" cy="550.3" r="4.5"/><circle cx="487.1" cy="762.5" r="4.5"/><circle cx="486.7" cy="881.5" r="4.5"/><circle cx="437.5" cy="542.5" r="4.5"/><circle cx="458.6" cy="551.5" r="4.5"/><circle cx="424.3" cy="866.6" r="4.5"/><circle cx="431.9" cy="935.7" r="4.5"/><circle cx="428.8" cy="968.1" r="4.5"/><circle cx="469.0" cy="603.6" r="4.5"/><circle cx="489.7" cy="870.2" r="4.5"/><circle cx="440.6" cy="638.1" r="4.5"/><circle cx="424.6" cy="833.5" r="4.5"/><circle cx="485.9" cy="739.6" r="4.5"/><circle cx="479.1" cy="785.3" r="4.5"/><circle cx="450.5" cy="920.3" r="4.5"/><circle cx="492.9" cy="1031.9" r="4.5"/><circle cx="426.1" cy="926.2" r="4.5"/><circle cx="490.8" cy="699.6" r="4.5"/><circle cx="455.4" cy="993.7" r="4.5"/><circle cx="483.3" cy="554.3" r="4.5"/><circle cx="434.1" cy="1051.8" r="4.5"/><circle cx="434.8" cy="817.0" r="4.5"/><circle cx="426.7" cy="1047.1" r="4.5"/><circle cx="478.7" cy="630.8" r="4.5"/><circle cx="476.0" cy="921.4" r="4.5"/><circle cx="462.1" cy="704.9" r="4.5"/><circle cx="459.4" cy="549.3" r="4.5"/><circle cx="422.7" cy="564.7" r="4.5"/><circle cx="452.3" cy="605.4" r="4.5"/><circle cx="462.5" cy="766.4" r="4.5"/><circle cx="480.3" cy="780.5" r="4.5"/><circle cx="454.1" cy="749.8" r="4.5"/><circle cx="442.1" cy="1000.2" r="4.5"/><circle cx="471.1" cy="698.1" r="4.5"/><circle cx="494.7" cy="740.3" r="4.5"/><circle cx="455.1" cy="621.0" r="4.5"/><circle cx="434.9" cy="683.0" r="4.5"/><circle cx="445.7" cy="719.1" r="4.5"/><circle cx="470.3" cy="682.7" r="4.5"/><circle cx="451.0" cy="926.7" r="4.5"/><circle cx="438.9" cy="616.9" r="4.5"/><circle cx="473.1" cy="738.8" r="4.5"/><circle cx="475.4" cy="605.0" r="4.5"/><circle cx="479.6" cy="589.2" r="4.5"/><circle cx="439.3" cy="726.5" r="4.5"/><circle cx="473.5" cy="984.9" r="4.5"/><circle cx="485.8" cy="735.8" r="4.5"/><circle cx="467.4" cy="815.9" r="4.5"/><circle cx="473.9" cy="833.1" r="4.5"/><circle cx="432.4" cy="991.0" r="4.5"/><circle cx="484.1" cy="640.8" r="4.5"/><circle cx="422.8" cy="590.0" r="4.5"/><circle cx="496.7" cy="1026.9" r="4.5"/><circle cx="469.4" cy="840.1" r="4.5"/><circle cx="427.6" cy="1018.1" r="4.5"/><circle cx="470.3" cy="545.2" r="4.5"/><circle cx="459.8" cy="569.1" r="4.5"/><circle cx="425.6" cy="975.5" r="4.5"/><circle cx="441.1" cy="1075.8" r="4.5"/><circle cx="480.9" cy="908.5" r="4.5"/><circle cx="489.4" cy="1039.6" r="4.5"/><circle cx="456.2" cy="586.4" r="4.5"/><circle cx="442.3" cy="733.8" r="4.5"/><circle cx="443.9" cy="835.7" r="4.5"/><circle cx="467.1" cy="760.4" r="4.5"/><circle cx="465.2" cy="1067.8" r="4.5"/><circle cx="468.5" cy="871.0" r="4.5"/><circle cx="434.8" cy="709.1" r="4.5"/><circle cx="491.9" cy="794.2" r="4.5"/><circle cx="484.2" cy="643.4" r="4.5"/><circle cx="421.8" cy="961.9" r="4.5"/><circle cx="494.8" cy="928.9" r="4.5"/><circle cx="426.5" cy="821.6" r="4.5"/><circle cx="433.8" cy="957.1" r="4.5"/><circle cx="441.2" cy="603.2" r="4.5"/><circle cx="450.9" cy="538.6" r="4.5"/><circle cx="490.8" cy="856.6" r="4.5"/><circle cx="467.4" cy="717.4" r="4.5"/><circle cx="465.5" cy="835.0" r="4.5"/><circle cx="442.7" cy="781.8" r="4.5"/><circle cx="483.3" cy="1055.8" r="4.5"/><circle cx="467.0" cy="861.7" r="4.5"/><circle cx="465.5" cy="793.6" r="4.5"/><circle cx="468.2" cy="846.8" r="4.5"/><circle cx="480.0" cy="795.8" r="4.5"/><circle cx="443.3" cy="714.8" r="4.5"/><circle cx="431.9" cy="982.0" r="4.5"/><circle cx="488.1" cy="716.1" r="4.5"/><circle cx="430.2" cy="1062.5" r="4.5"/><circle cx="485.4" cy="696.5" r="4.5"/><circle cx="441.9" cy="871.4" r="4.5"/><circle cx="465.2" cy="931.7" r="4.5"/><circle cx="429.7" cy="607.5" r="4.5"/><circle cx="471.2" cy="727.5" r="4.5"/><circle cx="423.9" cy="897.9" r="4.5"/><circle cx="429.8" cy="692.7" r="4.5"/><circle cx="476.7" cy="728.1" r="4.5"/><circle cx="495.8" cy="761.9" r="4.5"/><circle cx="436.8" cy="923.8" r="4.5"/><circle cx="464.6" cy="597.8" r="4.5"/><circle cx="444.6" cy="829.2" r="4.5"/><circle cx="485.8" cy="852.0" r="4.5"/><circle cx="435.0" cy="595.0" r="4.5"/><circle cx="479.4" cy="1053.0" r="4.5"/><circle cx="493.0" cy="875.9" r="4.5"/><circle cx="444.8" cy="679.1" r="4.5"/><circle cx="432.0" cy="922.5" r="4.5"/><circle cx="495.1" cy="749.0" r="4.5"/><circle cx="494.5" cy="756.8" r="4.5"/><circle cx="484.0" cy="986.3" r="4.5"/><circle cx="446.5" cy="952.2" r="4.5"/><circle cx="469.4" cy="690.5" r="4.5"/><circle cx="462.0" cy="725.7" r="4.5"/><circle cx="459.3" cy="941.7" r="4.5"/><circle cx="487.0" cy="753.3" r="4.5"/><circle cx="445.4" cy="1031.5" r="4.5"/><circle cx="490.0" cy="735.0" r="4.5"/><circle cx="484.7" cy="1037.9" r="4.5"/><circle cx="431.4" cy="854.1" r="4.5"/><circle cx="439.6" cy="731.3" r="4.5"/><circle cx="493.7" cy="936.5" r="4.5"/><circle cx="480.1" cy="826.4" r="4.5"/><circle cx="464.8" cy="1060.3" r="4.5"/><circle cx="436.8" cy="630.3" r="4.5"/><circle cx="457.7" cy="944.6" r="4.5"/><circle cx="423.1" cy="841.4" r="4.5"/><circle cx="457.5" cy="827.5" r="4.5"/><circle cx="430.0" cy="657.6" r="4.5"/><circle cx="479.7" cy="580.0" r="4.5"/><circle cx="483.3" cy="742.6" r="4.5"/><circle cx="446.2" cy="709.9" r="4.5"/><circle cx="482.5" cy="991.2" r="4.5"/><circle cx="432.6" cy="1063.1" r="4.5"/><circle cx="467.5" cy="971.1" r="4.5"/><circle cx="447.3" cy="863.4" r="4.5"/><circle cx="474.7" cy="610.7" r="4.5"/><circle cx="472.0" cy="869.4" r="4.5"/><circle cx="473.6" cy="745.7" r="4.5"/><circle cx="423.2" cy="705.2" r="4.5"/><circle cx="429.2" cy="832.6" r="4.5"/><circle cx="462.7" cy="628.5" r="4.5"/><circle cx="429.1" cy="583.7" r="4.5"/><circle cx="443.6" cy="608.6" r="4.5"/><circle cx="464.9" cy="909.7" r="4.5"/><circle cx="488.0" cy="602.3" r="4.5"/><circle cx="491.4" cy="869.1" r="4.5"/><circle cx="471.7" cy="976.1" r="4.5"/><circle cx="432.6" cy="885.6" r="4.5"/><circle cx="454.6" cy="563.7" r="4.5"/><circle cx="452.4" cy="769.8" r="4.5"/><circle cx="495.1" cy="576.3" r="4.5"/><circle cx="424.8" cy="899.8" r="4.5"/><circle cx="467.3" cy="1013.0" r="4.5"/><circle cx="480.2" cy="670.2" r="4.5"/><circle cx="457.3" cy="575.7" r="4.5"/><circle cx="486.4" cy="590.4" r="4.5"/><circle cx="472.8" cy="859.9" r="4.5"/><circle cx="593.1" cy="900.4" r="4.5"/><circle cx="577.6" cy="949.8" r="4.5"/><circle cx="596.0" cy="1052.7" r="4.5"/><circle cx="598.0" cy="1089.3" r="4.5"/><circle cx="635.1" cy="1026.3" r="4.5"/><circle cx="574.3" cy="910.0" r="4.5"/><circle cx="643.8" cy="921.9" r="4.5"/><circle cx="632.4" cy="955.8" r="4.5"/><circle cx="640.5" cy="1127.9" r="4.5"/><circle cx="634.1" cy="966.1" r="4.5"/><circle cx="597.3" cy="877.6" r="4.5"/><circle cx="643.6" cy="1087.8" r="4.5"/><circle cx="588.0" cy="922.5" r="4.5"/><circle cx="595.5" cy="1033.0" r="4.5"/><circle cx="603.6" cy="1004.0" r="4.5"/><circle cx="584.4" cy="1087.5" r="4.5"/><circle cx="597.4" cy="860.1" r="4.5"/><circle cx="572.9" cy="947.0" r="4.5"/><circle cx="585.2" cy="1025.3" r="4.5"/><circle cx="595.6" cy="837.8" r="4.5"/><circle cx="627.8" cy="1041.4" r="4.5"/><circle cx="627.3" cy="1059.4" r="4.5"/><circle cx="611.1" cy="1100.2" r="4.5"/><circle cx="606.4" cy="975.4" r="4.5"/><circle cx="596.5" cy="1049.9" r="4.5"/><circle cx="584.4" cy="888.9" r="4.5"/><circle cx="599.6" cy="1011.6" r="4.5"/><circle cx="631.5" cy="1104.3" r="4.5"/><circle cx="629.7" cy="933.2" r="4.5"/><circle cx="642.9" cy="959.3" r="4.5"/><circle cx="619.2" cy="1128.9" r="4.5"/><circle cx="640.5" cy="1027.8" r="4.5"/><circle cx="626.0" cy="1096.8" r="4.5"/><circle cx="605.5" cy="964.9" r="4.5"/><circle cx="621.4" cy="937.0" r="4.5"/><circle cx="590.1" cy="903.0" r="4.5"/><circle cx="607.9" cy="925.2" r="4.5"/><circle cx="642.7" cy="1044.8" r="4.5"/><circle cx="579.0" cy="1079.8" r="4.5"/><circle cx="610.2" cy="991.3" r="4.5"/><circle cx="593.3" cy="1050.5" r="4.5"/><circle cx="592.0" cy="1110.4" r="4.5"/><circle cx="616.3" cy="1008.7" r="4.5"/><circle cx="601.2" cy="804.5" r="4.5"/><circle cx="639.6" cy="841.0" r="4.5"/><circle cx="624.7" cy="1038.3" r="4.5"/><circle cx="631.6" cy="1076.7" r="4.5"/><circle cx="580.5" cy="1122.9" r="4.5"/><circle cx="634.2" cy="1098.0" r="4.5"/><circle cx="594.4" cy="1125.8" r="4.5"/><circle cx="639.9" cy="1140.5" r="4.5"/><circle cx="591.5" cy="1111.0" r="4.5"/><circle cx="638.0" cy="1100.4" r="4.5"/><circle cx="590.1" cy="857.8" r="4.5"/><circle cx="585.7" cy="896.4" r="4.5"/><circle cx="597.1" cy="957.8" r="4.5"/><circle cx="640.9" cy="1114.3" r="4.5"/><circle cx="638.0" cy="882.9" r="4.5"/><circle cx="623.8" cy="781.2" r="4.5"/><circle cx="621.5" cy="979.7" r="4.5"/><circle cx="598.4" cy="1013.3" r="4.5"/><circle cx="572.5" cy="895.5" r="4.5"/><circle cx="627.0" cy="1128.4" r="4.5"/><circle cx="616.2" cy="892.2" r="4.5"/><circle cx="645.4" cy="1062.2" r="4.5"/><circle cx="600.0" cy="911.0" r="4.5"/><circle cx="632.8" cy="1033.6" r="4.5"/><circle cx="623.0" cy="854.6" r="4.5"/><circle cx="620.8" cy="1098.7" r="4.5"/><circle cx="596.5" cy="969.6" r="4.5"/><circle cx="628.4" cy="1078.7" r="4.5"/><circle cx="586.5" cy="984.5" r="4.5"/><circle cx="599.3" cy="1088.4" r="4.5"/><circle cx="610.4" cy="994.8" r="4.5"/><circle cx="637.9" cy="952.8" r="4.5"/><circle cx="593.4" cy="798.8" r="4.5"/><circle cx="603.4" cy="1047.6" r="4.5"/><circle cx="646.3" cy="860.4" r="4.5"/><circle cx="628.6" cy="1054.7" r="4.5"/><circle cx="619.4" cy="1053.4" r="4.5"/><circle cx="644.0" cy="954.6" r="4.5"/><circle cx="617.5" cy="805.4" r="4.5"/><circle cx="582.6" cy="826.7" r="4.5"/><circle cx="589.8" cy="1059.7" r="4.5"/><circle cx="588.0" cy="1120.1" r="4.5"/><circle cx="597.8" cy="1096.4" r="4.5"/><circle cx="581.6" cy="1049.1" r="4.5"/><circle cx="621.8" cy="1136.3" r="4.5"/><circle cx="615.9" cy="993.8" r="4.5"/><circle cx="578.6" cy="1079.7" r="4.5"/><circle cx="621.4" cy="1147.2" r="4.5"/><circle cx="639.8" cy="1080.3" r="4.5"/><circle cx="601.8" cy="1084.0" r="4.5"/><circle cx="644.8" cy="1018.2" r="4.5"/><circle cx="589.6" cy="1099.1" r="4.5"/><circle cx="624.3" cy="1125.3" r="4.5"/><circle cx="639.1" cy="946.1" r="4.5"/><circle cx="575.2" cy="1076.3" r="4.5"/><circle cx="597.0" cy="943.7" r="4.5"/><circle cx="640.2" cy="939.2" r="4.5"/><circle cx="638.3" cy="973.3" r="4.5"/><circle cx="619.9" cy="1093.9" r="4.5"/><circle cx="639.1" cy="1096.3" r="4.5"/><circle cx="645.9" cy="1020.4" r="4.5"/><circle cx="633.4" cy="1051.6" r="4.5"/><circle cx="588.3" cy="982.2" r="4.5"/><circle cx="607.7" cy="926.8" r="4.5"/><circle cx="640.9" cy="1086.5" r="4.5"/><circle cx="632.7" cy="921.1" r="4.5"/><circle cx="584.0" cy="1041.9" r="4.5"/><circle cx="581.4" cy="882.3" r="4.5"/><circle cx="593.3" cy="785.9" r="4.5"/><circle cx="607.2" cy="957.1" r="4.5"/><circle cx="620.7" cy="790.7" r="4.5"/><circle cx="591.5" cy="848.8" r="4.5"/><circle cx="573.9" cy="1064.2" r="4.5"/><circle cx="646.7" cy="1010.2" r="4.5"/><circle cx="574.8" cy="969.8" r="4.5"/><circle cx="625.5" cy="1046.2" r="4.5"/><circle cx="590.6" cy="1078.5" r="4.5"/><circle cx="637.1" cy="999.2" r="4.5"/><circle cx="586.5" cy="1008.3" r="4.5"/><circle cx="588.3" cy="1026.2" r="4.5"/><circle cx="640.7" cy="909.1" r="4.5"/><circle cx="624.6" cy="871.2" r="4.5"/><circle cx="641.6" cy="1075.4" r="4.5"/><circle cx="596.9" cy="820.7" r="4.5"/><circle cx="575.8" cy="1013.6" r="4.5"/><circle cx="608.9" cy="1037.8" r="4.5"/><circle cx="616.0" cy="1015.8" r="4.5"/><circle cx="577.6" cy="839.7" r="4.5"/><circle cx="629.3" cy="1083.4" r="4.5"/><circle cx="623.1" cy="1131.5" r="4.5"/><circle cx="608.6" cy="1122.3" r="4.5"/><circle cx="586.2" cy="1100.9" r="4.5"/><circle cx="612.6" cy="1099.3" r="4.5"/><circle cx="634.1" cy="1135.1" r="4.5"/><circle cx="622.6" cy="1031.2" r="4.5"/><circle cx="600.9" cy="1144.0" r="4.5"/><circle cx="612.1" cy="948.7" r="4.5"/><circle cx="624.8" cy="826.0" r="4.5"/><circle cx="633.3" cy="1067.9" r="4.5"/><circle cx="597.8" cy="1041.0" r="4.5"/><circle cx="600.9" cy="1083.2" r="4.5"/><circle cx="633.7" cy="1028.9" r="4.5"/><circle cx="627.9" cy="824.9" r="4.5"/><circle cx="629.9" cy="1132.5" r="4.5"/><circle cx="579.6" cy="955.0" r="4.5"/><circle cx="637.0" cy="1093.4" r="4.5"/><circle cx="575.4" cy="1078.3" r="4.5"/><circle cx="591.1" cy="1000.2" r="4.5"/><circle cx="639.8" cy="1119.1" r="4.5"/><circle cx="628.3" cy="833.5" r="4.5"/><circle cx="614.4" cy="1023.7" r="4.5"/><circle cx="642.4" cy="789.4" r="4.5"/><circle cx="576.4" cy="980.0" r="4.5"/><circle cx="603.9" cy="1014.0" r="4.5"/><circle cx="589.8" cy="1003.6" r="4.5"/><circle cx="606.2" cy="828.5" r="4.5"/><circle cx="599.3" cy="1017.1" r="4.5"/><circle cx="594.3" cy="1047.2" r="4.5"/><circle cx="593.2" cy="1141.5" r="4.5"/><circle cx="606.6" cy="1103.0" r="4.5"/><circle cx="630.7" cy="872.1" r="4.5"/><circle cx="585.5" cy="849.7" r="4.5"/><circle cx="643.3" cy="972.2" r="4.5"/><circle cx="602.4" cy="1090.0" r="4.5"/><circle cx="594.4" cy="965.5" r="4.5"/><circle cx="637.7" cy="1034.7" r="4.5"/><circle cx="622.8" cy="1110.8" r="4.5"/><circle cx="619.1" cy="973.7" r="4.5"/><circle cx="640.2" cy="808.5" r="4.5"/><circle cx="594.5" cy="1005.2" r="4.5"/><circle cx="621.4" cy="871.0" r="4.5"/><circle cx="610.8" cy="1021.7" r="4.5"/><circle cx="611.1" cy="1116.7" r="4.5"/><circle cx="577.6" cy="1073.6" r="4.5"/><circle cx="603.3" cy="1140.1" r="4.5"/><circle cx="619.2" cy="1048.4" r="4.5"/><circle cx="645.7" cy="1073.2" r="4.5"/><circle cx="626.4" cy="875.8" r="4.5"/><circle cx="632.2" cy="1032.1" r="4.5"/><circle cx="614.3" cy="941.7" r="4.5"/><circle cx="604.8" cy="936.2" r="4.5"/><circle cx="588.6" cy="983.8" r="4.5"/><circle cx="594.0" cy="791.9" r="4.5"/><circle cx="586.1" cy="1125.4" r="4.5"/><circle cx="636.5" cy="969.0" r="4.5"/><circle cx="572.6" cy="1061.3" r="4.5"/><circle cx="627.8" cy="1077.8" r="4.5"/><circle cx="621.0" cy="1070.8" r="4.5"/><circle cx="630.7" cy="776.8" r="4.5"/><circle cx="638.4" cy="938.0" r="4.5"/><circle cx="620.7" cy="944.2" r="4.5"/><circle cx="615.3" cy="1115.5" r="4.5"/><circle cx="578.4" cy="836.0" r="4.5"/><circle cx="600.9" cy="1113.6" r="4.5"/><circle cx="616.6" cy="896.8" r="4.5"/><circle cx="643.0" cy="1107.4" r="4.5"/><circle cx="612.8" cy="1050.2" r="4.5"/><circle cx="629.8" cy="1009.3" r="4.5"/><circle cx="617.7" cy="1101.3" r="4.5"/><circle cx="633.5" cy="1090.2" r="4.5"/><circle cx="605.8" cy="998.1" r="4.5"/><circle cx="587.1" cy="1121.8" r="4.5"/><circle cx="574.5" cy="919.0" r="4.5"/><circle cx="597.4" cy="902.0" r="4.5"/><circle cx="626.6" cy="1066.1" r="4.5"/><circle cx="639.3" cy="809.9" r="4.5"/><circle cx="626.6" cy="1091.2" r="4.5"/><circle cx="580.5" cy="967.5" r="4.5"/><circle cx="627.0" cy="1060.0" r="4.5"/><circle cx="604.5" cy="1036.7" r="4.5"/><circle cx="633.5" cy="1005.9" r="4.5"/><circle cx="604.0" cy="1074.7" r="4.5"/><circle cx="612.0" cy="1114.5" r="4.5"/><circle cx="600.1" cy="1024.7" r="4.5"/><circle cx="587.0" cy="1112.6" r="4.5"/><circle cx="575.9" cy="1028.0" r="4.5"/><circle cx="645.1" cy="1100.6" r="4.5"/><circle cx="630.8" cy="997.4" r="4.5"/><circle cx="637.9" cy="1127.7" r="4.5"/><circle cx="640.5" cy="1096.0" r="4.5"/><circle cx="616.0" cy="1064.5" r="4.5"/><circle cx="613.8" cy="1131.2" r="4.5"/><circle cx="639.0" cy="1112.3" r="4.5"/><circle cx="595.7" cy="1139.5" r="4.5"/><circle cx="621.8" cy="904.8" r="4.5"/><circle cx="616.7" cy="1133.2" r="4.5"/><circle cx="601.3" cy="808.3" r="4.5"/><circle cx="581.5" cy="1118.9" r="4.5"/><circle cx="629.2" cy="983.3" r="4.5"/><circle cx="615.9" cy="1081.6" r="4.5"/><circle cx="580.2" cy="1077.0" r="4.5"/><circle cx="641.9" cy="868.1" r="4.5"/><circle cx="615.4" cy="1092.7" r="4.5"/><circle cx="625.8" cy="885.3" r="4.5"/><circle cx="583.3" cy="1137.1" r="4.5"/><circle cx="632.3" cy="1072.4" r="4.5"/><circle cx="603.4" cy="1001.8" r="4.5"/><circle cx="605.2" cy="1111.3" r="4.5"/><circle cx="628.2" cy="1048.0" r="4.5"/><circle cx="636.9" cy="964.5" r="4.5"/><circle cx="608.0" cy="996.4" r="4.5"/><circle cx="604.5" cy="788.3" r="4.5"/><circle cx="641.3" cy="935.7" r="4.5"/><circle cx="629.4" cy="930.9" r="4.5"/><circle cx="608.6" cy="1006.3" r="4.5"/><circle cx="599.7" cy="1058.5" r="4.5"/><circle cx="627.5" cy="1053.9" r="4.5"/><circle cx="613.0" cy="1076.6" r="4.5"/><circle cx="582.7" cy="897.5" r="4.5"/><circle cx="645.5" cy="818.9" r="4.5"/><circle cx="598.2" cy="1034.1" r="4.5"/><circle cx="629.4" cy="953.7" r="4.5"/><circle cx="633.4" cy="1082.7" r="4.5"/><circle cx="601.8" cy="1055.0" r="4.5"/><circle cx="575.5" cy="980.4" r="4.5"/><circle cx="646.0" cy="1043.0" r="4.5"/><circle cx="610.8" cy="1139.2" r="4.5"/><circle cx="626.6" cy="891.5" r="4.5"/><circle cx="593.8" cy="865.4" r="4.5"/><circle cx="581.5" cy="1064.8" r="4.5"/><circle cx="638.6" cy="794.4" r="4.5"/><circle cx="579.0" cy="989.5" r="4.5"/><circle cx="633.6" cy="1052.4" r="4.5"/><circle cx="626.2" cy="945.0" r="4.5"/><circle cx="591.7" cy="1143.0" r="4.5"/><circle cx="579.7" cy="954.6" r="4.5"/><circle cx="587.4" cy="1115.7" r="4.5"/><circle cx="644.4" cy="1036.2" r="4.5"/><circle cx="572.3" cy="943.4" r="4.5"/><circle cx="606.6" cy="822.1" r="4.5"/><circle cx="603.0" cy="1047.1" r="4.5"/><circle cx="581.9" cy="908.6" r="4.5"/><circle cx="644.0" cy="1053.0" r="4.5"/><circle cx="579.9" cy="1127.3" r="4.5"/><circle cx="646.1" cy="1126.6" r="4.5"/><circle cx="597.4" cy="1112.1" r="4.5"/><circle cx="622.0" cy="1104.9" r="4.5"/><circle cx="629.5" cy="1012.9" r="4.5"/><circle cx="609.4" cy="1104.3" r="4.5"/><circle cx="612.1" cy="1106.4" r="4.5"/><circle cx="599.8" cy="1031.9" r="4.5"/><circle cx="586.4" cy="933.6" r="4.5"/><circle cx="581.8" cy="1093.0" r="4.5"/><circle cx="579.4" cy="862.8" r="4.5"/><circle cx="608.2" cy="1032.5" r="4.5"/><circle cx="573.6" cy="992.4" r="4.5"/><circle cx="575.3" cy="1035.8" r="4.5"/><circle cx="630.6" cy="1043.9" r="4.5"/><circle cx="637.1" cy="1045.1" r="4.5"/><circle cx="597.9" cy="841.8" r="4.5"/><circle cx="591.9" cy="1015.0" r="4.5"/><circle cx="613.4" cy="1022.6" r="4.5"/><circle cx="600.3" cy="988.3" r="4.5"/><circle cx="622.7" cy="912.8" r="4.5"/><circle cx="590.6" cy="1007.0" r="4.5"/><circle cx="591.1" cy="1009.4" r="4.5"/><circle cx="619.1" cy="1015.2" r="4.5"/><circle cx="624.9" cy="1004.7" r="4.5"/><circle cx="586.8" cy="985.9" r="4.5"/><circle cx="592.4" cy="947.7" r="4.5"/><circle cx="603.3" cy="1142.3" r="4.5"/><circle cx="579.6" cy="787.5" r="4.5"/><circle cx="643.6" cy="1113.0" r="4.5"/><circle cx="628.7" cy="970.3" r="4.5"/><circle cx="597.9" cy="1107.8" r="4.5"/><circle cx="612.6" cy="844.5" r="4.5"/><circle cx="604.0" cy="943.0" r="4.5"/><circle cx="620.6" cy="974.5" r="4.5"/><circle cx="598.5" cy="977.5" r="4.5"/><circle cx="590.7" cy="980.7" r="4.5"/><circle cx="579.5" cy="1122.1" r="4.5"/><circle cx="614.3" cy="916.6" r="4.5"/><circle cx="643.2" cy="883.1" r="4.5"/><circle cx="595.2" cy="1059.1" r="4.5"/><circle cx="601.3" cy="1113.9" r="4.5"/><circle cx="605.5" cy="1101.9" r="4.5"/><circle cx="623.1" cy="934.8" r="4.5"/><circle cx="577.6" cy="964.2" r="4.5"/><circle cx="581.2" cy="1046.5" r="4.5"/><circle cx="589.9" cy="1109.2" r="4.5"/><circle cx="631.7" cy="1022.0" r="4.5"/><circle cx="608.1" cy="993.4" r="4.5"/><circle cx="599.6" cy="1107.1" r="4.5"/><circle cx="586.8" cy="999.0" r="4.5"/><circle cx="633.1" cy="940.4" r="4.5"/><circle cx="606.0" cy="812.3" r="4.5"/><circle cx="581.2" cy="1019.2" r="4.5"/><circle cx="579.5" cy="958.1" r="4.5"/><circle cx="647.2" cy="782.0" r="4.5"/><circle cx="614.3" cy="1066.0" r="4.5"/><circle cx="644.8" cy="1053.8" r="4.5"/><circle cx="645.6" cy="1002.3" r="4.5"/><circle cx="578.5" cy="1116.3" r="4.5"/><circle cx="590.5" cy="1123.4" r="4.5"/><circle cx="604.5" cy="917.3" r="4.5"/><circle cx="591.9" cy="1094.3" r="4.5"/><circle cx="589.8" cy="965.2" r="4.5"/><circle cx="583.1" cy="1130.0" r="4.5"/><circle cx="587.1" cy="1089.1" r="4.5"/><circle cx="598.7" cy="1080.7" r="4.5"/><circle cx="596.7" cy="1126.8" r="4.5"/><circle cx="595.8" cy="1028.4" r="4.5"/><circle cx="592.9" cy="869.1" r="4.5"/><circle cx="637.4" cy="1032.9" r="4.5"/><circle cx="639.4" cy="861.1" r="4.5"/><circle cx="595.7" cy="1137.6" r="4.5"/><circle cx="633.6" cy="829.5" r="4.5"/><circle cx="587.7" cy="1061.1" r="4.5"/><circle cx="595.2" cy="1130.9" r="4.5"/><circle cx="588.8" cy="1129.2" r="4.5"/><circle cx="602.7" cy="992.2" r="4.5"/><circle cx="613.0" cy="1042.8" r="4.5"/><circle cx="642.8" cy="971.3" r="4.5"/><circle cx="634.2" cy="949.5" r="4.5"/><circle cx="586.0" cy="1138.4" r="4.5"/><circle cx="625.4" cy="1095.4" r="4.5"/><circle cx="608.9" cy="856.8" r="4.5"/><circle cx="592.1" cy="1074.6" r="4.5"/><circle cx="614.7" cy="1012.6" r="4.5"/><circle cx="622.0" cy="956.7" r="4.5"/><circle cx="609.2" cy="1118.3" r="4.5"/><circle cx="645.7" cy="1093.6" r="4.5"/><circle cx="623.5" cy="1018.8" r="4.5"/><circle cx="619.8" cy="864.7" r="4.5"/><circle cx="619.8" cy="940.9" r="4.5"/><circle cx="578.0" cy="979.2" r="4.5"/><circle cx="580.6" cy="847.7" r="4.5"/><circle cx="613.6" cy="918.4" r="4.5"/><circle cx="616.0" cy="935.5" r="4.5"/><circle cx="573.5" cy="884.0" r="4.5"/><circle cx="585.8" cy="950.3" r="4.5"/><circle cx="646.9" cy="962.6" r="4.5"/><circle cx="645.5" cy="791.0" r="4.5"/><circle cx="618.7" cy="971.0" r="4.5"/><circle cx="589.3" cy="1028.8" r="4.5"/><circle cx="620.7" cy="775.8" r="4.5"/><circle cx="630.9" cy="975.5" r="4.5"/><circle cx="606.6" cy="839.0" r="4.5"/><circle cx="646.0" cy="873.7" r="4.5"/><circle cx="588.9" cy="977.0" r="4.5"/><circle cx="584.6" cy="1086.3" r="4.5"/><circle cx="606.0" cy="1054.1" r="4.5"/><circle cx="579.4" cy="1102.6" r="4.5"/><circle cx="613.0" cy="1012.3" r="4.5"/><circle cx="572.6" cy="975.8" r="4.5"/><circle cx="576.1" cy="924.5" r="4.5"/><circle cx="592.8" cy="1029.5" r="4.5"/><circle cx="581.2" cy="1062.4" r="4.5"/><circle cx="585.0" cy="886.9" r="4.5"/><circle cx="607.0" cy="852.9" r="4.5"/><circle cx="626.8" cy="1141.2" r="4.5"/><circle cx="610.7" cy="1119.4" r="4.5"/><circle cx="628.1" cy="1050.8" r="4.5"/><circle cx="604.1" cy="999.7" r="4.5"/><circle cx="609.1" cy="986.3" r="4.5"/><circle cx="599.6" cy="1138.2" r="4.5"/><circle cx="581.0" cy="1071.9" r="4.5"/><circle cx="597.4" cy="1117.6" r="4.5"/><circle cx="619.6" cy="1070.2" r="4.5"/><circle cx="606.2" cy="1116.5" r="4.5"/><circle cx="579.8" cy="842.3" r="4.5"/><circle cx="582.1" cy="990.0" r="4.5"/><circle cx="616.5" cy="974.7" r="4.5"/><circle cx="593.6" cy="1110.7" r="4.5"/><circle cx="629.0" cy="1063.7" r="4.5"/><circle cx="622.6" cy="1132.0" r="4.5"/><circle cx="612.4" cy="1039.8" r="4.5"/><circle cx="610.5" cy="969.2" r="4.5"/><circle cx="603.3" cy="1017.8" r="4.5"/><circle cx="604.1" cy="931.2" r="4.5"/><circle cx="633.1" cy="984.0" r="4.5"/><circle cx="595.9" cy="1025.6" r="4.5"/><circle cx="583.1" cy="1061.7" r="4.5"/><circle cx="573.6" cy="1001.0" r="4.5"/><circle cx="578.3" cy="962.9" r="4.5"/><circle cx="590.0" cy="1103.8" r="4.5"/><circle cx="581.5" cy="1019.7" r="4.5"/><circle cx="586.1" cy="893.9" r="4.5"/><circle cx="588.0" cy="1126.3" r="4.5"/><circle cx="613.5" cy="1015.5" r="4.5"/><circle cx="611.1" cy="1145.9" r="4.5"/><circle cx="592.8" cy="1115.2" r="4.5"/><circle cx="598.2" cy="963.8" r="4.5"/><circle cx="591.0" cy="919.9" r="4.5"/><circle cx="576.0" cy="909.2" r="4.5"/><circle cx="590.9" cy="1111.8" r="4.5"/><circle cx="594.0" cy="1096.8" r="4.5"/><circle cx="617.6" cy="894.3" r="4.5"/><circle cx="625.6" cy="838.6" r="4.5"/><circle cx="599.2" cy="1042.2" r="4.5"/><circle cx="639.0" cy="1120.6" r="4.5"/><circle cx="599.2" cy="1077.6" r="4.5"/><circle cx="611.0" cy="1058.9" r="4.5"/><circle cx="590.0" cy="1024.8" r="4.5"/><circle cx="582.3" cy="1034.4" r="4.5"/><circle cx="647.0" cy="1043.4" r="4.5"/><circle cx="638.1" cy="910.7" r="4.5"/><circle cx="621.8" cy="938.7" r="4.5"/><circle cx="625.5" cy="876.4" r="4.5"/><circle cx="581.1" cy="1103.8" r="4.5"/><circle cx="574.2" cy="937.3" r="4.5"/><circle cx="606.3" cy="1091.8" r="4.5"/><circle cx="612.8" cy="850.4" r="4.5"/><circle cx="594.6" cy="830.9" r="4.5"/><circle cx="619.7" cy="1051.5" r="4.5"/><circle cx="583.7" cy="941.0" r="4.5"/><circle cx="645.1" cy="1136.9" r="4.5"/><circle cx="580.1" cy="1133.7" r="4.5"/><circle cx="608.5" cy="990.3" r="4.5"/><circle cx="590.6" cy="1060.9" r="4.5"/><circle cx="583.1" cy="1106.9" r="4.5"/><circle cx="572.3" cy="1132.7" r="4.5"/><circle cx="592.7" cy="1002.6" r="4.5"/><circle cx="636.5" cy="811.6" r="4.5"/><circle cx="604.5" cy="1080.2" r="4.5"/><circle cx="636.5" cy="845.5" r="4.5"/><circle cx="575.3" cy="1146.3" r="4.5"/><circle cx="586.1" cy="999.4" r="4.5"/><circle cx="626.5" cy="1144.2" r="4.5"/><circle cx="593.9" cy="1091.1" r="4.5"/><circle cx="637.9" cy="956.8" r="4.5"/><circle cx="607.3" cy="1014.6" r="4.5"/><circle cx="630.3" cy="1038.8" r="4.5"/><circle cx="610.3" cy="1090.7" r="4.5"/><circle cx="622.4" cy="1086.8" r="4.5"/><circle cx="603.7" cy="1121.3" r="4.5"/><circle cx="578.7" cy="1087.2" r="4.5"/><circle cx="626.4" cy="1142.9" r="4.5"/><circle cx="627.3" cy="1130.4" r="4.5"/><circle cx="590.0" cy="801.8" r="4.5"/><circle cx="583.3" cy="1045.8" r="4.5"/><circle cx="642.7" cy="797.9" r="4.5"/><circle cx="646.0" cy="1117.1" r="4.5"/><circle cx="607.5" cy="942.2" r="4.5"/><circle cx="635.9" cy="1114.8" r="4.5"/><circle cx="577.5" cy="958.6" r="4.5"/><circle cx="636.7" cy="1138.9" r="4.5"/><circle cx="631.9" cy="1124.8" r="4.5"/><circle cx="635.5" cy="976.5" r="4.5"/><circle cx="638.8" cy="1140.7" r="4.5"/><circle cx="590.7" cy="958.9" r="4.5"/><circle cx="637.2" cy="1110.1" r="4.5"/><circle cx="594.4" cy="1030.5" r="4.5"/><circle cx="638.4" cy="890.8" r="4.5"/><circle cx="617.2" cy="1106.2" r="4.5"/><circle cx="604.0" cy="961.7" r="4.5"/><circle cx="580.8" cy="786.3" r="4.5"/><circle cx="614.9" cy="1044.4" r="4.5"/><circle cx="617.8" cy="1056.4" r="4.5"/><circle cx="586.5" cy="976.2" r="4.5"/><circle cx="580.8" cy="837.3" r="4.5"/><circle cx="646.7" cy="1040.4" r="4.5"/><circle cx="629.3" cy="1045.4" r="4.5"/><circle cx="587.3" cy="851.6" r="4.5"/><circle cx="614.5" cy="942.7" r="4.5"/><circle cx="600.8" cy="1124.4" r="4.5"/><circle cx="585.5" cy="814.3" r="4.5"/><circle cx="596.4" cy="1120.4" r="4.5"/><circle cx="613.9" cy="1123.6" r="4.5"/><circle cx="574.6" cy="1009.1" r="4.5"/><circle cx="641.2" cy="966.5" r="4.5"/><circle cx="593.4" cy="1070.6" r="4.5"/><circle cx="626.5" cy="1135.2" r="4.5"/><circle cx="612.9" cy="852.2" r="4.5"/><circle cx="592.3" cy="1134.7" r="4.5"/><circle cx="604.2" cy="1026.9" r="4.5"/><circle cx="625.5" cy="1101.3" r="4.5"/><circle cx="573.2" cy="1071.1" r="4.5"/><circle cx="608.4" cy="1064.0" r="4.5"/><circle cx="623.1" cy="947.2" r="4.5"/><circle cx="608.7" cy="1071.4" r="4.5"/><circle cx="623.5" cy="1014.2" r="4.5"/><circle cx="644.5" cy="1108.4" r="4.5"/><circle cx="631.5" cy="1139.8" r="4.5"/><circle cx="619.1" cy="1114.1" r="4.5"/><circle cx="583.4" cy="1119.9" r="4.5"/><circle cx="644.6" cy="1116.2" r="4.5"/><circle cx="603.0" cy="1090.4" r="4.5"/><circle cx="645.8" cy="1023.0" r="4.5"/><circle cx="642.3" cy="1027.4" r="4.5"/><circle cx="631.7" cy="1092.5" r="4.5"/><circle cx="596.5" cy="1034.1" r="4.5"/><circle cx="622.8" cy="991.6" r="4.5"/><circle cx="621.1" cy="926.4" r="4.5"/><circle cx="580.5" cy="931.7" r="4.5"/><circle cx="588.0" cy="850.6" r="4.5"/><circle cx="595.8" cy="982.8" r="4.5"/><circle cx="633.7" cy="1091.9" r="4.5"/><circle cx="605.7" cy="989.8" r="4.5"/><circle cx="636.3" cy="994.6" r="4.5"/><circle cx="621.4" cy="1071.6" r="4.5"/><circle cx="575.7" cy="1029.3" r="4.5"/><circle cx="611.4" cy="960.7" r="4.5"/><circle cx="591.5" cy="865.6" r="4.5"/><circle cx="613.5" cy="1115.3" r="4.5"/><circle cx="630.0" cy="953.2" r="4.5"/><circle cx="639.7" cy="817.8" r="4.5"/><circle cx="646.9" cy="893.1" r="4.5"/><circle cx="606.7" cy="906.8" r="4.5"/><circle cx="613.4" cy="1048.6" r="4.5"/><circle cx="586.7" cy="1026.5" r="4.5"/><circle cx="597.1" cy="1091.5" r="4.5"/><circle cx="619.7" cy="1085.3" r="4.5"/><circle cx="574.7" cy="1039.5" r="4.5"/><circle cx="609.8" cy="1056.1" r="4.5"/><circle cx="601.1" cy="1020.3" r="4.5"/><circle cx="639.7" cy="1148.6" r="4.5"/><circle cx="594.6" cy="929.4" r="4.5"/><circle cx="625.4" cy="1025.7" r="4.5"/><circle cx="619.0" cy="978.7" r="4.5"/><circle cx="634.1" cy="1066.6" r="4.5"/><circle cx="611.2" cy="879.3" r="4.5"/><circle cx="640.4" cy="1095.0" r="4.5"/><circle cx="623.6" cy="1086.0" r="4.5"/><circle cx="647.3" cy="803.4" r="4.5"/><circle cx="578.6" cy="1081.9" r="4.5"/><circle cx="591.5" cy="1005.7" r="4.5"/><circle cx="627.6" cy="960.4" r="4.5"/><circle cx="604.6" cy="967.2" r="4.5"/><circle cx="599.4" cy="1007.1" r="4.5"/><circle cx="596.7" cy="995.6" r="4.5"/><circle cx="644.6" cy="780.7" r="4.5"/><circle cx="600.8" cy="873.0" r="4.5"/><circle cx="596.4" cy="1082.9" r="4.5"/><circle cx="578.4" cy="1127.6" r="4.5"/><circle cx="596.3" cy="1097.4" r="4.5"/><circle cx="573.9" cy="1138.0" r="4.5"/><circle cx="593.8" cy="967.6" r="4.5"/><circle cx="611.3" cy="1125.2" r="4.5"/><circle cx="641.7" cy="1013.1" r="4.5"/><circle cx="619.3" cy="1017.4" r="4.5"/><circle cx="612.0" cy="853.9" r="4.5"/><circle cx="601.6" cy="878.3" r="4.5"/><circle cx="596.4" cy="1065.3" r="4.5"/><circle cx="644.7" cy="1067.5" r="4.5"/><circle cx="635.8" cy="880.6" r="4.5"/><circle cx="617.2" cy="1058.3" r="4.5"/><circle cx="641.8" cy="985.6" r="4.5"/><circle cx="632.3" cy="1018.3" r="4.5"/><circle cx="635.6" cy="1127.0" r="4.5"/><circle cx="614.1" cy="1040.1" r="4.5"/><circle cx="577.1" cy="913.4" r="4.5"/><circle cx="637.5" cy="778.3" r="4.5"/><circle cx="588.1" cy="1134.4" r="4.5"/><circle cx="608.8" cy="911.6" r="4.5"/><circle cx="600.8" cy="1085.6" r="4.5"/><circle cx="639.2" cy="1088.2" r="4.5"/><circle cx="631.0" cy="900.8" r="4.5"/><circle cx="598.2" cy="1108.5" r="4.5"/><circle cx="633.1" cy="861.8" r="4.5"/><circle cx="631.0" cy="1117.2" r="4.5"/><circle cx="575.9" cy="938.4" r="4.5"/><circle cx="639.1" cy="890.3" r="4.5"/><circle cx="584.7" cy="985.0" r="4.5"/><circle cx="581.6" cy="856.3" r="4.5"/><circle cx="579.8" cy="1016.7" r="4.5"/><circle cx="625.4" cy="992.1" r="4.5"/><circle cx="639.9" cy="967.9" r="4.5"/><circle cx="613.7" cy="1123.9" r="4.5"/><circle cx="576.8" cy="815.2" r="4.5"/><circle cx="646.7" cy="1131.7" r="4.5"/><circle cx="593.9" cy="1007.5" r="4.5"/><circle cx="608.9" cy="819.3" r="4.5"/><circle cx="598.9" cy="783.7" r="4.5"/><circle cx="615.0" cy="1020.0" r="4.5"/><circle cx="572.7" cy="866.7" r="4.5"/><circle cx="633.6" cy="855.7" r="4.5"/><circle cx="609.6" cy="1104.6" r="4.5"/><circle cx="646.9" cy="917.4" r="4.5"/><circle cx="578.1" cy="1097.2" r="4.5"/><circle cx="620.3" cy="905.9" r="4.5"/><circle cx="644.1" cy="1021.3" r="4.5"/><circle cx="584.6" cy="990.8" r="4.5"/><circle cx="583.7" cy="1136.6" r="4.5"/><circle cx="632.6" cy="965.9" r="4.5"/><circle cx="632.5" cy="970.6" r="4.5"/><circle cx="630.4" cy="1136.0" r="4.5"/><circle cx="597.2" cy="1039.3" r="4.5"/><circle cx="608.1" cy="1145.0" r="4.5"/><circle cx="588.4" cy="972.0" r="4.5"/><circle cx="612.8" cy="1067.5" r="4.5"/><circle cx="622.5" cy="945.6" r="4.5"/><circle cx="629.2" cy="955.3" r="4.5"/><circle cx="618.1" cy="956.1" r="4.5"/><circle cx="623.4" cy="1120.8" r="4.5"/><circle cx="599.9" cy="1030.2" r="4.5"/><circle cx="634.0" cy="1060.4" r="4.5"/><circle cx="625.4" cy="874.5" r="4.5"/><circle cx="609.2" cy="959.2" r="4.5"/><circle cx="639.7" cy="1006.7" r="4.5"/><circle cx="592.8" cy="1062.7" r="4.5"/><circle cx="644.4" cy="915.1" r="4.5"/><circle cx="598.7" cy="1051.1" r="4.5"/><circle cx="623.8" cy="1135.8" r="4.5"/><circle cx="629.0" cy="813.2" r="4.5"/><circle cx="602.3" cy="823.7" r="4.5"/><circle cx="604.7" cy="1103.3" r="4.5"/><circle cx="577.8" cy="834.4" r="4.5"/><circle cx="573.9" cy="1049.6" r="4.5"/><circle cx="600.5" cy="966.8" r="4.5"/><circle cx="631.0" cy="959.9" r="4.5"/><circle cx="622.5" cy="877.4" r="4.5"/><circle cx="644.5" cy="1144.5" r="4.5"/><circle cx="600.1" cy="1031.0" r="4.5"/><circle cx="619.6" cy="1130.3" r="4.5"/><circle cx="594.4" cy="884.8" r="4.5"/><circle cx="593.6" cy="957.6" r="4.5"/><circle cx="585.9" cy="1128.7" r="4.5"/><circle cx="591.0" cy="1022.2" r="4.5"/><circle cx="578.0" cy="978.2" r="4.5"/><circle cx="627.9" cy="992.9" r="4.5"/><circle cx="573.9" cy="807.3" r="4.5"/><circle cx="573.8" cy="944.7" r="4.5"/><circle cx="639.8" cy="1072.8" r="4.5"/><circle cx="629.2" cy="996.0" r="4.5"/><circle cx="642.4" cy="984.7" r="4.5"/><circle cx="636.8" cy="968.4" r="4.5"/><circle cx="573.3" cy="939.9" r="4.5"/><circle cx="631.3" cy="994.4" r="4.5"/><circle cx="627.9" cy="889.5" r="4.5"/><circle cx="573.2" cy="899.1" r="4.5"/><circle cx="634.8" cy="899.4" r="4.5"/><circle cx="602.8" cy="923.7" r="4.5"/><circle cx="590.7" cy="822.7" r="4.5"/><circle cx="589.1" cy="1087.1" r="4.5"/><circle cx="589.4" cy="964.2" r="4.5"/><circle cx="580.4" cy="1069.6" r="4.5"/><circle cx="595.8" cy="1097.6" r="4.5"/><circle cx="629.5" cy="942.1" r="4.5"/><circle cx="631.8" cy="1048.2" r="4.5"/><circle cx="583.1" cy="1035.9" r="4.5"/><circle cx="578.6" cy="773.3" r="4.5"/><circle cx="642.9" cy="1035.3" r="4.5"/><circle cx="624.2" cy="920.5" r="4.5"/><circle cx="633.9" cy="1085.3" r="4.5"/><circle cx="573.0" cy="1089.4" r="4.5"/><circle cx="594.1" cy="1001.2" r="4.5"/><circle cx="618.4" cy="898.3" r="4.5"/><circle cx="646.9" cy="1140.9" r="4.5"/><circle cx="576.2" cy="977.1" r="4.5"/><circle cx="584.6" cy="951.5" r="4.5"/><circle cx="645.2" cy="928.9" r="4.5"/><circle cx="613.1" cy="1121.2" r="4.5"/><circle cx="593.0" cy="1126.1" r="4.5"/><circle cx="586.8" cy="1099.7" r="4.5"/><circle cx="581.3" cy="1102.3" r="4.5"/><circle cx="645.2" cy="994.1" r="4.5"/><circle cx="632.0" cy="981.0" r="4.5"/><circle cx="623.8" cy="1102.1" r="4.5"/><circle cx="624.8" cy="1057.5" r="4.5"/><circle cx="590.9" cy="1132.3" r="4.5"/><circle cx="644.8" cy="941.4" r="4.5"/><circle cx="620.0" cy="956.2" r="4.5"/><circle cx="590.0" cy="982.6" r="4.5"/><circle cx="629.6" cy="998.6" r="4.5"/><circle cx="621.7" cy="962.3" r="4.5"/><circle cx="601.7" cy="843.3" r="4.5"/><circle cx="587.6" cy="1094.4" r="4.5"/><circle cx="593.3" cy="1038.7" r="4.5"/><circle cx="626.2" cy="1138.8" r="4.5"/><circle cx="629.0" cy="939.5" r="4.5"/><circle cx="585.7" cy="950.9" r="4.5"/><circle cx="579.5" cy="934.4" r="4.5"/><circle cx="578.1" cy="932.6" r="4.5"/><circle cx="576.7" cy="1068.2" r="4.5"/><circle cx="645.5" cy="936.3" r="4.5"/><circle cx="583.5" cy="832.4" r="4.5"/><circle cx="629.2" cy="1129.8" r="4.5"/><circle cx="633.6" cy="1085.0" r="4.5"/><circle cx="586.9" cy="953.5" r="4.5"/><circle cx="592.5" cy="951.3" r="4.5"/><circle cx="607.6" cy="1063.2" r="4.5"/><circle cx="633.3" cy="1109.6" r="4.5"/><circle cx="646.9" cy="907.6" r="4.5"/><circle cx="616.2" cy="995.3" r="4.5"/><circle cx="640.5" cy="1118.6" r="4.5"/><circle cx="610.1" cy="1105.5" r="4.5"/><circle cx="631.4" cy="1024.0" r="4.5"/><circle cx="585.4" cy="946.3" r="4.5"/><circle cx="594.0" cy="1073.4" r="4.5"/><circle cx="605.6" cy="986.7" r="4.5"/><circle cx="631.7" cy="973.6" r="4.5"/><circle cx="591.0" cy="1117.9" r="4.5"/><circle cx="635.9" cy="846.6" r="4.5"/><circle cx="596.6" cy="1130.8" r="4.5"/><circle cx="596.1" cy="1065.2" r="4.5"/><circle cx="629.1" cy="777.3" r="4.5"/><circle cx="641.1" cy="1105.8" r="4.5"/><circle cx="573.2" cy="1145.6" r="4.5"/><circle cx="632.5" cy="968.5" r="4.5"/><circle cx="645.5" cy="946.8" r="4.5"/><circle cx="646.2" cy="1137.5" r="4.5"/><circle cx="630.0" cy="1077.2" r="4.5"/><circle cx="596.4" cy="1030.7" r="4.5"/><circle cx="573.9" cy="1112.8" r="4.5"/><circle cx="639.4" cy="1069.1" r="4.5"/><circle cx="572.9" cy="1058.1" r="4.5"/><circle cx="579.6" cy="912.2" r="4.5"/><circle cx="627.7" cy="796.4" r="4.5"/><circle cx="591.4" cy="863.6" r="4.5"/><circle cx="594.5" cy="1136.5" r="4.5"/><circle cx="589.2" cy="1113.4" r="4.5"/><circle cx="622.7" cy="947.9" r="4.5"/><circle cx="639.5" cy="923.3" r="4.5"/><circle cx="647.0" cy="1109.3" r="4.5"/><circle cx="633.2" cy="1072.2" r="4.5"/><circle cx="643.4" cy="1084.5" r="4.5"/><circle cx="597.9" cy="993.3" r="4.5"/><circle cx="634.8" cy="978.9" r="4.5"/><circle cx="620.6" cy="936.8" r="4.5"/><circle cx="572.3" cy="988.9" r="4.5"/><circle cx="615.4" cy="940.6" r="4.5"/><circle cx="646.7" cy="943.8" r="4.5"/><circle cx="625.0" cy="1098.4" r="4.5"/><circle cx="610.2" cy="1122.5" r="4.5"/><circle cx="578.6" cy="1074.3" r="4.5"/><circle cx="593.7" cy="1024.4" r="4.5"/><circle cx="623.7" cy="972.6" r="4.5"/><circle cx="634.8" cy="810.0" r="4.5"/><circle cx="585.1" cy="1033.4" r="4.5"/><circle cx="598.2" cy="1124.3" r="4.5"/><circle cx="639.7" cy="963.5" r="4.5"/><circle cx="589.4" cy="1010.7" r="4.5"/><circle cx="610.6" cy="774.6" r="4.5"/><circle cx="613.4" cy="1043.5" r="4.5"/><circle cx="616.4" cy="1129.5" r="4.5"/><circle cx="635.0" cy="1082.2" r="4.5"/><circle cx="584.2" cy="945.7" r="4.5"/><circle cx="575.8" cy="801.0" r="4.5"/><circle cx="636.5" cy="1016.3" r="4.5"/><circle cx="615.1" cy="1000.0" r="4.5"/><circle cx="582.7" cy="905.3" r="4.5"/><circle cx="573.8" cy="1040.8" r="4.5"/><circle cx="643.5" cy="1016.1" r="4.5"/><circle cx="637.0" cy="948.3" r="4.5"/><circle cx="643.3" cy="1106.8" r="4.5"/><circle cx="620.0" cy="959.7" r="4.5"/><circle cx="612.2" cy="1063.3" r="4.5"/><circle cx="607.7" cy="870.3" r="4.5"/><circle cx="625.7" cy="816.0" r="4.5"/><circle cx="574.7" cy="980.1" r="4.5"/><circle cx="595.4" cy="1119.5" r="4.5"/><circle cx="626.5" cy="988.6" r="4.5"/><circle cx="592.1" cy="1067.1" r="4.5"/><circle cx="599.0" cy="960.9" r="4.5"/><circle cx="625.8" cy="1069.3" r="4.5"/><circle cx="584.6" cy="1121.6" r="4.5"/><circle cx="613.7" cy="1035.4" r="4.5"/><circle cx="623.3" cy="970.5" r="4.5"/><circle cx="598.9" cy="1068.7" r="4.5"/><circle cx="624.2" cy="981.7" r="4.5"/><circle cx="627.9" cy="991.1" r="4.5"/><circle cx="642.2" cy="1095.8" r="4.5"/><circle cx="646.9" cy="1098.1" r="4.5"/><circle cx="587.3" cy="1021.1" r="4.5"/><circle cx="592.1" cy="1088.7" r="4.5"/><circle cx="634.1" cy="921.7" r="4.5"/><circle cx="611.2" cy="1002.0" r="4.5"/><circle cx="586.6" cy="799.5" r="4.5"/><circle cx="596.3" cy="1055.3" r="4.5"/><circle cx="632.5" cy="1056.7" r="4.5"/><circle cx="627.8" cy="1016.9" r="4.5"/><circle cx="635.8" cy="996.9" r="4.5"/><circle cx="583.3" cy="927.3" r="4.5"/><circle cx="583.6" cy="1122.8" r="4.5"/><circle cx="630.1" cy="929.8" r="4.5"/><circle cx="580.0" cy="977.6" r="4.5"/><circle cx="594.1" cy="795.0" r="4.5"/><circle cx="624.6" cy="835.8" r="4.5"/><circle cx="590.3" cy="1046.8" r="4.5"/><circle cx="628.8" cy="1022.7" r="4.5"/><circle cx="598.4" cy="1057.8" r="4.5"/><circle cx="630.7" cy="1075.5" r="4.5"/><circle cx="579.5" cy="1074.0" r="4.5"/><circle cx="642.1" cy="978.2" r="4.5"/><circle cx="578.2" cy="881.3" r="4.5"/><circle cx="585.3" cy="961.6" r="4.5"/><circle cx="626.8" cy="1123.9" r="4.5"/><circle cx="619.8" cy="1069.9" r="4.5"/><circle cx="613.9" cy="925.6" r="4.5"/><circle cx="617.8" cy="1052.1" r="4.5"/><circle cx="587.2" cy="1045.6" r="4.5"/><circle cx="580.3" cy="1081.4" r="4.5"/><circle cx="583.9" cy="792.9" r="4.5"/><circle cx="622.7" cy="780.2" r="4.5"/><circle cx="611.2" cy="1037.1" r="4.5"/><circle cx="629.3" cy="1092.1" r="4.5"/><circle cx="585.3" cy="875.3" r="4.5"/><circle cx="588.2" cy="914.9" r="4.5"/><circle cx="645.8" cy="1141.8" r="4.5"/><circle cx="591.6" cy="1003.1" r="4.5"/><circle cx="643.2" cy="1042.3" r="4.5"/><circle cx="638.6" cy="833.4" r="4.5"/><circle cx="641.5" cy="988.0" r="4.5"/><circle cx="584.0" cy="1052.1" r="4.5"/><circle cx="582.3" cy="1080.9" r="4.5"/><circle cx="574.1" cy="1055.9" r="4.5"/><circle cx="583.2" cy="904.1" r="4.5"/><circle cx="610.9" cy="1066.8" r="4.5"/><circle cx="634.7" cy="1029.9" r="4.5"/><circle cx="632.2" cy="1007.8" r="4.5"/><circle cx="572.7" cy="987.4" r="4.5"/><circle cx="602.0" cy="879.9" r="4.5"/><circle cx="609.5" cy="989.4" r="4.5"/><circle cx="633.9" cy="1011.1" r="4.5"/><circle cx="616.1" cy="974.0" r="4.5"/><circle cx="586.9" cy="869.5" r="4.5"/><circle cx="639.3" cy="971.7" r="4.5"/><circle cx="608.2" cy="952.6" r="4.5"/><circle cx="645.8" cy="944.8" r="4.5"/><circle cx="603.3" cy="1020.7" r="4.5"/><circle cx="579.5" cy="950.9" r="4.5"/><circle cx="640.2" cy="918.2" r="4.5"/><circle cx="637.8" cy="1062.1" r="4.5"/><circle cx="624.9" cy="1142.4" r="4.5"/><circle cx="584.7" cy="928.4" r="4.5"/><circle cx="626.5" cy="948.8" r="4.5"/><circle cx="620.4" cy="813.6" r="4.5"/><circle cx="604.5" cy="996.0" r="4.5"/><circle cx="580.9" cy="1134.1" r="4.5"/><circle cx="619.5" cy="1128.5" r="4.5"/><circle cx="590.4" cy="1041.6" r="4.5"/><circle cx="579.4" cy="938.9" r="4.5"/><circle cx="594.3" cy="1003.3" r="4.5"/><circle cx="634.2" cy="954.3" r="4.5"/><circle cx="601.2" cy="1105.7" r="4.5"/><circle cx="576.8" cy="1049.2" r="4.5"/><circle cx="609.5" cy="950.3" r="4.5"/><circle cx="586.8" cy="1101.7" r="4.5"/><circle cx="598.4" cy="1031.7" r="4.5"/><circle cx="576.7" cy="975.1" r="4.5"/><circle cx="610.9" cy="1036.9" r="4.5"/><circle cx="593.0" cy="1139.9" r="4.5"/><circle cx="598.3" cy="1057.2" r="4.5"/><circle cx="589.4" cy="949.1" r="4.5"/><circle cx="644.6" cy="1038.1" r="4.5"/><circle cx="625.4" cy="1065.8" r="4.5"/><circle cx="591.0" cy="1019.1" r="4.5"/><circle cx="579.0" cy="1010.0" r="4.5"/><circle cx="612.9" cy="1060.4" r="4.5"/><circle cx="619.6" cy="1055.6" r="4.5"/><circle cx="592.2" cy="930.5" r="4.5"/><circle cx="628.4" cy="1084.3" r="4.5"/><circle cx="598.5" cy="1075.1" r="4.5"/><circle cx="615.5" cy="1089.8" r="4.5"/><circle cx="580.0" cy="866.9" r="4.5"/><circle cx="616.5" cy="888.1" r="4.5"/><circle cx="644.8" cy="1107.7" r="4.5"/><circle cx="644.3" cy="827.6" r="4.5"/><circle cx="599.6" cy="1095.3" r="4.5"/><circle cx="627.9" cy="1083.9" r="4.5"/><circle cx="622.5" cy="824.0" r="4.5"/><circle cx="610.1" cy="972.8" r="4.5"/><circle cx="582.9" cy="797.2" r="4.5"/><circle cx="623.9" cy="887.3" r="4.5"/><circle cx="645.7" cy="987.2" r="4.5"/><circle cx="630.2" cy="1100.0" r="4.5"/><circle cx="621.7" cy="1037.5" r="4.5"/><circle cx="609.8" cy="1044.2" r="4.5"/><circle cx="637.1" cy="985.4" r="4.5"/><circle cx="580.2" cy="1079.1" r="4.5"/><circle cx="612.3" cy="1135.5" r="4.5"/><circle cx="616.5" cy="962.9" r="4.5"/><circle cx="581.9" cy="1111.7" r="4.5"/><circle cx="633.0" cy="1103.5" r="4.5"/><circle cx="602.6" cy="1099.2" r="4.5"/><circle cx="634.3" cy="1108.2" r="4.5"/><circle cx="645.1" cy="1079.2" r="4.5"/><circle cx="603.0" cy="779.3" r="4.5"/><circle cx="640.3" cy="859.1" r="4.5"/><circle cx="613.1" cy="932.1" r="4.5"/><circle cx="621.7" cy="986.5" r="4.5"/><circle cx="580.1" cy="819.8" r="4.5"/><circle cx="625.0" cy="846.8" r="4.5"/><circle cx="646.3" cy="1005.3" r="4.5"/><circle cx="639.3" cy="927.7" r="4.5"/><circle cx="638.9" cy="933.8" r="4.5"/><circle cx="618.7" cy="997.8" r="4.5"/><circle cx="590.1" cy="1094.7" r="4.5"/><circle cx="605.5" cy="895.1" r="4.5"/><circle cx="626.2" cy="1010.3" r="4.5"/><circle cx="636.8" cy="844.3" r="4.5"/><circle cx="579.3" cy="1109.8" r="4.5"/><circle cx="578.7" cy="1109.0" r="4.5"/><circle cx="632.0" cy="1087.9" r="4.5"/><circle cx="605.1" cy="914.0" r="4.5"/><circle cx="634.9" cy="952.3" r="4.5"/><circle cx="585.2" cy="1011.9" r="4.5"/><circle cx="619.4" cy="998.0" r="4.5"/><circle cx="573.8" cy="828.8" r="4.5"/><circle cx="637.7" cy="1068.5" r="4.5"/><circle cx="633.7" cy="983.6" r="4.5"/><circle cx="592.7" cy="1105.1" r="4.5"/><circle cx="598.5" cy="1143.7" r="4.5"/><circle cx="616.0" cy="997.0" r="4.5"/><circle cx="592.8" cy="935.3" r="4.5"/><circle cx="642.3" cy="1000.6" r="4.5"/><circle cx="637.9" cy="1008.1" r="4.5"/><circle cx="646.9" cy="831.4" r="4.5"/><circle cx="591.3" cy="934.3" r="4.5"/><circle cx="640.6" cy="793.6" r="4.5"/><circle cx="631.1" cy="1027.7" r="4.5"/><circle cx="610.2" cy="924.0" r="4.5"/><circle cx="638.4" cy="937.6" r="4.5"/><circle cx="590.9" cy="981.9" r="4.5"/><circle cx="606.3" cy="803.6" r="4.5"/><circle cx="633.0" cy="1082.3" r="4.5"/><circle cx="643.2" cy="916.0" r="4.5"/><circle cx="636.2" cy="1133.4" r="4.5"/><circle cx="626.6" cy="1004.5" r="4.5"/><circle cx="592.2" cy="1054.4" r="4.5"/><circle cx="580.3" cy="1075.9" r="4.5"/><circle cx="576.1" cy="1023.4" r="4.5"/><circle cx="604.3" cy="987.6" r="4.5"/><circle cx="583.1" cy="961.2" r="4.5"/><circle cx="582.3" cy="785.1" r="4.5"/><circle cx="631.8" cy="775.0" r="4.5"/><circle cx="645.8" cy="800.8" r="4.5"/><circle cx="593.5" cy="981.4" r="4.5"/><circle cx="604.0" cy="1004.2" r="4.5"/><circle cx="605.2" cy="817.2" r="4.5"/><circle cx="616.5" cy="1001.6" r="4.5"/><circle cx="639.0" cy="903.2" r="4.5"/><circle cx="619.5" cy="886.1" r="4.5"/><circle cx="642.8" cy="788.5" r="4.5"/><circle cx="643.5" cy="782.9" r="4.5"/><circle cx="596.8" cy="1134.0" r="4.5"/><circle cx="612.3" cy="1118.2" r="4.5"/><circle cx="643.4" cy="858.4" r="4.5"/><circle cx="580.3" cy="951.9" r="4.5"/><circle cx="620.5" cy="901.1" r="4.5"/><circle cx="575.2" cy="806.5" r="4.5"/><circle cx="575.1" cy="1011.4" r="4.5"/><circle cx="583.2" cy="1133.0" r="4.5"/><circle cx="578.7" cy="1093.3" r="4.5"/><circle cx="611.0" cy="906.7" r="4.5"/></g>
<g class="b"><line x1="159.3" y1="998.3" x2="159.3" y2="886.1" stroke-dasharray="20.6 13.4"/>
<line x1="159.3" y1="788.1" x2="159.3" y2="702.4" stroke-dasharray="20.6 13.4"/>
<line x1="139.3" y1="998.3" x2="179.3" y2="998.3"/>
<line x1="139.3" y1="702.4" x2="179.3" y2="702.4"/>
<rect x="121.9" y="788.1" width="74.8" height="98.0"/>
<line x1="119.5" y1="841.4" x2="199.1" y2="841.4" style="stroke-width:5"/>
<line x1="309.4" y1="1144.2" x2="309.4" y2="1075.4" stroke-dasharray="20.6 13.4"/>
<line x1="309.4" y1="926.7" x2="309.4" y2="728.3" stroke-dasharray="20.6 13.4"/>
<line x1="289.4" y1="1144.2" x2="329.4" y2="1144.2"/>
<line x1="289.4" y1="728.3" x2="329.4" y2="728.3"/>
<rect x="272.0" y="926.7" width="74.8" height="148.7"/>
<line x1="269.6" y1="1012.2" x2="349.2" y2="1012.2" style="stroke-width:5"/>
<line x1="459.3" y1="1075.9" x2="459.3" y2="902.6" stroke-dasharray="20.6 13.4"/>
<line x1="459.3" y1="676.0" x2="459.3" y2="540.7" stroke-dasharray="20.6 13.4"/>
<line x1="439.3" y1="1075.9" x2="479.3" y2="1075.9"/>
<line x1="439.3" y1="540.7" x2="479.3" y2="540.7"/>
<rect x="421.9" y="676.0" width="74.8" height="226.6"/>
<line x1="419.5" y1="759.5" x2="499.1" y2="759.5" style="stroke-width:5"/>
<line x1="609.7" y1="1144.7" x2="609.7" y2="1085.6" stroke-dasharray="20.6 13.4"/>
<line x1="609.7" y1="934.0" x2="609.7" y2="775.2" stroke-dasharray="20.6 13.4"/>
<line x1="589.7" y1="1144.7" x2="629.7" y2="1144.7"/>
<line x1="589.7" y1="775.2" x2="629.7" y2="775.2"/>
<rect x="572.3" y="934.0" width="74.8" height="151.6"/>
<line x1="569.9" y1="1008.7" x2="649.5" y2="1008.7" style="stroke-width:5"/>
<line x1="121.6" y1="749.7" x2="346.8" y2="749.7"/>
<line x1="421.4" y1="574.0" x2="646.8" y2="574.0"/>
<path d="M599.2 530.6H620.2M609.7 520.8V540.4" style="stroke-width:2.7"/>
<path d="M599.2 616.6H620.2M609.7 606.8V626.4" style="stroke-width:2.7"/>
<path d="M599.2 677.7H620.2M609.7 667.9V687.5" style="stroke-width:2.7"/>
<rect x="84.6" y="489.7" width="599.0" height="682.2"/>
<path d="M84.6 1146.4H91.1M683.6 1146.4H677.1"/>
<text transform="translate(61.73 1154.14) scale(1.0560 1.0300)">0</text>
<path d="M84.6 1020.0H91.1M683.6 1020.0H677.1"/>
<text transform="translate(41.14 1027.74) scale(1.0560 1.0300)">0.1</text>
<path d="M84.6 893.6H91.1M683.6 893.6H677.1"/>
<text transform="translate(41.40 901.34) scale(1.0560 1.0300)">0.2</text>
<path d="M84.6 767.2H91.1M683.6 767.2H677.1"/>
<text transform="translate(41.14 774.94) scale(1.0560 1.0300)">0.3</text>
<path d="M84.6 640.8H91.1M683.6 640.8H677.1"/>
<text transform="translate(40.87 648.54) scale(1.0560 1.0300)">0.4</text>
<path d="M84.6 514.4H91.1M683.6 514.4H677.1"/>
<text transform="translate(41.14 522.14) scale(1.0560 1.0300)">0.5</text>
<path d="M159.3 1171.9V1163.9M159.3 489.7V497.7"/>
<path d="M309.4 1171.9V1163.9M309.4 489.7V497.7"/>
<path d="M459.3 1171.9V1163.9M459.3 489.7V497.7"/>
<path d="M609.7 1171.9V1163.9M609.7 489.7V497.7"/>
<text transform="translate(144.13 1200.60) scale(1.0957 1.0300)">ITI</text>
<text transform="translate(104.73 1229.00) scale(1.0365 1.0300)">Monkey H</text>
<text transform="translate(280.77 1200.60) scale(1.0626 1.0300)">MAG</text>
<text transform="translate(254.94 1229.00) scale(1.0305 1.0300)">Monkey H</text>
<text transform="translate(443.99 1200.60) scale(1.0696 1.0300)">ITI</text>
<text transform="translate(404.93 1229.00) scale(1.0342 1.0300)">Monkey B</text>
<text transform="translate(580.77 1200.60) scale(1.0626 1.0300)">MAG</text>
<text transform="translate(554.92 1229.00) scale(1.0382 1.0300)">Monkey B</text>
<text transform="translate(319.35 1266.70) scale(1.0273 1.0300)">Permutation</text>
<text transform="translate(21.8 991.1) rotate(-90) scale(1.024 1.04)">Correlation (slope differences)</text></g>
</svg>
</body></html>
